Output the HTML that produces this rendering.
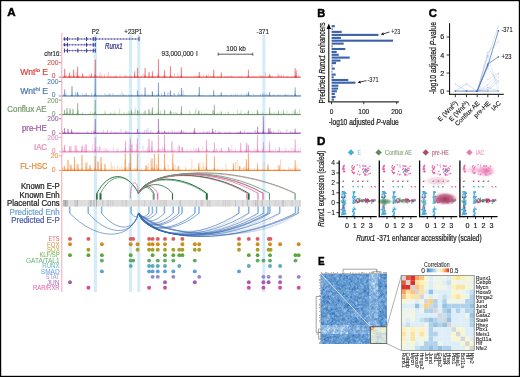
<!DOCTYPE html>
<html><head><meta charset="utf-8"><style>
html,body{margin:0;padding:0;background:#fff;}
svg{display:block;font-family:"Liberation Sans", sans-serif;will-change:transform;}
</style></head><body>
<svg width="520" height="377" viewBox="0 0 520 377">
<defs>
<radialGradient id="gG"><stop offset="0" stop-color="#4a8650" stop-opacity="1"/><stop offset="0.6" stop-color="#6a9c6c" stop-opacity="0.7"/><stop offset="1" stop-color="#8ab08a" stop-opacity="0"/></radialGradient>
<radialGradient id="gG2"><stop offset="0" stop-color="#7aa878" stop-opacity="0.6"/><stop offset="1" stop-color="#9ac09a" stop-opacity="0"/></radialGradient>
<radialGradient id="gGr"><stop offset="0" stop-color="#c8c8c8" stop-opacity="0.35"/><stop offset="1" stop-color="#dddddd" stop-opacity="0"/></radialGradient>
<radialGradient id="gP1"><stop offset="0" stop-color="#d890ac" stop-opacity="0.6"/><stop offset="1" stop-color="#f0c8d8" stop-opacity="0"/></radialGradient>
<radialGradient id="gP2"><stop offset="0" stop-color="#a8345c" stop-opacity="1"/><stop offset="0.6" stop-color="#bc5a80" stop-opacity="0.85"/><stop offset="1" stop-color="#e0a0b8" stop-opacity="0"/></radialGradient>
<radialGradient id="gI1"><stop offset="0" stop-color="#e870ac" stop-opacity="0.9"/><stop offset="0.6" stop-color="#f0a0ca" stop-opacity="0.65"/><stop offset="1" stop-color="#f4b8d8" stop-opacity="0"/></radialGradient>
<radialGradient id="gI2"><stop offset="0" stop-color="#f0a8d0" stop-opacity="0.85"/><stop offset="1" stop-color="#f6c8e0" stop-opacity="0"/></radialGradient>
<linearGradient id="gCB" x1="0" x2="1"><stop offset="0" stop-color="#3f7fc0"/><stop offset="0.3" stop-color="#9cc8e8"/><stop offset="0.5" stop-color="#f4f8e4"/><stop offset="0.7" stop-color="#fde49a"/><stop offset="0.85" stop-color="#f88a50"/><stop offset="1" stop-color="#d8262a"/></linearGradient>
</defs>
<rect x="0.00" y="0.00" width="520.00" height="377.00" fill="#fff"/>
<text x="7.3" y="16.4" font-size="11.8" fill="#000" stroke="#000" stroke-width="0.45" text-anchor="start" font-weight="bold" font-style="normal" textLength="8.4" lengthAdjust="spacingAndGlyphs">A</text>
<rect x="93.80" y="35.00" width="3.20" height="257.00" fill="#d4ecfa"/>
<rect x="128.90" y="35.00" width="3.20" height="257.00" fill="#d4ecfa"/>
<rect x="137.30" y="35.00" width="3.00" height="257.00" fill="#d4ecfa"/>
<rect x="262.40" y="35.00" width="3.00" height="257.00" fill="#d4ecfa"/>
<rect x="61.00" y="33.00" width="1.40" height="259.00" fill="#f7c0ca"/>
<text x="95.5" y="34.2" font-size="7.2" fill="#222" stroke="#222" stroke-width="0.14" text-anchor="middle" font-weight="normal" font-style="normal" textLength="7.4" lengthAdjust="spacingAndGlyphs">P2</text>
<text x="133.3" y="34.2" font-size="7.2" fill="#222" stroke="#222" stroke-width="0.14" text-anchor="middle" font-weight="normal" font-style="normal" textLength="18" lengthAdjust="spacingAndGlyphs">+23P1</text>
<text x="262.8" y="33.9" font-size="7.2" fill="#222" stroke="#222" stroke-width="0.14" text-anchor="middle" font-weight="normal" font-style="normal" textLength="12.4" lengthAdjust="spacingAndGlyphs">-371</text>
<line x1="64" y1="39.0" x2="139.2" y2="39.0" stroke="#4a4e9c" stroke-width="0.7"/>
<path d="M66.0 38.2 L67.0 39.0 L66.0 39.8" stroke="#4a4e9c" stroke-width="0.55" fill="none"/>
<path d="M69.0 38.2 L70.0 39.0 L69.0 39.8" stroke="#4a4e9c" stroke-width="0.55" fill="none"/>
<path d="M72.0 38.2 L73.0 39.0 L72.0 39.8" stroke="#4a4e9c" stroke-width="0.55" fill="none"/>
<path d="M75.0 38.2 L76.0 39.0 L75.0 39.8" stroke="#4a4e9c" stroke-width="0.55" fill="none"/>
<path d="M78.0 38.2 L79.0 39.0 L78.0 39.8" stroke="#4a4e9c" stroke-width="0.55" fill="none"/>
<path d="M81.0 38.2 L82.0 39.0 L81.0 39.8" stroke="#4a4e9c" stroke-width="0.55" fill="none"/>
<path d="M84.0 38.2 L85.0 39.0 L84.0 39.8" stroke="#4a4e9c" stroke-width="0.55" fill="none"/>
<path d="M87.0 38.2 L88.0 39.0 L87.0 39.8" stroke="#4a4e9c" stroke-width="0.55" fill="none"/>
<path d="M90.0 38.2 L91.0 39.0 L90.0 39.8" stroke="#4a4e9c" stroke-width="0.55" fill="none"/>
<path d="M93.0 38.2 L94.0 39.0 L93.0 39.8" stroke="#4a4e9c" stroke-width="0.55" fill="none"/>
<path d="M96.0 38.2 L97.0 39.0 L96.0 39.8" stroke="#4a4e9c" stroke-width="0.55" fill="none"/>
<path d="M99.0 38.2 L100.0 39.0 L99.0 39.8" stroke="#4a4e9c" stroke-width="0.55" fill="none"/>
<path d="M102.0 38.2 L103.0 39.0 L102.0 39.8" stroke="#4a4e9c" stroke-width="0.55" fill="none"/>
<path d="M105.0 38.2 L106.0 39.0 L105.0 39.8" stroke="#4a4e9c" stroke-width="0.55" fill="none"/>
<path d="M108.0 38.2 L109.0 39.0 L108.0 39.8" stroke="#4a4e9c" stroke-width="0.55" fill="none"/>
<path d="M111.0 38.2 L112.0 39.0 L111.0 39.8" stroke="#4a4e9c" stroke-width="0.55" fill="none"/>
<path d="M114.0 38.2 L115.0 39.0 L114.0 39.8" stroke="#4a4e9c" stroke-width="0.55" fill="none"/>
<path d="M117.0 38.2 L118.0 39.0 L117.0 39.8" stroke="#4a4e9c" stroke-width="0.55" fill="none"/>
<path d="M120.0 38.2 L121.0 39.0 L120.0 39.8" stroke="#4a4e9c" stroke-width="0.55" fill="none"/>
<path d="M123.0 38.2 L124.0 39.0 L123.0 39.8" stroke="#4a4e9c" stroke-width="0.55" fill="none"/>
<path d="M126.0 38.2 L127.0 39.0 L126.0 39.8" stroke="#4a4e9c" stroke-width="0.55" fill="none"/>
<path d="M129.0 38.2 L130.0 39.0 L129.0 39.8" stroke="#4a4e9c" stroke-width="0.55" fill="none"/>
<path d="M132.0 38.2 L133.0 39.0 L132.0 39.8" stroke="#4a4e9c" stroke-width="0.55" fill="none"/>
<path d="M135.0 38.2 L136.0 39.0 L135.0 39.8" stroke="#4a4e9c" stroke-width="0.55" fill="none"/>
<rect x="67.00" y="37.00" width="1.05" height="4.00" fill="#3b3f8e"/>
<rect x="77.30" y="37.00" width="1.05" height="4.00" fill="#3b3f8e"/>
<rect x="86.00" y="37.00" width="1.05" height="4.00" fill="#3b3f8e"/>
<rect x="92.70" y="37.00" width="1.05" height="4.00" fill="#3b3f8e"/>
<rect x="94.80" y="37.00" width="1.05" height="4.00" fill="#3b3f8e"/>
<ellipse cx="64.5" cy="39.0" rx="1.0" ry="1.8" fill="#3b3f8e"/>
<rect x="138.50" y="36.80" width="1.00" height="4.40" fill="#3b3f8e"/>
<line x1="64" y1="44.8" x2="95.8" y2="44.8" stroke="#4a4e9c" stroke-width="0.7"/>
<path d="M66.0 44.0 L67.0 44.8 L66.0 45.599999999999994" stroke="#4a4e9c" stroke-width="0.55" fill="none"/>
<path d="M69.0 44.0 L70.0 44.8 L69.0 45.599999999999994" stroke="#4a4e9c" stroke-width="0.55" fill="none"/>
<path d="M72.0 44.0 L73.0 44.8 L72.0 45.599999999999994" stroke="#4a4e9c" stroke-width="0.55" fill="none"/>
<path d="M75.0 44.0 L76.0 44.8 L75.0 45.599999999999994" stroke="#4a4e9c" stroke-width="0.55" fill="none"/>
<path d="M78.0 44.0 L79.0 44.8 L78.0 45.599999999999994" stroke="#4a4e9c" stroke-width="0.55" fill="none"/>
<path d="M81.0 44.0 L82.0 44.8 L81.0 45.599999999999994" stroke="#4a4e9c" stroke-width="0.55" fill="none"/>
<path d="M84.0 44.0 L85.0 44.8 L84.0 45.599999999999994" stroke="#4a4e9c" stroke-width="0.55" fill="none"/>
<path d="M87.0 44.0 L88.0 44.8 L87.0 45.599999999999994" stroke="#4a4e9c" stroke-width="0.55" fill="none"/>
<path d="M90.0 44.0 L91.0 44.8 L90.0 45.599999999999994" stroke="#4a4e9c" stroke-width="0.55" fill="none"/>
<path d="M93.0 44.0 L94.0 44.8 L93.0 45.599999999999994" stroke="#4a4e9c" stroke-width="0.55" fill="none"/>
<rect x="67.00" y="42.80" width="1.05" height="4.00" fill="#3b3f8e"/>
<rect x="86.00" y="42.80" width="1.05" height="4.00" fill="#3b3f8e"/>
<rect x="92.70" y="42.80" width="1.05" height="4.00" fill="#3b3f8e"/>
<rect x="94.80" y="42.80" width="1.05" height="4.00" fill="#3b3f8e"/>
<ellipse cx="64.5" cy="44.8" rx="1.0" ry="1.8" fill="#3b3f8e"/>
<line x1="64" y1="50.6" x2="95.8" y2="50.6" stroke="#4a4e9c" stroke-width="0.7"/>
<path d="M66.0 49.800000000000004 L67.0 50.6 L66.0 51.4" stroke="#4a4e9c" stroke-width="0.55" fill="none"/>
<path d="M69.0 49.800000000000004 L70.0 50.6 L69.0 51.4" stroke="#4a4e9c" stroke-width="0.55" fill="none"/>
<path d="M72.0 49.800000000000004 L73.0 50.6 L72.0 51.4" stroke="#4a4e9c" stroke-width="0.55" fill="none"/>
<path d="M75.0 49.800000000000004 L76.0 50.6 L75.0 51.4" stroke="#4a4e9c" stroke-width="0.55" fill="none"/>
<path d="M78.0 49.800000000000004 L79.0 50.6 L78.0 51.4" stroke="#4a4e9c" stroke-width="0.55" fill="none"/>
<path d="M81.0 49.800000000000004 L82.0 50.6 L81.0 51.4" stroke="#4a4e9c" stroke-width="0.55" fill="none"/>
<path d="M84.0 49.800000000000004 L85.0 50.6 L84.0 51.4" stroke="#4a4e9c" stroke-width="0.55" fill="none"/>
<path d="M87.0 49.800000000000004 L88.0 50.6 L87.0 51.4" stroke="#4a4e9c" stroke-width="0.55" fill="none"/>
<path d="M90.0 49.800000000000004 L91.0 50.6 L90.0 51.4" stroke="#4a4e9c" stroke-width="0.55" fill="none"/>
<path d="M93.0 49.800000000000004 L94.0 50.6 L93.0 51.4" stroke="#4a4e9c" stroke-width="0.55" fill="none"/>
<rect x="67.00" y="48.60" width="1.05" height="4.00" fill="#3b3f8e"/>
<rect x="77.30" y="48.60" width="1.05" height="4.00" fill="#3b3f8e"/>
<rect x="86.00" y="48.60" width="1.05" height="4.00" fill="#3b3f8e"/>
<rect x="92.70" y="48.60" width="1.05" height="4.00" fill="#3b3f8e"/>
<rect x="94.80" y="48.60" width="1.05" height="4.00" fill="#3b3f8e"/>
<rect x="63.90" y="48.60" width="1.05" height="4.00" fill="#3b3f8e"/>
<text x="113.8" y="49.4" font-size="8.4" fill="#30348a" stroke="#30348a" stroke-width="0.24" text-anchor="middle" font-weight="normal" font-style="italic" textLength="17.5" lengthAdjust="spacingAndGlyphs">Runx1</text>
<text x="61" y="56.3" font-size="7.2" fill="#222" stroke="#222" stroke-width="0.14" text-anchor="end" font-weight="normal" font-style="normal" textLength="16.8" lengthAdjust="spacingAndGlyphs">chr16:</text>
<text x="161.6" y="56.0" font-size="7.2" fill="#222" stroke="#222" stroke-width="0.14" text-anchor="start" font-weight="normal" font-style="normal" textLength="32" lengthAdjust="spacingAndGlyphs">93,000,000</text>
<rect x="196.50" y="50.80" width="0.80" height="5.20" fill="#222"/>
<text x="236" y="51.2" font-size="7.2" fill="#222" stroke="#222" stroke-width="0.14" text-anchor="middle" font-weight="normal" font-style="normal" textLength="19.5" lengthAdjust="spacingAndGlyphs">100 kb</text>
<line x1="218" y1="54.2" x2="253" y2="54.2" stroke="#333" stroke-width="0.8"/>
<line x1="218.2" y1="52.6" x2="218.2" y2="55.8" stroke="#333" stroke-width="0.7"/>
<line x1="252.8" y1="52.6" x2="252.8" y2="55.8" stroke="#333" stroke-width="0.7"/>
<text x="20.2" y="74.89999999999999" font-size="8.6" fill="#d9463f" stroke="#d9463f" stroke-width="0.24">Wnt<tspan font-size="5.8" dy="-3.2">lo</tspan><tspan dy="3.2"> E</tspan></text>
<text x="58.4" y="65.10000000000001" font-size="6.8" fill="#d9463f" stroke="#d9463f" stroke-width="0.06" text-anchor="end" font-weight="normal" font-style="normal" textLength="11.2" lengthAdjust="spacingAndGlyphs">200</text>
<text x="55.6" y="78.4" font-size="6.8" fill="#d9463f" stroke="#d9463f" stroke-width="0.06" text-anchor="end" font-weight="normal" font-style="normal">0</text>
<line x1="58.8" y1="62.7" x2="61.2" y2="62.7" stroke="#d9463f" stroke-width="0.8"/>
<line x1="58.8" y1="77.2" x2="61.2" y2="77.2" stroke="#d9463f" stroke-width="0.8"/>
<path d="M63.1 77.2 V76.2 M63.9 77.2 V76.6 M65.1 77.2 V76.3 M65.7 77.2 V76.9 M66.3 77.2 V74.6 M67.1 77.2 V76.8 M67.7 77.2 V76.8 M68.5 77.2 V75.3 M69.1 77.2 V75.6 M71.3 77.2 V75.2 M72.1 77.2 V75.9 M73.5 77.2 V76.4 M74.5 77.2 V76.2 M75.3 77.2 V76.6 M76.1 77.2 V72.0 M76.7 77.2 V75.9 M77.7 77.2 V76.7 M78.7 77.2 V76.2 M79.7 77.2 V75.9 M82.3 77.2 V76.2 M83.3 77.2 V75.5 M84.3 77.2 V76.4 M85.3 77.2 V76.2 M86.7 77.2 V75.8 M88.3 77.2 V76.8 M89.3 77.2 V74.0 M90.9 77.2 V75.9 M91.5 77.2 V72.9 M94.1 77.2 V74.9 M95.1 77.2 V76.8 M96.1 77.2 V76.7 M97.1 77.2 V75.6 M97.7 77.2 V75.8 M99.5 77.2 V75.7 M100.1 77.2 V72.2 M101.5 77.2 V75.0 M104.5 77.2 V74.4 M105.5 77.2 V76.9 M107.7 77.2 V75.7 M108.3 77.2 V72.1 M109.3 77.2 V76.9 M110.1 77.2 V76.8 M110.7 77.2 V75.3 M111.7 77.2 V76.6 M112.7 77.2 V76.7 M113.5 77.2 V76.5 M114.1 77.2 V76.4 M114.7 77.2 V76.5 M115.5 77.2 V75.9 M116.3 77.2 V75.6 M116.9 77.2 V75.3 M119.5 77.2 V76.5 M120.1 77.2 V74.5 M121.7 77.2 V76.5 M124.3 77.2 V75.2 M125.3 77.2 V76.0 M125.9 77.2 V74.4 M127.5 77.2 V76.1 M129.3 77.2 V75.7 M129.9 77.2 V76.5 M130.5 77.2 V76.3 M131.5 77.2 V76.2 M134.9 77.2 V75.0 M136.5 77.2 V76.4 M137.5 77.2 V76.8 M140.9 77.2 V76.1 M141.5 77.2 V75.8 M143.1 77.2 V73.6 M144.5 77.2 V74.8 M146.7 77.2 V76.3 M148.3 77.2 V76.8 M150.1 77.2 V75.7 M150.9 77.2 V76.5 M151.5 77.2 V76.8 M152.3 77.2 V76.0 M153.3 77.2 V76.2 M154.1 77.2 V76.8 M154.7 77.2 V76.1 M155.5 77.2 V76.4 M156.3 77.2 V76.1 M157.9 77.2 V75.9 M159.5 77.2 V76.8 M160.3 77.2 V76.7 M161.3 77.2 V76.2 M162.3 77.2 V76.1 M162.9 77.2 V76.8 M163.7 77.2 V74.9 M164.7 77.2 V75.5 M165.5 77.2 V76.4 M166.3 77.2 V76.6 M167.3 77.2 V76.6 M167.9 77.2 V76.7 M169.5 77.2 V76.4 M170.1 77.2 V76.6 M171.7 77.2 V76.8 M172.3 77.2 V75.9 M172.9 77.2 V75.9 M174.5 77.2 V73.4 M176.3 77.2 V76.7 M176.9 77.2 V76.7 M177.9 77.2 V73.0 M178.5 77.2 V76.0 M179.5 77.2 V76.5 M180.1 77.2 V75.8 M181.7 77.2 V76.8 M182.7 77.2 V76.7 M183.9 77.2 V76.6 M185.5 77.2 V76.8 M187.5 77.2 V76.1 M188.3 77.2 V76.9 M190.7 77.2 V76.8 M191.7 77.2 V76.3 M193.5 77.2 V76.1 M194.9 77.2 V75.5 M196.7 77.2 V75.9 M197.5 77.2 V75.9 M198.3 77.2 V76.5 M198.9 77.2 V75.9 M200.9 77.2 V75.1 M201.9 77.2 V76.9 M203.3 77.2 V74.1 M204.7 77.2 V76.7 M206.7 77.2 V75.5 M208.3 77.2 V73.8 M209.1 77.2 V76.5 M209.9 77.2 V76.4 M210.7 77.2 V75.7 M211.7 77.2 V76.1 M212.5 77.2 V76.2 M213.3 77.2 V76.5 M214.1 77.2 V76.8 M216.9 77.2 V76.2 M217.7 77.2 V76.2 M218.3 77.2 V76.8 M219.3 77.2 V76.7 M220.1 77.2 V76.6 M220.7 77.2 V76.5 M224.3 77.2 V76.1 M225.7 77.2 V76.2 M227.3 77.2 V76.1 M227.9 77.2 V76.2 M228.9 77.2 V76.4 M229.9 77.2 V76.4 M230.7 77.2 V76.1 M231.3 77.2 V75.4 M232.1 77.2 V76.7 M232.9 77.2 V76.2 M233.9 77.2 V76.8 M236.1 77.2 V76.5 M237.7 77.2 V76.9 M238.7 77.2 V76.2 M239.7 77.2 V76.4 M241.1 77.2 V76.5 M241.7 77.2 V75.3 M242.7 77.2 V76.6 M243.7 77.2 V76.9 M245.7 77.2 V76.4 M247.5 77.2 V76.2 M248.3 77.2 V76.5 M249.3 77.2 V76.6 M250.9 77.2 V76.3 M251.5 77.2 V76.8 M252.3 77.2 V76.6 M253.3 77.2 V75.7 M254.3 77.2 V75.7 M255.5 77.2 V76.7 M256.3 77.2 V76.7 M257.1 77.2 V76.5 M258.1 77.2 V76.7 M259.9 77.2 V74.8 M260.5 77.2 V76.3 M261.3 77.2 V75.7 M262.1 77.2 V75.4 M263.1 77.2 V75.8 M263.9 77.2 V76.5 M265.3 77.2 V72.6 M265.9 77.2 V76.3 M266.9 77.2 V76.8 M267.9 77.2 V75.3 M268.5 77.2 V76.5 M269.5 77.2 V76.2 M270.5 77.2 V75.2 M271.1 77.2 V76.5 M272.1 77.2 V75.4 M276.7 77.2 V76.5 M277.5 77.2 V76.4 M278.1 77.2 V73.2 M278.9 77.2 V75.0 M279.9 77.2 V75.0 M281.1 77.2 V75.6 M281.7 77.2 V75.2 M282.7 77.2 V76.8 M283.7 77.2 V74.7 M284.7 77.2 V76.6 M285.5 77.2 V76.6 M286.7 77.2 V76.8 M287.3 77.2 V76.1 M287.9 77.2 V75.7 M291.3 77.2 V75.8 M292.1 77.2 V76.7 M294.1 77.2 V76.0 M295.1 77.2 V76.2 M296.1 77.2 V76.6 M297.1 77.2 V76.3 M298.7 77.2 V74.4 M299.7 77.2 V76.7" stroke="#e2343a" stroke-width="0.5" fill="none" opacity="0.6"/>
<path d="M64.0 77.2 L64.5 75.6 L64.6 69.0 L65.0 69.0 L65.1 75.6 L65.6 77.2 Z M69.0 77.2 L69.5 76.3 L69.6 72.7 L70.0 72.7 L70.1 76.3 L70.6 77.2 Z M72.9 77.2 L73.4 75.7 L73.5 69.9 L73.9 69.9 L74.0 75.7 L74.5 77.2 Z M76.9 77.2 L77.4 75.1 L77.5 66.9 L77.9 66.9 L78.0 75.1 L78.5 77.2 Z M81.6 77.2 L82.1 76.5 L82.2 73.5 L82.6 73.5 L82.7 76.5 L83.2 77.2 Z M90.5 77.2 L91.0 76.7 L91.1 74.7 L91.5 74.7 L91.6 76.7 L92.1 77.2 Z M94.4 77.2 L94.9 73.7 L95.0 59.8 L95.4 59.8 L95.5 73.7 L96.0 77.2 Z M133.9 77.2 L134.4 76.0 L134.5 71.4 L134.8 71.4 L135.0 76.0 L135.5 77.2 Z M136.8 77.2 L137.3 75.4 L137.4 68.0 L137.8 68.0 L137.9 75.4 L138.4 77.2 Z M144.3 77.2 L144.8 75.4 L144.9 68.0 L145.2 68.0 L145.4 75.4 L145.9 77.2 Z M148.2 77.2 L148.7 76.2 L148.8 72.3 L149.2 72.3 L149.3 76.2 L149.8 77.2 Z M151.6 77.2 L152.1 76.0 L152.2 71.4 L152.6 71.4 L152.7 76.0 L153.2 77.2 Z M157.6 77.2 L158.1 73.6 L158.2 59.3 L158.6 59.3 L158.7 73.6 L159.2 77.2 Z M163.8 77.2 L164.3 75.8 L164.4 70.2 L164.8 70.2 L164.9 75.8 L165.4 77.2 Z M169.7 77.2 L170.2 75.0 L170.3 66.2 L170.7 66.2 L170.8 75.0 L171.3 77.2 Z M180.6 77.2 L181.1 75.3 L181.2 67.5 L181.6 67.5 L181.7 75.3 L182.2 77.2 Z M198.4 77.2 L198.9 76.2 L199.0 72.0 L199.3 72.0 L199.5 76.2 L200.0 77.2 Z M205.7 77.2 L206.2 76.8 L206.3 75.4 L206.7 75.4 L206.8 76.8 L207.3 77.2 Z M213.0 77.2 L213.5 75.7 L213.7 69.7 L214.0 69.7 L214.1 75.7 L214.6 77.2 Z M220.4 77.2 L220.9 76.3 L221.0 72.6 L221.3 72.6 L221.5 76.3 L222.0 77.2 Z M247.6 77.2 L248.1 75.7 L248.2 69.7 L248.6 69.7 L248.7 75.7 L249.2 77.2 Z M268.9 77.2 L269.4 76.6 L269.6 74.0 L269.8 74.0 L270.0 76.6 L270.5 77.2 Z M294.3 77.2 L294.8 75.4 L295.0 68.0 L295.2 68.0 L295.4 75.4 L295.9 77.2 Z M295.4 77.2 L295.9 75.9 L296.1 70.6 L296.3 70.6 L296.5 75.9 L297.0 77.2 Z" fill="#e2343a" stroke="#e2343a" stroke-width="0.25" opacity="0.9"/>
<line x1="62.2" y1="77.2" x2="300.8" y2="77.2" stroke="#e2343a" stroke-width="1.0"/>
<text x="20.2" y="93.69999999999999" font-size="8.6" fill="#4b78b6" stroke="#4b78b6" stroke-width="0.24">Wnt<tspan font-size="5.8" dy="-3.2">hi</tspan><tspan dy="3.2"> E</tspan></text>
<text x="58.4" y="83.9" font-size="6.8" fill="#4b78b6" stroke="#4b78b6" stroke-width="0.06" text-anchor="end" font-weight="normal" font-style="normal" textLength="11.2" lengthAdjust="spacingAndGlyphs">200</text>
<text x="55.6" y="97.2" font-size="6.8" fill="#4b78b6" stroke="#4b78b6" stroke-width="0.06" text-anchor="end" font-weight="normal" font-style="normal">0</text>
<line x1="58.8" y1="81.5" x2="61.2" y2="81.5" stroke="#4b78b6" stroke-width="0.8"/>
<line x1="58.8" y1="96.0" x2="61.2" y2="96.0" stroke="#4b78b6" stroke-width="0.8"/>
<path d="M62.5 96.0 V95.3 M63.5 96.0 V93.9 M64.5 96.0 V95.4 M65.3 96.0 V95.5 M66.1 96.0 V93.2 M67.7 96.0 V95.6 M71.1 96.0 V95.1 M71.9 96.0 V95.6 M75.3 96.0 V92.1 M75.9 96.0 V92.6 M77.7 96.0 V92.2 M78.7 96.0 V95.3 M80.7 96.0 V95.4 M82.3 96.0 V93.7 M82.9 96.0 V95.1 M83.9 96.0 V94.7 M84.5 96.0 V95.1 M85.1 96.0 V94.9 M85.9 96.0 V93.0 M86.5 96.0 V93.5 M87.3 96.0 V95.6 M88.3 96.0 V95.1 M90.5 96.0 V95.5 M91.5 96.0 V92.8 M93.9 96.0 V95.5 M96.5 96.0 V95.7 M97.3 96.0 V95.7 M98.1 96.0 V95.6 M98.7 96.0 V95.4 M101.1 96.0 V95.1 M101.9 96.0 V95.4 M104.9 96.0 V93.1 M106.5 96.0 V94.3 M107.7 96.0 V94.8 M108.7 96.0 V94.0 M109.5 96.0 V93.9 M110.5 96.0 V93.5 M112.3 96.0 V95.3 M112.9 96.0 V93.0 M113.7 96.0 V95.4 M114.5 96.0 V95.0 M116.3 96.0 V94.7 M116.9 96.0 V94.9 M117.5 96.0 V95.0 M118.5 96.0 V94.9 M120.1 96.0 V93.7 M121.1 96.0 V95.4 M122.1 96.0 V91.6 M123.1 96.0 V94.1 M123.9 96.0 V94.1 M124.5 96.0 V95.5 M125.5 96.0 V95.3 M126.3 96.0 V94.9 M128.5 96.0 V94.6 M130.3 96.0 V94.9 M131.1 96.0 V95.0 M131.9 96.0 V94.2 M132.5 96.0 V95.6 M133.3 96.0 V95.5 M134.1 96.0 V94.9 M134.7 96.0 V95.7 M135.5 96.0 V95.4 M137.3 96.0 V95.0 M138.3 96.0 V95.6 M139.1 96.0 V95.2 M139.7 96.0 V95.5 M140.3 96.0 V95.1 M140.9 96.0 V94.5 M141.7 96.0 V94.1 M142.5 96.0 V94.6 M143.1 96.0 V95.6 M144.1 96.0 V95.0 M146.9 96.0 V95.5 M147.7 96.0 V94.3 M148.3 96.0 V95.4 M148.9 96.0 V94.9 M149.7 96.0 V95.2 M150.3 96.0 V95.6 M150.9 96.0 V94.8 M152.3 96.0 V91.2 M153.3 96.0 V95.5 M154.7 96.0 V94.4 M155.7 96.0 V95.4 M156.5 96.0 V94.9 M161.5 96.0 V92.9 M162.5 96.0 V95.1 M163.1 96.0 V95.3 M163.7 96.0 V95.3 M165.3 96.0 V95.6 M165.9 96.0 V95.6 M167.5 96.0 V92.7 M168.9 96.0 V91.9 M171.3 96.0 V95.7 M172.3 96.0 V95.6 M173.9 96.0 V93.0 M174.5 96.0 V93.2 M175.3 96.0 V94.6 M177.7 96.0 V94.2 M178.5 96.0 V92.4 M179.1 96.0 V95.4 M179.7 96.0 V94.0 M181.7 96.0 V94.4 M183.1 96.0 V90.4 M184.1 96.0 V94.4 M184.9 96.0 V95.0 M186.7 96.0 V95.1 M187.5 96.0 V95.7 M188.3 96.0 V95.6 M189.3 96.0 V95.2 M189.9 96.0 V95.6 M191.3 96.0 V95.6 M192.5 96.0 V95.4 M194.3 96.0 V95.1 M194.9 96.0 V95.2 M197.9 96.0 V94.8 M201.1 96.0 V95.7 M201.7 96.0 V95.0 M202.5 96.0 V95.2 M203.3 96.0 V95.7 M204.1 96.0 V95.6 M205.1 96.0 V95.6 M208.1 96.0 V95.4 M209.1 96.0 V95.3 M209.9 96.0 V94.6 M211.5 96.0 V95.7 M213.1 96.0 V95.2 M215.9 96.0 V95.2 M217.9 96.0 V94.6 M219.5 96.0 V95.0 M220.1 96.0 V95.6 M221.1 96.0 V95.7 M221.7 96.0 V94.8 M223.5 96.0 V95.1 M224.5 96.0 V94.9 M225.5 96.0 V95.5 M226.1 96.0 V95.1 M226.7 96.0 V95.0 M227.7 96.0 V95.2 M229.7 96.0 V95.2 M230.5 96.0 V94.5 M231.5 96.0 V94.5 M232.1 96.0 V95.7 M233.1 96.0 V94.8 M233.9 96.0 V95.3 M235.1 96.0 V93.2 M236.1 96.0 V94.8 M236.9 96.0 V95.2 M237.5 96.0 V94.2 M239.3 96.0 V94.8 M240.1 96.0 V95.7 M240.9 96.0 V94.7 M241.9 96.0 V93.6 M244.5 96.0 V94.6 M246.1 96.0 V94.2 M246.9 96.0 V93.2 M247.7 96.0 V95.6 M248.3 96.0 V95.3 M248.9 96.0 V93.6 M250.5 96.0 V95.1 M253.5 96.0 V93.9 M255.1 96.0 V95.5 M255.7 96.0 V95.1 M256.7 96.0 V95.1 M258.5 96.0 V95.0 M260.1 96.0 V93.6 M260.9 96.0 V94.8 M262.5 96.0 V93.9 M263.1 96.0 V93.5 M264.1 96.0 V92.7 M265.1 96.0 V94.3 M265.9 96.0 V95.1 M266.7 96.0 V93.4 M267.3 96.0 V94.3 M268.1 96.0 V95.4 M269.5 96.0 V93.7 M270.5 96.0 V95.3 M272.3 96.0 V94.8 M273.3 96.0 V94.7 M274.3 96.0 V94.4 M275.1 96.0 V94.9 M276.5 96.0 V95.4 M277.1 96.0 V95.6 M277.7 96.0 V94.9 M278.5 96.0 V94.2 M279.3 96.0 V95.6 M280.1 96.0 V94.6 M281.1 96.0 V95.3 M281.7 96.0 V95.6 M282.7 96.0 V95.4 M283.5 96.0 V95.5 M284.5 96.0 V95.0 M285.1 96.0 V93.9 M285.7 96.0 V94.1 M286.3 96.0 V95.7 M286.9 96.0 V94.9 M287.5 96.0 V95.2 M288.3 96.0 V94.3 M289.7 96.0 V95.3 M291.1 96.0 V94.5 M292.1 96.0 V94.9 M295.1 96.0 V93.1 M295.7 96.0 V94.5 M296.5 96.0 V95.2 M298.3 96.0 V95.2 M299.1 96.0 V95.7 M300.1 96.0 V94.5" stroke="#3d6aa6" stroke-width="0.5" fill="none" opacity="0.6"/>
<path d="M64.0 96.0 L64.5 94.7 L64.6 89.6 L65.0 89.6 L65.1 94.7 L65.6 96.0 Z M71.2 96.0 L71.7 94.1 L71.8 86.6 L72.2 86.6 L72.3 94.1 L72.8 96.0 Z M76.9 96.0 L77.4 95.2 L77.5 92.2 L77.9 92.2 L78.0 95.2 L78.5 96.0 Z M94.4 96.0 L94.9 92.5 L95.0 78.3 L95.4 78.3 L95.5 92.5 L96.0 96.0 Z M136.8 96.0 L137.3 94.9 L137.4 90.5 L137.8 90.5 L137.9 94.9 L138.4 96.0 Z M144.3 96.0 L144.8 94.3 L144.9 87.5 L145.2 87.5 L145.4 94.3 L145.9 96.0 Z M151.6 96.0 L152.1 95.1 L152.2 91.7 L152.6 91.7 L152.7 95.1 L153.2 96.0 Z M157.6 96.0 L158.1 93.3 L158.2 82.7 L158.6 82.7 L158.7 93.3 L159.2 96.0 Z M163.8 96.0 L164.3 95.1 L164.4 91.7 L164.8 91.7 L164.9 95.1 L165.4 96.0 Z M169.7 96.0 L170.2 94.9 L170.3 90.5 L170.7 90.5 L170.8 94.9 L171.3 96.0 Z M180.6 96.0 L181.1 94.4 L181.2 87.9 L181.6 87.9 L181.7 94.4 L182.2 96.0 Z M198.4 96.0 L198.9 94.2 L199.0 87.0 L199.3 87.0 L199.5 94.2 L200.0 96.0 Z M213.0 96.0 L213.5 94.9 L213.7 90.5 L214.0 90.5 L214.1 94.9 L214.6 96.0 Z M220.4 96.0 L220.9 95.2 L221.0 92.2 L221.3 92.2 L221.5 95.2 L222.0 96.0 Z M247.6 96.0 L248.1 95.1 L248.2 91.7 L248.6 91.7 L248.7 95.1 L249.2 96.0 Z M268.9 96.0 L269.4 95.2 L269.6 92.0 L269.8 92.0 L270.0 95.2 L270.5 96.0 Z M294.3 96.0 L294.8 94.3 L295.0 87.5 L295.2 87.5 L295.4 94.3 L295.9 96.0 Z" fill="#3d6aa6" stroke="#3d6aa6" stroke-width="0.25" opacity="0.9"/>
<line x1="62.2" y1="96.0" x2="300.8" y2="96.0" stroke="#3d6aa6" stroke-width="1.0"/>
<text x="7.2" y="112.39999999999999" font-size="8.6" fill="#799b6c" stroke="#799b6c" stroke-width="0.24" text-anchor="start" font-weight="normal" font-style="normal" textLength="39.5" lengthAdjust="spacingAndGlyphs">Conflux AE</text>
<text x="58.4" y="102.5" font-size="6.8" fill="#799b6c" stroke="#799b6c" stroke-width="0.06" text-anchor="end" font-weight="normal" font-style="normal" textLength="11.2" lengthAdjust="spacingAndGlyphs">200</text>
<text x="55.6" y="115.8" font-size="6.8" fill="#799b6c" stroke="#799b6c" stroke-width="0.06" text-anchor="end" font-weight="normal" font-style="normal">0</text>
<line x1="58.8" y1="100.1" x2="61.2" y2="100.1" stroke="#799b6c" stroke-width="0.8"/>
<line x1="58.8" y1="114.6" x2="61.2" y2="114.6" stroke="#799b6c" stroke-width="0.8"/>
<path d="M63.1 114.6 V113.8 M63.7 114.6 V114.1 M64.7 114.6 V113.7 M65.7 114.6 V113.6 M66.3 114.6 V113.3 M66.9 114.6 V112.2 M67.5 114.6 V113.7 M68.5 114.6 V112.8 M70.5 114.6 V110.3 M71.3 114.6 V114.1 M72.1 114.6 V113.2 M74.7 114.6 V114.3 M75.7 114.6 V114.0 M76.5 114.6 V112.9 M77.3 114.6 V113.6 M78.3 114.6 V110.0 M78.9 114.6 V114.1 M79.9 114.6 V113.7 M80.5 114.6 V113.8 M82.3 114.6 V111.7 M82.9 114.6 V113.1 M83.7 114.6 V113.3 M88.7 114.6 V113.3 M89.3 114.6 V114.0 M90.3 114.6 V111.3 M91.1 114.6 V113.8 M92.7 114.6 V112.4 M93.7 114.6 V112.8 M94.7 114.6 V111.5 M95.9 114.6 V113.4 M97.5 114.6 V114.3 M100.9 114.6 V113.9 M101.7 114.6 V113.8 M102.5 114.6 V113.5 M104.3 114.6 V112.3 M105.1 114.6 V110.3 M105.7 114.6 V113.2 M107.5 114.6 V113.7 M108.3 114.6 V114.3 M109.9 114.6 V113.0 M110.5 114.6 V113.2 M111.1 114.6 V112.1 M112.7 114.6 V113.6 M113.5 114.6 V113.2 M114.3 114.6 V111.3 M115.1 114.6 V113.5 M115.7 114.6 V113.4 M116.5 114.6 V113.8 M118.7 114.6 V112.8 M119.7 114.6 V108.6 M120.7 114.6 V114.1 M121.5 114.6 V113.3 M123.3 114.6 V113.2 M124.3 114.6 V112.1 M124.9 114.6 V113.6 M126.3 114.6 V114.3 M126.9 114.6 V112.3 M128.3 114.6 V112.9 M128.9 114.6 V111.0 M129.7 114.6 V113.3 M130.7 114.6 V113.4 M131.5 114.6 V109.5 M132.3 114.6 V112.3 M134.1 114.6 V112.1 M134.9 114.6 V109.9 M135.7 114.6 V107.6 M136.3 114.6 V114.3 M137.1 114.6 V113.9 M138.7 114.6 V111.5 M139.3 114.6 V110.5 M140.3 114.6 V113.4 M141.1 114.6 V114.1 M141.7 114.6 V112.7 M142.7 114.6 V114.0 M143.7 114.6 V112.0 M144.7 114.6 V113.6 M145.3 114.6 V114.3 M146.9 114.6 V113.6 M147.5 114.6 V114.1 M148.1 114.6 V114.3 M148.9 114.6 V114.0 M149.9 114.6 V112.8 M150.9 114.6 V112.2 M151.9 114.6 V110.2 M152.5 114.6 V113.0 M153.1 114.6 V114.1 M153.7 114.6 V113.9 M154.7 114.6 V113.8 M155.5 114.6 V113.1 M156.5 114.6 V113.2 M160.1 114.6 V113.2 M160.7 114.6 V110.3 M162.5 114.6 V113.5 M164.3 114.6 V113.7 M165.3 114.6 V114.2 M165.9 114.6 V114.0 M167.1 114.6 V114.1 M168.1 114.6 V113.6 M169.1 114.6 V114.3 M169.9 114.6 V112.0 M170.9 114.6 V109.8 M171.5 114.6 V112.0 M172.3 114.6 V113.9 M173.5 114.6 V111.8 M174.3 114.6 V113.7 M174.9 114.6 V114.1 M175.7 114.6 V111.8 M176.5 114.6 V113.0 M177.1 114.6 V112.7 M178.5 114.6 V114.0 M179.3 114.6 V113.9 M180.7 114.6 V112.2 M181.7 114.6 V112.7 M182.3 114.6 V114.2 M182.9 114.6 V113.4 M184.3 114.6 V114.3 M185.7 114.6 V113.0 M187.7 114.6 V114.2 M188.5 114.6 V113.7 M189.5 114.6 V110.4 M190.3 114.6 V112.7 M193.5 114.6 V113.5 M194.3 114.6 V113.5 M195.3 114.6 V110.6 M195.9 114.6 V108.4 M196.9 114.6 V114.2 M197.5 114.6 V114.1 M198.1 114.6 V112.9 M199.1 114.6 V111.2 M199.7 114.6 V113.6 M200.5 114.6 V114.2 M201.5 114.6 V111.4 M202.3 114.6 V114.1 M202.9 114.6 V114.2 M203.9 114.6 V113.3 M204.9 114.6 V113.4 M205.5 114.6 V113.9 M206.3 114.6 V112.7 M207.7 114.6 V113.3 M209.5 114.6 V113.2 M211.7 114.6 V114.2 M212.5 114.6 V110.7 M213.1 114.6 V109.6 M213.7 114.6 V111.0 M214.5 114.6 V114.3 M215.5 114.6 V114.2 M216.3 114.6 V113.8 M217.1 114.6 V112.7 M218.1 114.6 V114.0 M219.1 114.6 V112.2 M220.7 114.6 V114.1 M221.5 114.6 V114.1 M222.1 114.6 V114.2 M225.5 114.6 V112.7 M226.1 114.6 V114.1 M226.9 114.6 V114.2 M227.9 114.6 V112.0 M228.7 114.6 V111.6 M229.7 114.6 V113.6 M233.5 114.6 V113.3 M234.5 114.6 V114.3 M236.7 114.6 V114.0 M237.3 114.6 V109.5 M238.1 114.6 V113.2 M239.7 114.6 V113.2 M240.3 114.6 V112.6 M241.1 114.6 V110.1 M241.7 114.6 V113.7 M242.7 114.6 V114.0 M243.7 114.6 V113.8 M244.5 114.6 V113.2 M245.1 114.6 V112.9 M245.9 114.6 V114.2 M246.9 114.6 V113.6 M247.9 114.6 V111.9 M249.1 114.6 V114.1 M250.7 114.6 V113.8 M251.5 114.6 V114.0 M252.5 114.6 V112.5 M254.3 114.6 V113.7 M256.1 114.6 V114.2 M257.1 114.6 V109.5 M258.1 114.6 V112.1 M258.9 114.6 V114.0 M260.5 114.6 V113.5 M262.1 114.6 V111.9 M262.9 114.6 V113.0 M263.7 114.6 V113.6 M264.7 114.6 V114.3 M265.5 114.6 V114.0 M266.1 114.6 V112.4 M269.9 114.6 V111.7 M270.9 114.6 V113.1 M271.9 114.6 V112.9 M273.3 114.6 V112.5 M274.1 114.6 V114.3 M274.7 114.6 V111.8 M276.3 114.6 V112.8 M277.9 114.6 V112.8 M278.7 114.6 V113.8 M279.3 114.6 V114.2 M280.1 114.6 V114.2 M281.1 114.6 V111.8 M281.9 114.6 V113.8 M283.7 114.6 V113.9 M284.3 114.6 V113.9 M285.1 114.6 V113.4 M286.9 114.6 V110.5 M288.7 114.6 V113.2 M289.7 114.6 V113.8 M290.5 114.6 V114.3 M291.3 114.6 V113.2 M292.9 114.6 V110.9 M294.5 114.6 V111.2 M296.1 114.6 V113.1 M296.7 114.6 V113.9 M297.3 114.6 V112.4 M299.3 114.6 V109.3 M300.1 114.6 V113.7" stroke="#5f8c5c" stroke-width="0.5" fill="none" opacity="0.6"/>
<path d="M63.7 114.6 L64.2 113.7 L64.3 110.0 L64.7 110.0 L64.8 113.7 L65.3 114.6 Z M66.2 114.6 L66.7 113.3 L66.8 108.0 L67.2 108.0 L67.3 113.3 L67.8 114.6 Z M69.2 114.6 L69.7 113.4 L69.8 108.5 L70.2 108.5 L70.3 113.4 L70.8 114.6 Z M72.2 114.6 L72.7 113.5 L72.8 109.0 L73.2 109.0 L73.3 113.5 L73.8 114.6 Z M76.9 114.6 L77.4 112.3 L77.5 103.2 L77.9 103.2 L78.0 112.3 L78.5 114.6 Z M94.4 114.6 L94.9 111.7 L95.0 100.0 L95.4 100.0 L95.5 111.7 L96.0 114.6 Z M130.4 114.6 L130.9 113.8 L131.0 110.5 L131.3 110.5 L131.5 113.8 L132.0 114.6 Z M136.8 114.6 L137.3 113.8 L137.4 110.5 L137.8 110.5 L137.9 113.8 L138.4 114.6 Z M144.3 114.6 L144.8 113.8 L144.9 110.5 L145.2 110.5 L145.4 113.8 L145.9 114.6 Z M148.2 114.6 L148.7 113.5 L148.8 109.2 L149.2 109.2 L149.3 113.5 L149.8 114.6 Z M151.6 114.6 L152.1 113.2 L152.2 107.5 L152.6 107.5 L152.7 113.2 L153.2 114.6 Z M157.6 114.6 L158.1 111.3 L158.2 98.0 L158.6 98.0 L158.7 111.3 L159.2 114.6 Z M163.8 114.6 L164.3 113.6 L164.4 109.8 L164.8 109.8 L164.9 113.6 L165.4 114.6 Z M169.7 114.6 L170.2 113.9 L170.3 111.0 L170.7 111.0 L170.8 113.9 L171.3 114.6 Z M180.6 114.6 L181.1 112.9 L181.2 106.3 L181.6 106.3 L181.7 112.9 L182.2 114.6 Z M197.9 114.6 L198.4 113.8 L198.5 110.5 L198.8 110.5 L199.0 113.8 L199.5 114.6 Z M213.5 114.6 L214.0 112.7 L214.2 104.9 L214.5 104.9 L214.6 112.7 L215.1 114.6 Z M220.4 114.6 L220.9 114.0 L221.0 111.5 L221.3 111.5 L221.5 114.0 L222.0 114.6 Z M247.6 114.6 L248.1 113.8 L248.2 110.5 L248.6 110.5 L248.7 113.8 L249.2 114.6 Z M256.8 114.6 L257.3 113.8 L257.5 110.5 L257.8 110.5 L257.9 113.8 L258.4 114.6 Z M268.9 114.6 L269.4 113.2 L269.6 107.5 L269.8 107.5 L270.0 113.2 L270.5 114.6 Z M277.7 114.6 L278.2 113.8 L278.4 110.5 L278.6 110.5 L278.8 113.8 L279.3 114.6 Z M282.7 114.6 L283.2 113.8 L283.4 110.5 L283.6 110.5 L283.8 113.8 L284.3 114.6 Z M294.3 114.6 L294.8 113.5 L295.0 109.2 L295.2 109.2 L295.4 113.5 L295.9 114.6 Z" fill="#5f8c5c" stroke="#5f8c5c" stroke-width="0.25" opacity="0.9"/>
<line x1="62.2" y1="114.6" x2="300.8" y2="114.6" stroke="#5f8c5c" stroke-width="1.0"/>
<text x="22.0" y="131.4" font-size="8.6" fill="#9a5aa8" stroke="#9a5aa8" stroke-width="0.24" text-anchor="start" font-weight="normal" font-style="normal" textLength="24.7" lengthAdjust="spacingAndGlyphs">pre-HE</text>
<text x="58.4" y="121.20000000000002" font-size="6.8" fill="#9a5aa8" stroke="#9a5aa8" stroke-width="0.06" text-anchor="end" font-weight="normal" font-style="normal" textLength="11.2" lengthAdjust="spacingAndGlyphs">200</text>
<text x="55.6" y="134.5" font-size="6.8" fill="#9a5aa8" stroke="#9a5aa8" stroke-width="0.06" text-anchor="end" font-weight="normal" font-style="normal">0</text>
<line x1="58.8" y1="118.80000000000001" x2="61.2" y2="118.80000000000001" stroke="#9a5aa8" stroke-width="0.8"/>
<line x1="58.8" y1="133.3" x2="61.2" y2="133.3" stroke="#9a5aa8" stroke-width="0.8"/>
<path d="M62.5 133.3 V130.2 M63.5 133.3 V132.3 M65.1 133.3 V132.5 M65.9 133.3 V131.7 M68.7 133.3 V132.2 M69.7 133.3 V132.3 M70.7 133.3 V132.6 M71.9 133.3 V131.0 M72.7 133.3 V131.9 M73.3 133.3 V132.2 M74.1 133.3 V132.7 M75.5 133.3 V132.9 M76.1 133.3 V132.8 M77.1 133.3 V132.3 M77.9 133.3 V132.4 M78.9 133.3 V132.1 M80.7 133.3 V132.5 M81.7 133.3 V132.8 M83.1 133.3 V132.5 M86.3 133.3 V132.8 M87.3 133.3 V131.3 M88.3 133.3 V131.8 M91.7 133.3 V131.0 M93.5 133.3 V130.4 M94.5 133.3 V132.2 M95.3 133.3 V132.1 M96.3 133.3 V132.3 M97.1 133.3 V132.9 M97.7 133.3 V132.9 M98.5 133.3 V132.0 M100.1 133.3 V132.6 M101.7 133.3 V131.9 M102.7 133.3 V132.8 M103.3 133.3 V130.1 M104.3 133.3 V132.7 M105.7 133.3 V131.7 M107.5 133.3 V129.8 M108.3 133.3 V132.2 M110.1 133.3 V132.6 M111.1 133.3 V130.2 M111.7 133.3 V132.9 M112.7 133.3 V132.7 M113.5 133.3 V132.8 M114.1 133.3 V132.4 M114.7 133.3 V132.0 M115.3 133.3 V132.6 M116.1 133.3 V132.4 M117.5 133.3 V132.1 M119.1 133.3 V132.3 M120.1 133.3 V132.9 M121.1 133.3 V129.2 M122.1 133.3 V132.8 M123.1 133.3 V133.0 M124.1 133.3 V132.5 M124.7 133.3 V132.8 M125.3 133.3 V130.3 M126.3 133.3 V131.3 M127.1 133.3 V131.1 M127.9 133.3 V133.0 M128.9 133.3 V131.5 M129.5 133.3 V132.4 M133.1 133.3 V132.4 M133.9 133.3 V132.9 M135.9 133.3 V132.2 M136.7 133.3 V133.0 M139.3 133.3 V131.6 M140.1 133.3 V132.2 M143.1 133.3 V132.1 M144.1 133.3 V132.7 M144.7 133.3 V130.0 M146.3 133.3 V129.8 M147.3 133.3 V132.8 M147.9 133.3 V127.8 M149.3 133.3 V132.3 M150.3 133.3 V132.8 M150.9 133.3 V129.7 M151.9 133.3 V132.6 M152.7 133.3 V132.5 M153.5 133.3 V132.9 M157.1 133.3 V132.6 M158.1 133.3 V132.6 M159.1 133.3 V130.1 M160.1 133.3 V132.9 M161.9 133.3 V131.0 M162.7 133.3 V132.3 M163.7 133.3 V132.7 M164.3 133.3 V132.2 M165.5 133.3 V132.8 M166.3 133.3 V131.7 M167.3 133.3 V132.4 M168.3 133.3 V131.1 M169.3 133.3 V132.1 M170.3 133.3 V131.9 M171.9 133.3 V130.0 M172.7 133.3 V131.5 M174.5 133.3 V131.3 M175.1 133.3 V132.3 M176.1 133.3 V132.4 M176.7 133.3 V131.6 M177.7 133.3 V132.5 M178.7 133.3 V131.3 M179.7 133.3 V132.7 M180.3 133.3 V131.0 M181.9 133.3 V131.8 M183.5 133.3 V130.4 M184.7 133.3 V132.9 M185.3 133.3 V131.8 M185.9 133.3 V132.1 M186.9 133.3 V133.0 M187.9 133.3 V132.7 M189.3 133.3 V132.8 M190.3 133.3 V132.3 M191.3 133.3 V132.7 M192.9 133.3 V132.3 M193.7 133.3 V130.6 M194.5 133.3 V132.1 M196.3 133.3 V132.7 M198.1 133.3 V132.8 M198.9 133.3 V132.9 M200.3 133.3 V132.5 M200.9 133.3 V132.7 M201.7 133.3 V132.9 M202.3 133.3 V132.7 M203.1 133.3 V132.8 M203.7 133.3 V130.7 M204.7 133.3 V132.9 M205.7 133.3 V132.9 M206.7 133.3 V131.4 M207.5 133.3 V131.5 M208.5 133.3 V132.7 M209.1 133.3 V130.3 M212.1 133.3 V132.0 M213.1 133.3 V131.8 M213.7 133.3 V131.6 M215.5 133.3 V130.1 M216.7 133.3 V132.9 M218.7 133.3 V130.5 M219.5 133.3 V131.8 M220.5 133.3 V132.1 M221.1 133.3 V132.9 M224.3 133.3 V132.7 M225.1 133.3 V131.7 M226.1 133.3 V132.7 M226.9 133.3 V132.5 M228.3 133.3 V132.6 M229.3 133.3 V131.9 M230.3 133.3 V131.6 M231.3 133.3 V132.8 M232.1 133.3 V132.9 M233.9 133.3 V132.9 M234.5 133.3 V132.8 M235.3 133.3 V132.4 M237.3 133.3 V131.6 M237.9 133.3 V132.4 M238.9 133.3 V131.7 M239.9 133.3 V132.4 M241.1 133.3 V132.3 M242.7 133.3 V131.9 M244.7 133.3 V129.7 M246.7 133.3 V132.6 M247.5 133.3 V132.3 M248.3 133.3 V132.3 M249.3 133.3 V132.0 M251.7 133.3 V131.7 M252.3 133.3 V132.8 M254.7 133.3 V131.3 M255.3 133.3 V130.1 M257.3 133.3 V132.3 M258.3 133.3 V132.9 M258.9 133.3 V131.9 M259.9 133.3 V132.5 M260.9 133.3 V132.3 M262.7 133.3 V132.9 M263.5 133.3 V132.0 M264.3 133.3 V132.4 M265.1 133.3 V131.6 M265.9 133.3 V132.9 M269.3 133.3 V132.7 M269.9 133.3 V130.9 M270.9 133.3 V131.9 M271.5 133.3 V131.3 M272.9 133.3 V132.0 M273.9 133.3 V130.6 M274.5 133.3 V132.9 M275.7 133.3 V132.4 M277.1 133.3 V132.3 M278.7 133.3 V129.3 M280.7 133.3 V130.8 M281.3 133.3 V132.3 M283.1 133.3 V132.5 M284.7 133.3 V133.0 M285.7 133.3 V133.0 M286.3 133.3 V133.0 M286.9 133.3 V129.2 M288.7 133.3 V132.9 M289.5 133.3 V132.9 M290.3 133.3 V131.1 M291.1 133.3 V131.1 M292.5 133.3 V132.4 M293.3 133.3 V132.5 M294.1 133.3 V132.6 M294.7 133.3 V132.4 M296.7 133.3 V132.4 M297.3 133.3 V131.9 M299.1 133.3 V132.7 M299.9 133.3 V132.1" stroke="#8d42a0" stroke-width="0.5" fill="none" opacity="0.6"/>
<path d="M63.7 133.3 L64.2 132.2 L64.3 128.0 L64.7 128.0 L64.8 132.2 L65.3 133.3 Z M67.2 133.3 L67.7 132.4 L67.8 129.0 L68.2 129.0 L68.3 132.4 L68.8 133.3 Z M70.7 133.3 L71.2 132.5 L71.3 129.5 L71.7 129.5 L71.8 132.5 L72.3 133.3 Z M94.4 133.3 L94.9 130.4 L95.0 119.0 L95.4 119.0 L95.5 130.4 L96.0 133.3 Z M136.8 133.3 L137.3 132.5 L137.4 129.1 L137.8 129.1 L137.9 132.5 L138.4 133.3 Z M157.6 133.3 L158.1 130.4 L158.2 118.8 L158.6 118.8 L158.7 130.4 L159.2 133.3 Z M163.8 133.3 L164.3 132.8 L164.4 130.9 L164.8 130.9 L164.9 132.8 L165.4 133.3 Z M180.6 133.3 L181.1 132.6 L181.2 130.0 L181.6 130.0 L181.7 132.6 L182.2 133.3 Z M193.9 133.3 L194.4 132.3 L194.5 128.3 L194.8 128.3 L195.0 132.3 L195.5 133.3 Z M211.8 133.3 L212.3 132.4 L212.4 128.8 L212.8 128.8 L212.9 132.4 L213.4 133.3 Z M239.5 133.3 L240.0 132.8 L240.2 130.9 L240.5 130.9 L240.6 132.8 L241.1 133.3 Z M256.8 133.3 L257.3 132.0 L257.5 127.0 L257.8 127.0 L257.9 132.0 L258.4 133.3 Z M262.5 133.3 L263.0 129.9 L263.2 116.2 L263.4 116.2 L263.6 129.9 L264.1 133.3 Z M267.7 133.3 L268.2 132.3 L268.4 128.3 L268.6 128.3 L268.8 132.3 L269.3 133.3 Z M269.2 133.3 L269.7 132.3 L269.9 128.3 L270.1 128.3 L270.3 132.3 L270.8 133.3 Z M294.3 133.3 L294.8 132.4 L295.0 128.8 L295.2 128.8 L295.4 132.4 L295.9 133.3 Z" fill="#8d42a0" stroke="#8d42a0" stroke-width="0.25" opacity="0.9"/>
<line x1="62.2" y1="133.3" x2="300.8" y2="133.3" stroke="#8d42a0" stroke-width="1.0"/>
<text x="34.0" y="149.9" font-size="8.6" fill="#e58abb" stroke="#e58abb" stroke-width="0.24" text-anchor="start" font-weight="normal" font-style="normal" textLength="13.0" lengthAdjust="spacingAndGlyphs">IAC</text>
<text x="58.4" y="139.8" font-size="6.8" fill="#e58abb" stroke="#e58abb" stroke-width="0.06" text-anchor="end" font-weight="normal" font-style="normal" textLength="11.2" lengthAdjust="spacingAndGlyphs">200</text>
<text x="55.6" y="153.1" font-size="6.8" fill="#e58abb" stroke="#e58abb" stroke-width="0.06" text-anchor="end" font-weight="normal" font-style="normal">0</text>
<line x1="58.8" y1="137.4" x2="61.2" y2="137.4" stroke="#e58abb" stroke-width="0.8"/>
<line x1="58.8" y1="151.9" x2="61.2" y2="151.9" stroke="#e58abb" stroke-width="0.8"/>
<path d="M62.5 151.9 V148.4 M63.5 151.9 V150.3 M64.1 151.9 V150.5 M64.7 151.9 V146.9 M65.3 151.9 V150.7 M67.1 151.9 V151.4 M68.7 151.9 V151.2 M69.5 151.9 V148.3 M70.7 151.9 V150.0 M71.5 151.9 V146.5 M73.1 151.9 V150.5 M74.1 151.9 V151.2 M74.7 151.9 V145.7 M77.3 151.9 V149.4 M77.9 151.9 V150.1 M78.5 151.9 V151.2 M79.3 151.9 V150.8 M80.9 151.9 V149.9 M81.9 151.9 V149.9 M82.9 151.9 V144.7 M83.7 151.9 V149.2 M84.5 151.9 V147.0 M85.1 151.9 V150.9 M86.1 151.9 V144.8 M86.7 151.9 V150.8 M87.3 151.9 V151.3 M87.9 151.9 V151.4 M89.1 151.9 V149.7 M90.7 151.9 V151.4 M91.7 151.9 V151.1 M92.3 151.9 V144.3 M93.1 151.9 V151.0 M94.1 151.9 V150.0 M94.7 151.9 V149.0 M95.7 151.9 V146.9 M96.7 151.9 V151.4 M97.3 151.9 V146.6 M98.1 151.9 V149.5 M99.1 151.9 V147.1 M99.7 151.9 V145.7 M100.3 151.9 V146.8 M100.9 151.9 V151.6 M101.5 151.9 V151.4 M102.1 151.9 V151.5 M102.9 151.9 V151.2 M103.9 151.9 V148.0 M104.5 151.9 V150.8 M105.5 151.9 V148.1 M106.5 151.9 V149.0 M107.1 151.9 V150.1 M107.7 151.9 V150.0 M108.7 151.9 V150.0 M111.1 151.9 V150.7 M113.3 151.9 V146.9 M114.9 151.9 V151.6 M115.9 151.9 V151.6 M116.5 151.9 V151.1 M117.1 151.9 V148.0 M117.9 151.9 V149.0 M118.7 151.9 V150.6 M120.5 151.9 V150.8 M121.1 151.9 V151.3 M122.1 151.9 V150.1 M123.7 151.9 V150.0 M124.7 151.9 V150.5 M125.5 151.9 V147.6 M126.3 151.9 V151.0 M126.9 151.9 V151.5 M127.5 151.9 V151.5 M128.3 151.9 V150.9 M129.1 151.9 V145.1 M130.5 151.9 V149.0 M131.3 151.9 V151.1 M131.9 151.9 V151.5 M133.7 151.9 V150.6 M134.3 151.9 V149.9 M134.9 151.9 V151.3 M135.7 151.9 V150.5 M136.7 151.9 V143.8 M139.9 151.9 V151.6 M141.5 151.9 V150.4 M142.1 151.9 V151.0 M143.1 151.9 V145.4 M144.5 151.9 V151.0 M145.1 151.9 V150.5 M146.1 151.9 V151.1 M146.7 151.9 V150.7 M147.3 151.9 V148.4 M147.9 151.9 V146.5 M148.5 151.9 V151.5 M149.1 151.9 V150.0 M149.9 151.9 V150.5 M151.1 151.9 V146.3 M151.9 151.9 V148.7 M152.7 151.9 V151.0 M153.7 151.9 V151.3 M154.7 151.9 V150.2 M155.5 151.9 V151.5 M156.9 151.9 V151.1 M157.9 151.9 V150.9 M158.7 151.9 V151.4 M159.3 151.9 V148.9 M160.3 151.9 V148.9 M161.3 151.9 V148.9 M162.3 151.9 V146.7 M163.1 151.9 V147.5 M163.7 151.9 V151.6 M164.7 151.9 V146.3 M165.5 151.9 V151.0 M166.5 151.9 V151.1 M167.5 151.9 V149.5 M168.5 151.9 V150.6 M169.3 151.9 V150.4 M170.9 151.9 V150.9 M171.7 151.9 V151.6 M172.3 151.9 V151.0 M172.9 151.9 V149.8 M173.7 151.9 V151.6 M174.5 151.9 V149.5 M175.1 151.9 V151.4 M176.9 151.9 V151.4 M177.9 151.9 V146.6 M179.1 151.9 V150.6 M179.7 151.9 V151.0 M180.7 151.9 V151.4 M181.5 151.9 V147.6 M182.9 151.9 V148.1 M183.5 151.9 V151.4 M184.1 151.9 V151.2 M184.9 151.9 V150.7 M185.9 151.9 V151.0 M186.9 151.9 V148.3 M187.7 151.9 V151.0 M188.7 151.9 V150.5 M190.7 151.9 V148.7 M191.3 151.9 V151.2 M192.3 151.9 V151.5 M193.9 151.9 V147.5 M194.9 151.9 V150.9 M195.5 151.9 V148.6 M196.5 151.9 V149.4 M197.1 151.9 V148.4 M198.1 151.9 V150.5 M199.1 151.9 V151.1 M200.1 151.9 V150.2 M201.5 151.9 V151.0 M202.3 151.9 V151.5 M202.9 151.9 V145.7 M203.5 151.9 V151.2 M204.5 151.9 V151.5 M205.3 151.9 V151.6 M206.1 151.9 V150.4 M206.7 151.9 V149.0 M207.3 151.9 V149.9 M208.1 151.9 V150.8 M208.7 151.9 V151.5 M209.5 151.9 V150.7 M211.5 151.9 V151.6 M212.5 151.9 V151.4 M213.3 151.9 V149.9 M213.9 151.9 V150.9 M214.7 151.9 V151.5 M215.5 151.9 V151.3 M216.3 151.9 V148.2 M216.9 151.9 V149.1 M217.5 151.9 V150.3 M218.3 151.9 V151.4 M219.3 151.9 V151.4 M219.9 151.9 V150.8 M220.9 151.9 V151.1 M222.5 151.9 V150.3 M223.1 151.9 V151.5 M225.5 151.9 V150.9 M227.1 151.9 V150.7 M228.1 151.9 V151.5 M229.1 151.9 V151.4 M229.7 151.9 V148.4 M230.7 151.9 V149.3 M231.3 151.9 V151.1 M231.9 151.9 V144.7 M232.7 151.9 V151.6 M233.5 151.9 V150.5 M234.9 151.9 V150.0 M235.5 151.9 V148.5 M236.5 151.9 V151.1 M237.1 151.9 V151.2 M238.1 151.9 V151.0 M238.9 151.9 V150.6 M239.9 151.9 V150.9 M240.5 151.9 V150.8 M241.3 151.9 V151.2 M244.1 151.9 V151.5 M244.7 151.9 V150.0 M245.3 151.9 V150.5 M246.3 151.9 V148.9 M247.3 151.9 V143.7 M248.1 151.9 V150.6 M248.9 151.9 V150.3 M249.7 151.9 V151.5 M250.5 151.9 V150.2 M251.5 151.9 V151.4 M252.3 151.9 V150.5 M253.3 151.9 V150.7 M254.3 151.9 V148.2 M255.3 151.9 V149.8 M256.3 151.9 V149.9 M257.3 151.9 V151.5 M258.1 151.9 V151.3 M258.9 151.9 V150.5 M259.7 151.9 V151.5 M260.3 151.9 V151.1 M262.3 151.9 V148.1 M262.9 151.9 V150.6 M263.9 151.9 V146.5 M264.7 151.9 V151.4 M266.5 151.9 V150.3 M267.5 151.9 V151.0 M268.1 151.9 V151.4 M268.9 151.9 V151.0 M270.1 151.9 V151.3 M271.1 151.9 V151.2 M271.7 151.9 V151.0 M272.3 151.9 V150.2 M273.1 151.9 V149.3 M274.1 151.9 V151.2 M274.7 151.9 V151.4 M275.7 151.9 V147.7 M276.7 151.9 V151.1 M277.3 151.9 V150.2 M278.9 151.9 V150.4 M279.7 151.9 V151.0 M280.7 151.9 V151.1 M282.1 151.9 V149.7 M283.9 151.9 V151.1 M284.5 151.9 V150.9 M285.3 151.9 V147.7 M286.1 151.9 V151.4 M286.7 151.9 V149.7 M287.9 151.9 V151.4 M288.7 151.9 V149.4 M289.3 151.9 V150.9 M290.3 151.9 V151.6 M291.3 151.9 V147.5 M293.1 151.9 V147.9 M294.1 151.9 V150.9 M295.5 151.9 V151.5 M296.3 151.9 V151.6 M297.3 151.9 V151.4 M298.1 151.9 V148.9 M298.9 151.9 V151.3 M299.5 151.9 V151.5 M300.1 151.9 V147.6" stroke="#e56eae" stroke-width="0.5" fill="none" opacity="0.6"/>
<path d="M63.7 151.9 L64.2 150.5 L64.3 145.0 L64.7 145.0 L64.8 150.5 L65.3 151.9 Z M69.2 151.9 L69.7 150.7 L69.8 146.0 L70.2 146.0 L70.3 150.7 L70.8 151.9 Z M75.2 151.9 L75.7 150.6 L75.8 145.5 L76.2 145.5 L76.3 150.6 L76.8 151.9 Z M81.2 151.9 L81.7 150.7 L81.8 146.0 L82.2 146.0 L82.3 150.7 L82.8 151.9 Z M85.2 151.9 L85.7 150.4 L85.8 144.5 L86.2 144.5 L86.3 150.4 L86.8 151.9 Z M94.4 151.9 L94.9 149.0 L95.0 137.5 L95.4 137.5 L95.5 149.0 L96.0 151.9 Z M124.7 151.9 L125.2 149.7 L125.3 141.0 L125.7 141.0 L125.8 149.7 L126.3 151.9 Z M129.6 151.9 L130.1 149.2 L130.2 138.5 L130.6 138.5 L130.7 149.2 L131.2 151.9 Z M131.2 151.9 L131.7 150.4 L131.8 144.5 L132.2 144.5 L132.3 150.4 L132.8 151.9 Z M136.5 151.9 L137.0 149.2 L137.2 138.5 L137.5 138.5 L137.6 149.2 L138.1 151.9 Z M148.2 151.9 L148.7 149.4 L148.8 139.3 L149.2 139.3 L149.3 149.4 L149.8 151.9 Z M151.2 151.9 L151.7 149.7 L151.8 141.0 L152.2 141.0 L152.3 149.7 L152.8 151.9 Z M157.6 151.9 L158.1 148.5 L158.2 135.0 L158.6 135.0 L158.7 148.5 L159.2 151.9 Z M163.8 151.9 L164.3 148.5 L164.4 135.0 L164.8 135.0 L164.9 148.5 L165.4 151.9 Z M171.1 151.9 L171.6 149.7 L171.8 141.0 L172.1 141.0 L172.2 149.7 L172.7 151.9 Z M178.4 151.9 L178.9 150.6 L179.0 145.4 L179.3 145.4 L179.5 150.6 L180.0 151.9 Z M181.5 151.9 L182.0 150.9 L182.2 147.0 L182.5 147.0 L182.6 150.9 L183.1 151.9 Z M197.9 151.9 L198.4 151.0 L198.5 147.5 L198.8 147.5 L199.0 151.0 L199.5 151.9 Z M205.7 151.9 L206.2 149.6 L206.3 140.2 L206.7 140.2 L206.8 149.6 L207.3 151.9 Z M213.5 151.9 L214.0 150.1 L214.2 142.8 L214.5 142.8 L214.6 150.1 L215.1 151.9 Z M220.4 151.9 L220.9 151.1 L221.0 148.0 L221.3 148.0 L221.5 151.1 L222.0 151.9 Z M227.9 151.9 L228.4 150.9 L228.5 147.1 L228.8 147.1 L229.0 150.9 L229.5 151.9 Z M240.0 151.9 L240.5 150.1 L240.7 142.8 L241.0 142.8 L241.1 150.1 L241.6 151.9 Z M245.5 151.9 L246.0 150.1 L246.2 142.8 L246.5 142.8 L246.6 150.1 L247.1 151.9 Z M247.6 151.9 L248.1 150.5 L248.2 145.0 L248.6 145.0 L248.7 150.5 L249.2 151.9 Z M256.8 151.9 L257.3 148.5 L257.5 135.0 L257.8 135.0 L257.9 148.5 L258.4 151.9 Z M262.5 151.9 L263.0 149.9 L263.2 141.9 L263.4 141.9 L263.6 149.9 L264.1 151.9 Z M268.9 151.9 L269.4 149.8 L269.6 141.6 L269.8 141.6 L270.0 149.8 L270.5 151.9 Z M278.4 151.9 L278.9 150.9 L279.1 147.1 L279.3 147.1 L279.5 150.9 L280.0 151.9 Z M294.3 151.9 L294.8 149.4 L295.0 139.3 L295.2 139.3 L295.4 149.4 L295.9 151.9 Z" fill="#e56eae" stroke="#e56eae" stroke-width="0.25" opacity="0.9"/>
<line x1="62.2" y1="151.9" x2="300.8" y2="151.9" stroke="#e56eae" stroke-width="1.0"/>
<text x="20.2" y="168.7" font-size="8.6" fill="#e8893c" stroke="#e8893c" stroke-width="0.24" text-anchor="start" font-weight="normal" font-style="normal" textLength="27.2" lengthAdjust="spacingAndGlyphs">FL-HSC</text>
<text x="58.4" y="158.3" font-size="6.8" fill="#e8893c" stroke="#e8893c" stroke-width="0.06" text-anchor="end" font-weight="normal" font-style="normal" textLength="7.6" lengthAdjust="spacingAndGlyphs">20</text>
<text x="55.6" y="171.6" font-size="6.8" fill="#e8893c" stroke="#e8893c" stroke-width="0.06" text-anchor="end" font-weight="normal" font-style="normal">0</text>
<line x1="58.8" y1="155.9" x2="61.2" y2="155.9" stroke="#e8893c" stroke-width="0.8"/>
<line x1="58.8" y1="170.4" x2="61.2" y2="170.4" stroke="#e8893c" stroke-width="0.8"/>
<path d="M62.5 170.4 V168.1 M63.1 170.4 V167.1 M64.1 170.4 V170.0 M65.5 170.4 V169.2 M66.1 170.4 V168.3 M66.9 170.4 V169.6 M68.9 170.4 V170.0 M69.9 170.4 V163.7 M70.9 170.4 V167.3 M71.9 170.4 V168.8 M72.9 170.4 V167.4 M73.9 170.4 V169.5 M74.7 170.4 V168.5 M75.7 170.4 V170.0 M76.7 170.4 V164.4 M77.5 170.4 V169.1 M78.1 170.4 V169.5 M78.9 170.4 V168.2 M79.9 170.4 V168.8 M81.3 170.4 V168.8 M82.3 170.4 V169.6 M83.7 170.4 V169.5 M84.7 170.4 V170.1 M85.5 170.4 V170.0 M86.1 170.4 V167.6 M86.7 170.4 V169.8 M87.3 170.4 V162.0 M87.9 170.4 V168.9 M88.5 170.4 V169.1 M89.1 170.4 V167.5 M89.9 170.4 V168.2 M90.9 170.4 V167.3 M91.7 170.4 V168.8 M94.5 170.4 V168.9 M95.3 170.4 V166.0 M96.1 170.4 V169.9 M96.7 170.4 V170.1 M98.1 170.4 V161.0 M99.7 170.4 V169.1 M100.7 170.4 V169.8 M101.5 170.4 V164.0 M102.1 170.4 V170.0 M104.7 170.4 V169.1 M105.3 170.4 V169.5 M106.3 170.4 V168.4 M108.1 170.4 V169.4 M109.1 170.4 V169.0 M110.1 170.4 V169.5 M111.1 170.4 V161.6 M112.1 170.4 V166.2 M114.1 170.4 V165.7 M114.9 170.4 V170.0 M115.5 170.4 V169.2 M116.5 170.4 V170.1 M117.3 170.4 V166.0 M118.1 170.4 V170.1 M118.9 170.4 V169.7 M119.7 170.4 V168.1 M121.7 170.4 V165.9 M122.5 170.4 V168.6 M123.5 170.4 V169.9 M124.3 170.4 V168.1 M124.9 170.4 V160.4 M125.7 170.4 V169.7 M126.5 170.4 V167.5 M127.9 170.4 V166.7 M128.9 170.4 V163.6 M129.9 170.4 V162.0 M130.5 170.4 V168.0 M132.9 170.4 V169.7 M133.5 170.4 V169.3 M134.5 170.4 V168.3 M135.5 170.4 V168.0 M136.3 170.4 V169.8 M137.1 170.4 V169.4 M137.9 170.4 V170.0 M138.7 170.4 V169.9 M141.1 170.4 V168.2 M141.7 170.4 V169.5 M144.1 170.4 V170.0 M144.7 170.4 V168.9 M145.3 170.4 V169.2 M146.9 170.4 V166.3 M147.5 170.4 V166.9 M148.3 170.4 V162.8 M149.3 170.4 V169.9 M150.7 170.4 V160.4 M151.9 170.4 V167.2 M152.7 170.4 V167.6 M154.3 170.4 V169.8 M155.9 170.4 V169.1 M156.5 170.4 V164.2 M157.1 170.4 V165.1 M157.9 170.4 V168.0 M158.9 170.4 V170.0 M159.9 170.4 V169.7 M160.5 170.4 V170.0 M161.1 170.4 V168.9 M161.7 170.4 V169.2 M162.3 170.4 V169.9 M164.1 170.4 V168.3 M165.5 170.4 V166.8 M166.3 170.4 V169.2 M167.3 170.4 V169.3 M168.1 170.4 V164.4 M169.1 170.4 V168.6 M170.7 170.4 V169.5 M172.7 170.4 V169.1 M173.5 170.4 V163.7 M174.1 170.4 V168.8 M175.1 170.4 V164.8 M176.1 170.4 V169.6 M177.1 170.4 V168.5 M177.7 170.4 V166.6 M179.1 170.4 V170.0 M179.9 170.4 V169.4 M180.5 170.4 V169.5 M181.3 170.4 V170.0 M182.1 170.4 V169.5 M182.7 170.4 V169.7 M184.1 170.4 V170.0 M185.5 170.4 V166.7 M186.3 170.4 V168.2 M188.7 170.4 V169.7 M189.3 170.4 V169.8 M190.1 170.4 V168.0 M191.9 170.4 V158.6 M192.9 170.4 V170.0 M193.7 170.4 V170.0 M194.5 170.4 V168.9 M195.5 170.4 V168.2 M197.7 170.4 V170.0 M198.3 170.4 V166.1 M199.1 170.4 V167.2 M199.9 170.4 V162.2 M201.5 170.4 V167.9 M203.1 170.4 V162.1 M203.9 170.4 V166.7 M204.9 170.4 V169.7 M205.5 170.4 V167.1 M207.5 170.4 V169.2 M209.1 170.4 V169.4 M211.1 170.4 V169.5 M213.1 170.4 V169.5 M215.1 170.4 V168.3 M215.9 170.4 V169.9 M216.5 170.4 V169.8 M217.7 170.4 V167.5 M218.7 170.4 V169.1 M219.3 170.4 V169.9 M219.9 170.4 V169.9 M220.7 170.4 V170.0 M221.5 170.4 V169.3 M222.3 170.4 V167.4 M223.9 170.4 V169.8 M224.7 170.4 V170.0 M225.3 170.4 V169.7 M225.9 170.4 V163.2 M227.1 170.4 V168.4 M228.9 170.4 V170.0 M229.5 170.4 V170.1 M231.1 170.4 V170.1 M232.1 170.4 V169.7 M232.9 170.4 V168.5 M233.9 170.4 V169.8 M234.5 170.4 V169.9 M235.3 170.4 V162.0 M236.1 170.4 V168.8 M237.1 170.4 V160.1 M238.1 170.4 V170.1 M238.9 170.4 V169.7 M239.7 170.4 V166.3 M240.3 170.4 V166.5 M241.3 170.4 V169.8 M242.1 170.4 V167.8 M243.3 170.4 V167.5 M244.1 170.4 V167.4 M244.9 170.4 V166.4 M246.3 170.4 V169.9 M247.3 170.4 V169.6 M247.9 170.4 V169.8 M248.7 170.4 V168.6 M250.5 170.4 V168.9 M251.3 170.4 V170.0 M252.9 170.4 V169.7 M253.9 170.4 V169.0 M254.5 170.4 V168.2 M257.1 170.4 V169.2 M257.7 170.4 V169.9 M258.3 170.4 V169.8 M259.3 170.4 V170.1 M259.9 170.4 V169.9 M260.9 170.4 V169.1 M261.7 170.4 V169.4 M262.5 170.4 V169.5 M263.3 170.4 V168.8 M264.1 170.4 V162.3 M264.9 170.4 V168.9 M267.7 170.4 V166.0 M269.5 170.4 V170.0 M270.1 170.4 V169.3 M270.7 170.4 V169.8 M271.7 170.4 V170.1 M272.3 170.4 V169.9 M273.9 170.4 V169.5 M274.5 170.4 V169.0 M275.5 170.4 V169.6 M277.1 170.4 V169.3 M277.9 170.4 V165.5 M278.5 170.4 V169.1 M280.5 170.4 V159.4 M281.3 170.4 V170.0 M282.7 170.4 V169.3 M283.9 170.4 V169.0 M284.5 170.4 V169.6 M285.5 170.4 V169.6 M286.9 170.4 V170.0 M288.5 170.4 V166.9 M289.9 170.4 V167.8 M290.7 170.4 V169.4 M291.3 170.4 V169.9 M291.9 170.4 V170.0 M292.5 170.4 V168.4 M294.1 170.4 V170.1 M294.7 170.4 V170.0 M295.7 170.4 V169.0 M296.3 170.4 V165.1 M297.3 170.4 V168.0 M299.1 170.4 V167.8 M299.7 170.4 V169.5" stroke="#f07a22" stroke-width="0.5" fill="none" opacity="0.6"/>
<path d="M63.7 170.4 L64.2 169.5 L64.3 166.0 L64.7 166.0 L64.8 169.5 L65.3 170.4 Z M67.2 170.4 L67.7 168.3 L67.8 160.0 L68.2 160.0 L68.3 168.3 L68.8 170.4 Z M70.2 170.4 L70.7 169.3 L70.8 165.0 L71.2 165.0 L71.3 169.3 L71.8 170.4 Z M73.7 170.4 L74.2 167.7 L74.3 157.0 L74.7 157.0 L74.8 167.7 L75.3 170.4 Z M77.2 170.4 L77.7 169.1 L77.8 164.0 L78.2 164.0 L78.3 169.1 L78.8 170.4 Z M81.2 170.4 L81.7 167.3 L81.8 155.0 L82.2 155.0 L82.3 167.3 L82.8 170.4 Z M85.2 170.4 L85.7 168.9 L85.8 163.0 L86.2 163.0 L86.3 168.9 L86.8 170.4 Z M89.2 170.4 L89.7 169.3 L89.8 165.0 L90.2 165.0 L90.3 169.3 L90.8 170.4 Z M94.4 170.4 L94.9 167.5 L95.0 156.0 L95.4 156.0 L95.5 167.5 L96.0 170.4 Z M97.2 170.4 L97.7 168.7 L97.8 162.0 L98.2 162.0 L98.3 168.7 L98.8 170.4 Z M100.2 170.4 L100.7 167.7 L100.8 157.0 L101.2 157.0 L101.3 167.7 L101.8 170.4 Z M104.2 170.4 L104.7 169.1 L104.8 164.0 L105.2 164.0 L105.3 169.1 L105.8 170.4 Z M124.4 170.4 L124.9 167.0 L125.0 153.2 L125.4 153.2 L125.5 167.0 L126.0 170.4 Z M129.6 170.4 L130.1 167.0 L130.2 153.2 L130.6 153.2 L130.7 167.0 L131.2 170.4 Z M136.5 170.4 L137.0 167.0 L137.2 153.2 L137.5 153.2 L137.6 167.0 L138.1 170.4 Z M145.2 170.4 L145.7 169.4 L145.8 165.3 L146.2 165.3 L146.3 169.4 L146.8 170.4 Z M151.2 170.4 L151.7 168.0 L151.8 158.4 L152.2 158.4 L152.3 168.0 L152.8 170.4 Z M153.5 170.4 L154.0 167.1 L154.2 154.0 L154.5 154.0 L154.6 167.1 L155.1 170.4 Z M157.6 170.4 L158.1 167.1 L158.2 153.7 L158.6 153.7 L158.7 167.1 L159.2 170.4 Z M163.8 170.4 L164.3 167.1 L164.4 153.7 L164.8 153.7 L164.9 167.1 L165.4 170.4 Z M172.0 170.4 L172.5 167.0 L172.7 153.2 L173.0 153.2 L173.1 167.0 L173.6 170.4 Z M178.0 170.4 L178.5 169.5 L178.7 166.0 L179.0 166.0 L179.1 169.5 L179.6 170.4 Z M197.9 170.4 L198.4 169.0 L198.5 163.5 L198.8 163.5 L199.0 169.0 L199.5 170.4 Z M205.7 170.4 L206.2 167.0 L206.3 153.2 L206.7 153.2 L206.8 167.0 L207.3 170.4 Z M213.5 170.4 L214.0 167.6 L214.2 156.6 L214.5 156.6 L214.6 167.6 L215.1 170.4 Z M232.6 170.4 L233.1 169.0 L233.2 163.5 L233.6 163.5 L233.7 169.0 L234.2 170.4 Z M238.6 170.4 L239.1 169.5 L239.2 166.1 L239.6 166.1 L239.7 169.5 L240.2 170.4 Z M245.5 170.4 L246.0 168.2 L246.2 159.2 L246.5 159.2 L246.6 168.2 L247.1 170.4 Z M247.6 170.4 L248.1 167.0 L248.2 153.2 L248.6 153.2 L248.7 167.0 L249.2 170.4 Z M256.8 170.4 L257.3 169.0 L257.5 163.5 L257.8 163.5 L257.9 169.0 L258.4 170.4 Z M267.2 170.4 L267.7 169.1 L267.9 164.1 L268.1 164.1 L268.3 169.1 L268.8 170.4 Z M278.4 170.4 L278.9 169.4 L279.1 165.3 L279.3 165.3 L279.5 169.4 L280.0 170.4 Z M294.3 170.4 L294.8 168.3 L295.0 160.1 L295.2 160.1 L295.4 168.3 L295.9 170.4 Z" fill="#f07a22" stroke="#f07a22" stroke-width="0.25" opacity="0.9"/>
<line x1="62.2" y1="170.4" x2="300.8" y2="170.4" stroke="#f07a22" stroke-width="1.0"/>
<text x="59.7" y="189.2" font-size="8.6" fill="#1e1e1e" stroke="#1e1e1e" stroke-width="0.24" text-anchor="end" font-weight="normal" font-style="normal" textLength="38.8" lengthAdjust="spacingAndGlyphs">Known E-P</text>
<text x="59.7" y="198.2" font-size="8.6" fill="#1e1e1e" stroke="#1e1e1e" stroke-width="0.24" text-anchor="end" font-weight="normal" font-style="normal" textLength="40.1" lengthAdjust="spacingAndGlyphs">Known Enh</text>
<text x="59.7" y="206.3" font-size="8.6" fill="#1e1e1e" stroke="#1e1e1e" stroke-width="0.24" text-anchor="end" font-weight="normal" font-style="normal" textLength="52.7" lengthAdjust="spacingAndGlyphs">Placental Cons</text>
<text x="59.7" y="214.6" font-size="8.6" fill="#6d9fd6" stroke="#6d9fd6" stroke-width="0.24" text-anchor="end" font-weight="normal" font-style="normal" textLength="50.1" lengthAdjust="spacingAndGlyphs">Predicted Enh</text>
<text x="59.7" y="223.4" font-size="8.6" fill="#4a5aaa" stroke="#4a5aaa" stroke-width="0.24" text-anchor="end" font-weight="normal" font-style="normal" textLength="48.4" lengthAdjust="spacingAndGlyphs">Predicted E-P</text>
<rect x="62.50" y="200.00" width="238.50" height="6.50" fill="#dedede"/>
<rect x="66.30" y="200.00" width="1.30" height="6.50" fill="rgb(204,204,204)"/>
<rect x="74.23" y="200.00" width="1.30" height="6.50" fill="rgb(199,199,199)"/>
<rect x="75.38" y="200.00" width="1.00" height="6.50" fill="rgb(198,198,198)"/>
<rect x="76.78" y="200.00" width="1.30" height="6.50" fill="rgb(185,185,185)"/>
<rect x="80.57" y="200.00" width="0.80" height="6.50" fill="rgb(220,220,220)"/>
<rect x="88.54" y="200.00" width="1.00" height="6.50" fill="rgb(201,201,201)"/>
<rect x="89.88" y="200.00" width="1.30" height="6.50" fill="rgb(202,202,202)"/>
<rect x="93.77" y="200.00" width="1.00" height="6.50" fill="rgb(220,220,220)"/>
<rect x="94.97" y="200.00" width="0.80" height="6.50" fill="rgb(220,220,220)"/>
<rect x="102.49" y="200.00" width="0.80" height="6.50" fill="rgb(187,187,187)"/>
<rect x="106.67" y="200.00" width="1.30" height="6.50" fill="rgb(210,210,210)"/>
<rect x="107.85" y="200.00" width="0.80" height="6.50" fill="rgb(200,200,200)"/>
<rect x="109.88" y="200.00" width="1.30" height="6.50" fill="rgb(207,207,207)"/>
<rect x="112.57" y="200.00" width="0.80" height="6.50" fill="rgb(201,201,201)"/>
<rect x="117.25" y="200.00" width="0.80" height="6.50" fill="rgb(217,217,217)"/>
<rect x="121.08" y="200.00" width="1.30" height="6.50" fill="rgb(212,212,212)"/>
<rect x="122.38" y="200.00" width="1.30" height="6.50" fill="rgb(212,212,212)"/>
<rect x="124.96" y="200.00" width="0.80" height="6.50" fill="rgb(205,205,205)"/>
<rect x="126.55" y="200.00" width="0.50" height="6.50" fill="rgb(186,186,186)"/>
<rect x="133.19" y="200.00" width="0.80" height="6.50" fill="rgb(220,220,220)"/>
<rect x="135.28" y="200.00" width="0.50" height="6.50" fill="rgb(217,217,217)"/>
<rect x="138.43" y="200.00" width="0.80" height="6.50" fill="rgb(199,199,199)"/>
<rect x="144.54" y="200.00" width="0.50" height="6.50" fill="rgb(189,189,189)"/>
<rect x="150.32" y="200.00" width="0.80" height="6.50" fill="rgb(204,204,204)"/>
<rect x="154.76" y="200.00" width="0.50" height="6.50" fill="rgb(213,213,213)"/>
<rect x="157.34" y="200.00" width="0.80" height="6.50" fill="rgb(209,209,209)"/>
<rect x="159.59" y="200.00" width="1.30" height="6.50" fill="rgb(210,210,210)"/>
<rect x="161.73" y="200.00" width="0.50" height="6.50" fill="rgb(189,189,189)"/>
<rect x="163.38" y="200.00" width="1.30" height="6.50" fill="rgb(203,203,203)"/>
<rect x="165.49" y="200.00" width="1.00" height="6.50" fill="rgb(196,196,196)"/>
<rect x="178.97" y="200.00" width="0.50" height="6.50" fill="rgb(199,199,199)"/>
<rect x="180.02" y="200.00" width="0.80" height="6.50" fill="rgb(185,185,185)"/>
<rect x="189.48" y="200.00" width="0.80" height="6.50" fill="rgb(215,215,215)"/>
<rect x="190.72" y="200.00" width="1.30" height="6.50" fill="rgb(220,220,220)"/>
<rect x="192.50" y="200.00" width="0.50" height="6.50" fill="rgb(217,217,217)"/>
<rect x="195.81" y="200.00" width="1.00" height="6.50" fill="rgb(200,200,200)"/>
<rect x="200.75" y="200.00" width="1.00" height="6.50" fill="rgb(194,194,194)"/>
<rect x="202.08" y="200.00" width="0.50" height="6.50" fill="rgb(194,194,194)"/>
<rect x="203.05" y="200.00" width="1.00" height="6.50" fill="rgb(218,218,218)"/>
<rect x="206.94" y="200.00" width="1.30" height="6.50" fill="rgb(199,199,199)"/>
<rect x="208.69" y="200.00" width="1.30" height="6.50" fill="rgb(201,201,201)"/>
<rect x="209.56" y="200.00" width="1.00" height="6.50" fill="rgb(210,210,210)"/>
<rect x="217.78" y="200.00" width="0.50" height="6.50" fill="rgb(204,204,204)"/>
<rect x="222.61" y="200.00" width="1.30" height="6.50" fill="rgb(211,211,211)"/>
<rect x="224.90" y="200.00" width="1.30" height="6.50" fill="rgb(202,202,202)"/>
<rect x="227.14" y="200.00" width="1.30" height="6.50" fill="rgb(214,214,214)"/>
<rect x="228.66" y="200.00" width="1.00" height="6.50" fill="rgb(203,203,203)"/>
<rect x="229.60" y="200.00" width="1.30" height="6.50" fill="rgb(218,218,218)"/>
<rect x="235.06" y="200.00" width="0.80" height="6.50" fill="rgb(189,189,189)"/>
<rect x="242.39" y="200.00" width="0.80" height="6.50" fill="rgb(191,191,191)"/>
<rect x="246.86" y="200.00" width="1.30" height="6.50" fill="rgb(195,195,195)"/>
<rect x="252.90" y="200.00" width="0.80" height="6.50" fill="rgb(210,210,210)"/>
<rect x="254.95" y="200.00" width="1.00" height="6.50" fill="rgb(191,191,191)"/>
<rect x="256.63" y="200.00" width="1.30" height="6.50" fill="rgb(187,187,187)"/>
<rect x="258.41" y="200.00" width="1.30" height="6.50" fill="rgb(219,219,219)"/>
<rect x="260.92" y="200.00" width="0.50" height="6.50" fill="rgb(193,193,193)"/>
<rect x="262.03" y="200.00" width="1.00" height="6.50" fill="rgb(198,198,198)"/>
<rect x="269.23" y="200.00" width="0.80" height="6.50" fill="rgb(187,187,187)"/>
<rect x="273.94" y="200.00" width="0.50" height="6.50" fill="rgb(213,213,213)"/>
<rect x="275.63" y="200.00" width="0.50" height="6.50" fill="rgb(195,195,195)"/>
<rect x="277.85" y="200.00" width="0.50" height="6.50" fill="rgb(195,195,195)"/>
<rect x="281.74" y="200.00" width="1.00" height="6.50" fill="rgb(197,197,197)"/>
<rect x="282.70" y="200.00" width="1.30" height="6.50" fill="rgb(196,196,196)"/>
<rect x="285.48" y="200.00" width="0.80" height="6.50" fill="rgb(212,212,212)"/>
<rect x="291.36" y="200.00" width="1.30" height="6.50" fill="rgb(203,203,203)"/>
<rect x="295.21" y="200.00" width="0.50" height="6.50" fill="rgb(209,209,209)"/>
<rect x="296.16" y="200.00" width="1.30" height="6.50" fill="rgb(216,216,216)"/>
<rect x="298.95" y="200.00" width="1.30" height="6.50" fill="rgb(212,212,212)"/>
<rect x="63.50" y="200.00" width="1.00" height="6.50" fill="rgb(150,150,150)"/>
<rect x="65.00" y="200.00" width="1.00" height="6.50" fill="rgb(160,160,160)"/>
<rect x="66.50" y="200.00" width="1.00" height="6.50" fill="rgb(170,170,170)"/>
<rect x="90.50" y="200.00" width="1.00" height="6.50" fill="rgb(175,175,175)"/>
<rect x="93.50" y="200.00" width="1.00" height="6.50" fill="rgb(165,165,165)"/>
<rect x="96.00" y="200.00" width="1.00" height="6.50" fill="rgb(170,170,170)"/>
<path d="M96.9 193.3 C108.5 171.0 126.9 171.0 138.5 193.3" stroke="#1f6b3c" stroke-width="0.9" fill="none" opacity="1.0"/>
<path d="M100.5 193.3 C111.1 172.4 127.9 172.4 138.5 193.3" stroke="#4f9a68" stroke-width="0.9" fill="none" opacity="1.0"/>
<path d="M130.4 198.3 C130.4 178.5 137.8 178.5 138.5 193.3" stroke="#e0709c" stroke-width="0.8" fill="none"/>
<path d="M138.5 193.3 C142.8 184.2 149.5 184.2 153.8 193.3" stroke="#1f6b3c" stroke-width="0.8" fill="none" opacity="1.0"/>
<path d="M138.5 193.3 C142.5 185.6 148.8 185.6 152.8 193.3" stroke="#4f9a68" stroke-width="0.7" fill="none" opacity="1.0"/>
<path d="M138.5 193.3 C143.9 183.6 152.3 183.6 157.7 193.3" stroke="#e0709c" stroke-width="0.8" fill="none" opacity="1.0"/>
<path d="M138.5 193.3 C148.0 181.7 163.0 181.7 172.5 193.3" stroke="#1f6b3c" stroke-width="0.8" fill="none" opacity="1.0"/>
<path d="M138.5 193.3 C146.7 174.5 182.2 174.5 206.8 193.3" stroke="#1f6b3c" stroke-width="1.0" fill="none" opacity="1.0"/>
<path d="M138.5 193.3 C146.5 175.6 181.4 175.6 205.5 193.3" stroke="#4f9a68" stroke-width="0.7" fill="none" opacity="1.0"/>
<path d="M138.5 193.3 C151.5 169.7 207.9 169.7 246.9 193.3" stroke="#e0709c" stroke-width="0.8" fill="none" opacity="1.0"/>
<path d="M138.5 193.3 C151.7 169.2 209.0 169.2 248.7 193.3" stroke="#1f6b3c" stroke-width="0.9" fill="none" opacity="1.0"/>
<path d="M138.5 193.3 C152.8 168.4 215.0 168.4 258.0 193.3" stroke="#e0709c" stroke-width="0.8" fill="none" opacity="1.0"/>
<path d="M138.5 193.3 C153.4 167.8 218.2 167.8 263.0 193.3" stroke="#e0709c" stroke-width="0.8" fill="none" opacity="1.0"/>
<path d="M138.5 193.3 C153.5 167.3 218.5 167.3 263.5 193.3" stroke="#a04070" stroke-width="0.5" fill="none" opacity="1.0"/>
<path d="M138.5 193.3 C154.2 166.9 222.3 166.9 269.5 193.3" stroke="#4f9a68" stroke-width="0.8" fill="none" opacity="1.0"/>
<path d="M138.5 193.3 C157.3 166.0 238.7 166.0 295.1 193.3" stroke="#4f9a68" stroke-width="0.8" fill="none" opacity="1.0"/>
<path d="M138.5 193.3 C157.2 166.8 238.3 166.8 294.5 193.3" stroke="#e0709c" stroke-width="0.5" fill="none" opacity="1.0"/>
<rect x="96.10" y="193.30" width="1.60" height="6.40" fill="#1f6b3c"/>
<rect x="99.50" y="193.30" width="2.00" height="6.40" fill="#1f6b3c"/>
<rect x="152.70" y="193.30" width="1.20" height="6.40" fill="#4f9a68"/>
<rect x="154.20" y="193.30" width="0.80" height="6.40" fill="#e0709c"/>
<rect x="157.05" y="193.30" width="1.30" height="6.40" fill="#e0709c"/>
<rect x="171.95" y="193.30" width="1.10" height="6.40" fill="#1f6b3c"/>
<rect x="205.80" y="193.30" width="2.00" height="6.40" fill="#1f6b3c"/>
<rect x="246.35" y="193.30" width="1.10" height="6.40" fill="#e0709c"/>
<rect x="247.80" y="193.30" width="1.80" height="6.40" fill="#1f6b3c"/>
<rect x="257.45" y="193.30" width="1.10" height="6.40" fill="#e0709c"/>
<rect x="262.35" y="193.30" width="1.30" height="6.40" fill="#e0709c"/>
<rect x="269.00" y="193.30" width="1.00" height="6.40" fill="#4f9a68"/>
<rect x="294.55" y="193.30" width="1.10" height="6.40" fill="#4f9a68"/>
<rect x="68.95" y="206.50" width="1.50" height="6.80" fill="#82b2e2"/>
<rect x="87.45" y="206.50" width="1.50" height="6.80" fill="#82b2e2"/>
<rect x="100.85" y="206.50" width="1.50" height="6.80" fill="#82b2e2"/>
<rect x="130.35" y="206.50" width="1.50" height="6.80" fill="#82b2e2"/>
<rect x="148.15" y="206.50" width="1.50" height="6.80" fill="#82b2e2"/>
<rect x="151.65" y="206.50" width="1.50" height="6.80" fill="#82b2e2"/>
<rect x="155.75" y="206.50" width="1.50" height="6.80" fill="#82b2e2"/>
<rect x="163.65" y="206.50" width="1.50" height="6.80" fill="#82b2e2"/>
<rect x="172.45" y="206.50" width="1.50" height="6.80" fill="#82b2e2"/>
<rect x="178.05" y="206.50" width="1.50" height="6.80" fill="#82b2e2"/>
<rect x="181.35" y="206.50" width="1.50" height="6.80" fill="#82b2e2"/>
<rect x="194.25" y="206.50" width="1.50" height="6.80" fill="#82b2e2"/>
<rect x="198.25" y="206.50" width="1.50" height="6.80" fill="#82b2e2"/>
<rect x="238.15" y="206.50" width="1.50" height="6.80" fill="#82b2e2"/>
<rect x="247.95" y="206.50" width="1.50" height="6.80" fill="#82b2e2"/>
<rect x="257.25" y="206.50" width="1.50" height="6.80" fill="#82b2e2"/>
<rect x="262.85" y="206.50" width="1.50" height="6.80" fill="#82b2e2"/>
<rect x="267.25" y="206.50" width="1.50" height="6.80" fill="#82b2e2"/>
<rect x="269.15" y="206.50" width="1.50" height="6.80" fill="#82b2e2"/>
<rect x="278.95" y="206.50" width="1.50" height="6.80" fill="#82b2e2"/>
<rect x="294.75" y="206.50" width="1.50" height="6.80" fill="#82b2e2"/>
<rect x="297.55" y="206.50" width="1.50" height="6.80" fill="#82b2e2"/>
<path d="M138.5 213.2 C130.2 241.2 97.2 241.2 69.7 213.2" stroke="#3568b2" stroke-width="0.6" fill="none"/>
<path d="M138.5 213.2 C132.5 236.3 108.3 236.3 88.2 213.2" stroke="#3568b2" stroke-width="0.6" fill="none"/>
<path d="M138.5 213.2 C134.1 231.7 116.4 231.7 101.6 213.2" stroke="#3568b2" stroke-width="0.6" fill="none"/>
<path d="M138.5 213.2 C137.6 217.7 134.1 217.7 131.1 213.2" stroke="#3568b2" stroke-width="0.6" fill="none"/>
<path d="M138.5 213.2 C139.7 218.0 144.7 218.0 148.9 213.2" stroke="#3568b2" stroke-width="0.6" fill="none"/>
<path d="M138.5 213.2 C140.2 219.4 146.8 219.4 152.4 213.2" stroke="#3568b2" stroke-width="0.6" fill="none"/>
<path d="M138.5 213.2 C140.7 221.1 149.3 221.1 156.5 213.2" stroke="#3568b2" stroke-width="0.6" fill="none"/>
<path d="M138.5 213.2 C141.6 223.9 154.0 223.9 164.4 213.2" stroke="#3568b2" stroke-width="0.6" fill="none"/>
<path d="M138.5 213.2 C142.7 226.7 159.3 226.7 173.2 213.2" stroke="#3568b2" stroke-width="0.6" fill="none"/>
<path d="M138.5 213.2 C143.3 228.4 162.7 228.4 178.8 213.2" stroke="#3568b2" stroke-width="0.6" fill="none"/>
<path d="M138.5 213.2 C143.7 229.3 164.7 229.3 182.1 213.2" stroke="#3568b2" stroke-width="0.6" fill="none"/>
<path d="M138.5 213.2 C145.3 232.4 172.4 232.4 195 213.2" stroke="#3568b2" stroke-width="0.6" fill="none"/>
<path d="M138.5 213.2 C145.8 233.3 174.8 233.3 199 213.2" stroke="#3568b2" stroke-width="0.6" fill="none"/>
<path d="M138.5 213.2 C150.5 239.6 198.7 239.6 238.9 213.2" stroke="#3568b2" stroke-width="0.6" fill="none"/>
<path d="M138.5 213.2 C160.6 237.1 216.8 237.1 238.9 213.2" stroke="#3568b2" stroke-width="0.4" fill="none" opacity="0.5"/>
<path d="M138.5 213.2 C151.7 240.7 204.6 240.7 248.7 213.2" stroke="#3568b2" stroke-width="0.6" fill="none"/>
<path d="M138.5 213.2 C162.7 238.2 224.5 238.2 248.7 213.2" stroke="#3568b2" stroke-width="0.4" fill="none" opacity="0.5"/>
<path d="M138.5 213.2 C152.8 241.6 210.2 241.6 258 213.2" stroke="#3568b2" stroke-width="0.6" fill="none"/>
<path d="M138.5 213.2 C164.8 239.1 231.7 239.1 258 213.2" stroke="#3568b2" stroke-width="0.4" fill="none" opacity="0.5"/>
<path d="M138.5 213.2 C153.5 242.1 213.6 242.1 263.6 213.2" stroke="#3568b2" stroke-width="0.6" fill="none"/>
<path d="M138.5 213.2 C166.0 239.6 236.1 239.6 263.6 213.2" stroke="#3568b2" stroke-width="0.4" fill="none" opacity="0.5"/>
<path d="M138.5 213.2 C154.0 242.4 216.2 242.4 268 213.2" stroke="#3568b2" stroke-width="0.6" fill="none"/>
<path d="M138.5 213.2 C167.0 239.9 239.5 239.9 268 213.2" stroke="#3568b2" stroke-width="0.4" fill="none" opacity="0.5"/>
<path d="M138.5 213.2 C154.3 242.6 217.3 242.6 269.9 213.2" stroke="#3568b2" stroke-width="0.6" fill="none"/>
<path d="M138.5 213.2 C167.4 240.1 241.0 240.1 269.9 213.2" stroke="#3568b2" stroke-width="0.4" fill="none" opacity="0.5"/>
<path d="M138.5 213.2 C155.4 243.3 223.2 243.3 279.7 213.2" stroke="#3568b2" stroke-width="0.6" fill="none"/>
<path d="M138.5 213.2 C169.6 240.8 248.6 240.8 279.7 213.2" stroke="#3568b2" stroke-width="0.4" fill="none" opacity="0.5"/>
<path d="M138.5 213.2 C157.3 244.2 232.7 244.2 295.5 213.2" stroke="#3568b2" stroke-width="0.6" fill="none"/>
<path d="M138.5 213.2 C173.0 241.7 261.0 241.7 295.5 213.2" stroke="#3568b2" stroke-width="0.4" fill="none" opacity="0.5"/>
<path d="M138.5 213.2 C157.7 244.3 234.4 244.3 298.3 213.2" stroke="#3568b2" stroke-width="0.6" fill="none"/>
<path d="M138.5 213.2 C173.7 241.8 263.1 241.8 298.3 213.2" stroke="#3568b2" stroke-width="0.4" fill="none" opacity="0.5"/>
<text x="59.6" y="241.20000000000002" font-size="6.7" fill="#e47a78" stroke="#e47a78" stroke-width="0.06" text-anchor="end" font-weight="normal" font-style="normal" textLength="11.1" lengthAdjust="spacingAndGlyphs" stroke-width="0">ETS</text>
<circle cx="70.00" cy="238.90" r="1.95" fill="#db5e5e"/>
<circle cx="88.40" cy="238.90" r="1.95" fill="#db5e5e"/>
<circle cx="130.60" cy="238.90" r="1.95" fill="#db5e5e"/>
<circle cx="133.20" cy="238.90" r="1.95" fill="#db5e5e"/>
<circle cx="149.10" cy="238.90" r="1.95" fill="#db5e5e"/>
<circle cx="152.60" cy="238.90" r="1.95" fill="#db5e5e"/>
<circle cx="157.80" cy="238.90" r="1.95" fill="#db5e5e"/>
<circle cx="165.00" cy="238.90" r="1.95" fill="#db5e5e"/>
<circle cx="173.30" cy="238.90" r="1.95" fill="#db5e5e"/>
<circle cx="182.40" cy="238.90" r="1.95" fill="#db5e5e"/>
<circle cx="239.00" cy="238.90" r="1.95" fill="#db5e5e"/>
<circle cx="248.80" cy="238.90" r="1.95" fill="#db5e5e"/>
<circle cx="257.60" cy="238.90" r="1.95" fill="#db5e5e"/>
<circle cx="268.80" cy="238.90" r="1.95" fill="#db5e5e"/>
<circle cx="270.40" cy="238.90" r="1.95" fill="#db5e5e"/>
<text x="59.6" y="246.62" font-size="6.7" fill="#d6a04a" stroke="#d6a04a" stroke-width="0.06" text-anchor="end" font-weight="normal" font-style="normal" textLength="12.5" lengthAdjust="spacingAndGlyphs" stroke-width="0">FOX</text>
<circle cx="70.00" cy="244.32" r="1.95" fill="#d08c1e"/>
<circle cx="101.90" cy="244.32" r="1.95" fill="#d08c1e"/>
<circle cx="130.70" cy="244.32" r="1.95" fill="#d08c1e"/>
<circle cx="137.60" cy="244.32" r="1.95" fill="#d08c1e"/>
<circle cx="149.10" cy="244.32" r="1.95" fill="#d08c1e"/>
<circle cx="152.60" cy="244.32" r="1.95" fill="#d08c1e"/>
<circle cx="157.80" cy="244.32" r="1.95" fill="#d08c1e"/>
<circle cx="165.00" cy="244.32" r="1.95" fill="#d08c1e"/>
<circle cx="182.40" cy="244.32" r="1.95" fill="#d08c1e"/>
<circle cx="194.80" cy="244.32" r="1.95" fill="#d08c1e"/>
<circle cx="199.20" cy="244.32" r="1.95" fill="#d08c1e"/>
<circle cx="239.00" cy="244.32" r="1.95" fill="#d08c1e"/>
<circle cx="257.60" cy="244.32" r="1.95" fill="#d08c1e"/>
<circle cx="270.00" cy="244.32" r="1.95" fill="#d08c1e"/>
<circle cx="280.10" cy="244.32" r="1.95" fill="#d08c1e"/>
<circle cx="298.70" cy="244.32" r="1.95" fill="#d08c1e"/>
<text x="59.6" y="252.04000000000002" font-size="6.7" fill="#b4ac4c" stroke="#b4ac4c" stroke-width="0.06" text-anchor="end" font-weight="normal" font-style="normal" textLength="12.5" lengthAdjust="spacingAndGlyphs" stroke-width="0">SOX</text>
<circle cx="88.40" cy="249.74" r="1.95" fill="#a8a02a"/>
<circle cx="137.60" cy="249.74" r="1.95" fill="#a8a02a"/>
<circle cx="149.10" cy="249.74" r="1.95" fill="#a8a02a"/>
<circle cx="152.60" cy="249.74" r="1.95" fill="#a8a02a"/>
<circle cx="157.80" cy="249.74" r="1.95" fill="#a8a02a"/>
<circle cx="165.00" cy="249.74" r="1.95" fill="#a8a02a"/>
<circle cx="173.30" cy="249.74" r="1.95" fill="#a8a02a"/>
<circle cx="179.30" cy="249.74" r="1.95" fill="#a8a02a"/>
<circle cx="182.40" cy="249.74" r="1.95" fill="#a8a02a"/>
<circle cx="194.80" cy="249.74" r="1.95" fill="#a8a02a"/>
<circle cx="199.20" cy="249.74" r="1.95" fill="#a8a02a"/>
<circle cx="239.00" cy="249.74" r="1.95" fill="#a8a02a"/>
<circle cx="257.60" cy="249.74" r="1.95" fill="#a8a02a"/>
<circle cx="268.60" cy="249.74" r="1.95" fill="#a8a02a"/>
<circle cx="270.60" cy="249.74" r="1.95" fill="#a8a02a"/>
<text x="59.6" y="257.46" font-size="6.7" fill="#78b45a" stroke="#78b45a" stroke-width="0.06" text-anchor="end" font-weight="normal" font-style="normal" textLength="20.2" lengthAdjust="spacingAndGlyphs" stroke-width="0">KLF/SP</text>
<circle cx="70.00" cy="255.16" r="1.95" fill="#5aa83a"/>
<circle cx="88.40" cy="255.16" r="1.95" fill="#5aa83a"/>
<circle cx="101.90" cy="255.16" r="1.95" fill="#5aa83a"/>
<circle cx="130.70" cy="255.16" r="1.95" fill="#5aa83a"/>
<circle cx="152.60" cy="255.16" r="1.95" fill="#5aa83a"/>
<circle cx="165.00" cy="255.16" r="1.95" fill="#5aa83a"/>
<circle cx="173.30" cy="255.16" r="1.95" fill="#5aa83a"/>
<circle cx="179.30" cy="255.16" r="1.95" fill="#5aa83a"/>
<circle cx="182.40" cy="255.16" r="1.95" fill="#5aa83a"/>
<circle cx="248.80" cy="255.16" r="1.95" fill="#5aa83a"/>
<circle cx="257.60" cy="255.16" r="1.95" fill="#5aa83a"/>
<circle cx="270.00" cy="255.16" r="1.95" fill="#5aa83a"/>
<circle cx="295.50" cy="255.16" r="1.95" fill="#5aa83a"/>
<circle cx="298.70" cy="255.16" r="1.95" fill="#5aa83a"/>
<text x="59.6" y="262.88" font-size="6.7" fill="#74b478" stroke="#74b478" stroke-width="0.06" text-anchor="end" font-weight="normal" font-style="normal" textLength="33.6" lengthAdjust="spacingAndGlyphs" stroke-width="0">GATA/TAL1</text>
<circle cx="101.90" cy="260.58" r="1.95" fill="#5eab66"/>
<circle cx="130.60" cy="260.58" r="1.95" fill="#5eab66"/>
<circle cx="133.20" cy="260.58" r="1.95" fill="#5eab66"/>
<circle cx="149.10" cy="260.58" r="1.95" fill="#5eab66"/>
<circle cx="157.80" cy="260.58" r="1.95" fill="#5eab66"/>
<circle cx="165.00" cy="260.58" r="1.95" fill="#5eab66"/>
<circle cx="173.30" cy="260.58" r="1.95" fill="#5eab66"/>
<circle cx="194.80" cy="260.58" r="1.95" fill="#5eab66"/>
<circle cx="257.60" cy="260.58" r="1.95" fill="#5eab66"/>
<circle cx="263.40" cy="260.58" r="1.95" fill="#5eab66"/>
<circle cx="270.00" cy="260.58" r="1.95" fill="#5eab66"/>
<circle cx="295.50" cy="260.58" r="1.95" fill="#5eab66"/>
<text x="59.6" y="268.3" font-size="6.7" fill="#6cbcc4" stroke="#6cbcc4" stroke-width="0.06" text-anchor="end" font-weight="normal" font-style="normal" textLength="17.3" lengthAdjust="spacingAndGlyphs" stroke-width="0">RUNX</text>
<circle cx="130.70" cy="266.00" r="1.95" fill="#57adb8"/>
<circle cx="149.10" cy="266.00" r="1.95" fill="#57adb8"/>
<circle cx="152.60" cy="266.00" r="1.95" fill="#57adb8"/>
<circle cx="157.80" cy="266.00" r="1.95" fill="#57adb8"/>
<circle cx="165.00" cy="266.00" r="1.95" fill="#57adb8"/>
<circle cx="179.30" cy="266.00" r="1.95" fill="#57adb8"/>
<circle cx="248.80" cy="266.00" r="1.95" fill="#57adb8"/>
<circle cx="270.00" cy="266.00" r="1.95" fill="#57adb8"/>
<circle cx="280.10" cy="266.00" r="1.95" fill="#57adb8"/>
<text x="59.6" y="273.72" font-size="6.7" fill="#6aa8e4" stroke="#6aa8e4" stroke-width="0.06" text-anchor="end" font-weight="normal" font-style="normal" textLength="18.8" lengthAdjust="spacingAndGlyphs" stroke-width="0">SMAD</text>
<circle cx="101.90" cy="271.42" r="1.95" fill="#5a9ee0"/>
<circle cx="149.10" cy="271.42" r="1.95" fill="#5a9ee0"/>
<circle cx="152.60" cy="271.42" r="1.95" fill="#5a9ee0"/>
<circle cx="157.80" cy="271.42" r="1.95" fill="#5a9ee0"/>
<circle cx="165.00" cy="271.42" r="1.95" fill="#5a9ee0"/>
<circle cx="173.30" cy="271.42" r="1.95" fill="#5a9ee0"/>
<circle cx="194.80" cy="271.42" r="1.95" fill="#5a9ee0"/>
<circle cx="239.00" cy="271.42" r="1.95" fill="#5a9ee0"/>
<text x="59.6" y="279.14000000000004" font-size="6.7" fill="#a89ad4" stroke="#a89ad4" stroke-width="0.06" text-anchor="end" font-weight="normal" font-style="normal" textLength="13.8" lengthAdjust="spacingAndGlyphs" stroke-width="0">STAT</text>
<circle cx="152.60" cy="276.84" r="1.95" fill="#9487c9"/>
<circle cx="157.80" cy="276.84" r="1.95" fill="#9487c9"/>
<circle cx="173.30" cy="276.84" r="1.95" fill="#9487c9"/>
<circle cx="199.20" cy="276.84" r="1.95" fill="#9487c9"/>
<circle cx="263.40" cy="276.84" r="1.95" fill="#9487c9"/>
<circle cx="268.60" cy="276.84" r="1.95" fill="#9487c9"/>
<circle cx="280.10" cy="276.84" r="1.95" fill="#9487c9"/>
<circle cx="298.70" cy="276.84" r="1.95" fill="#9487c9"/>
<text x="59.6" y="284.56" font-size="6.7" fill="#b47cc4" stroke="#b47cc4" stroke-width="0.06" text-anchor="end" font-weight="normal" font-style="normal" textLength="12.9" lengthAdjust="spacingAndGlyphs" stroke-width="0">JUN</text>
<circle cx="70.00" cy="282.26" r="1.95" fill="#a45cb0"/>
<circle cx="165.00" cy="282.26" r="1.95" fill="#a45cb0"/>
<circle cx="194.80" cy="282.26" r="1.95" fill="#a45cb0"/>
<circle cx="248.80" cy="282.26" r="1.95" fill="#a45cb0"/>
<circle cx="263.40" cy="282.26" r="1.95" fill="#a45cb0"/>
<circle cx="268.60" cy="282.26" r="1.95" fill="#a45cb0"/>
<circle cx="280.10" cy="282.26" r="1.95" fill="#a45cb0"/>
<text x="59.6" y="289.98" font-size="6.7" fill="#e06aac" stroke="#e06aac" stroke-width="0.06" text-anchor="end" font-weight="normal" font-style="normal" textLength="26.6" lengthAdjust="spacingAndGlyphs" stroke-width="0">RAR/RXR</text>
<circle cx="88.40" cy="287.68" r="1.95" fill="#d44d9e"/>
<circle cx="149.10" cy="287.68" r="1.95" fill="#d44d9e"/>
<circle cx="165.00" cy="287.68" r="1.95" fill="#d44d9e"/>
<circle cx="248.80" cy="287.68" r="1.95" fill="#d44d9e"/>
<circle cx="263.40" cy="287.68" r="1.95" fill="#d44d9e"/>
<circle cx="280.10" cy="287.68" r="1.95" fill="#d44d9e"/>
<circle cx="298.70" cy="287.68" r="1.95" fill="#d44d9e"/>
<text x="317.2" y="16.6" font-size="11.5" fill="#000" stroke="#000" stroke-width="0.45" text-anchor="start" font-weight="bold" font-style="normal" textLength="8.0" lengthAdjust="spacingAndGlyphs">B</text>
<rect x="331.60" y="25.15" width="3.20" height="2.10" fill="#3c62a8"/>
<rect x="331.60" y="27.95" width="1.00" height="2.10" fill="#3c62a8"/>
<rect x="331.60" y="30.85" width="10.10" height="2.10" fill="#3c62a8"/>
<rect x="331.60" y="33.85" width="46.80" height="2.10" fill="#3c62a8"/>
<rect x="331.60" y="36.85" width="9.30" height="2.10" fill="#3c62a8"/>
<rect x="331.60" y="39.65" width="61.40" height="2.10" fill="#3c62a8"/>
<rect x="331.60" y="42.55" width="12.10" height="2.10" fill="#3c62a8"/>
<rect x="331.60" y="45.25" width="1.00" height="2.10" fill="#3c62a8"/>
<rect x="331.60" y="47.95" width="13.70" height="2.10" fill="#3c62a8"/>
<rect x="331.60" y="50.95" width="5.10" height="2.10" fill="#3c62a8"/>
<rect x="331.60" y="53.75" width="7.10" height="2.10" fill="#3c62a8"/>
<rect x="331.60" y="56.55" width="18.10" height="2.10" fill="#3c62a8"/>
<rect x="331.60" y="59.55" width="8.90" height="2.10" fill="#3c62a8"/>
<rect x="331.60" y="62.05" width="4.40" height="2.10" fill="#3c62a8"/>
<rect x="331.60" y="64.65" width="0.80" height="2.10" fill="#3c62a8"/>
<rect x="331.60" y="67.55" width="3.20" height="2.10" fill="#3c62a8"/>
<rect x="331.60" y="70.65" width="0.80" height="2.10" fill="#3c62a8"/>
<rect x="331.60" y="73.55" width="4.10" height="2.10" fill="#3c62a8"/>
<rect x="331.60" y="76.25" width="2.00" height="2.10" fill="#3c62a8"/>
<rect x="331.60" y="78.95" width="16.70" height="2.10" fill="#3c62a8"/>
<rect x="331.60" y="81.65" width="23.80" height="2.10" fill="#3c62a8"/>
<rect x="331.60" y="84.65" width="6.80" height="2.10" fill="#3c62a8"/>
<rect x="331.60" y="87.55" width="6.50" height="2.10" fill="#3c62a8"/>
<rect x="331.60" y="90.25" width="5.30" height="2.10" fill="#3c62a8"/>
<rect x="331.60" y="92.95" width="3.20" height="2.10" fill="#3c62a8"/>
<rect x="331.60" y="95.95" width="3.90" height="2.10" fill="#3c62a8"/>
<rect x="331.60" y="98.55" width="2.40" height="2.10" fill="#3c62a8"/>
<line x1="328.8" y1="102.0" x2="328.8" y2="27" stroke="#000" stroke-width="1.0"/>
<path d="M328.8 23.5 L326.6 29 L331.0 29 Z" fill="#000"/>
<line x1="328.3" y1="101.9" x2="399.0" y2="101.9" stroke="#000" stroke-width="1.0"/>
<line x1="331.5" y1="101.9" x2="331.5" y2="104.2" stroke="#000" stroke-width="0.8"/>
<text x="331.5" y="113.9" font-size="7.4" fill="#111" stroke="#111" stroke-width="0.14" text-anchor="middle" font-weight="normal" font-style="normal" textLength="3.6" lengthAdjust="spacingAndGlyphs">0</text>
<line x1="363.8" y1="101.9" x2="363.8" y2="104.2" stroke="#000" stroke-width="0.8"/>
<text x="363.8" y="113.9" font-size="7.4" fill="#111" stroke="#111" stroke-width="0.14" text-anchor="middle" font-weight="normal" font-style="normal" textLength="11.0" lengthAdjust="spacingAndGlyphs">100</text>
<line x1="396.7" y1="101.9" x2="396.7" y2="104.2" stroke="#000" stroke-width="0.8"/>
<text x="396.7" y="113.9" font-size="7.4" fill="#111" stroke="#111" stroke-width="0.14" text-anchor="middle" font-weight="normal" font-style="normal" textLength="11.0" lengthAdjust="spacingAndGlyphs">200</text>
<text x="328.8" y="125.4" font-size="8.4" fill="#222" stroke="#222" stroke-width="0.24" textLength="70" lengthAdjust="spacingAndGlyphs">-log10 adjusted <tspan font-style="italic">P</tspan>-value</text>
<text x="0" y="0" font-size="8.4" fill="#222" stroke="#222" stroke-width="0.24" transform="translate(325.2 103.4) rotate(-90)" textLength="81" lengthAdjust="spacingAndGlyphs">Predicted <tspan font-style="italic">Runx1</tspan> enhancers</text>
<line x1="389.5" y1="32.0" x2="383.67438658523145" y2="33.740987917057275" stroke="#111" stroke-width="0.8"/>
<path d="M380.8 34.6 L383.2 32.3 L384.1 35.2 Z" fill="#111"/>
<text x="391.2" y="34.2" font-size="6.4" fill="#222" stroke="#222" stroke-width="0.06" text-anchor="start" font-weight="normal" font-style="normal" textLength="9.0" lengthAdjust="spacingAndGlyphs">+23</text>
<line x1="366.5" y1="80.6" x2="360.52700524296506" y2="81.94224601281684" stroke="#111" stroke-width="0.8"/>
<path d="M357.6 82.6 L360.2 80.5 L360.9 83.4 Z" fill="#111"/>
<text x="367.4" y="82.0" font-size="6.4" fill="#222" stroke="#222" stroke-width="0.06" text-anchor="start" font-weight="normal" font-style="normal" textLength="11.3" lengthAdjust="spacingAndGlyphs">-371</text>
<text x="428.8" y="16.8" font-size="11.5" fill="#000" stroke="#000" stroke-width="0.45" text-anchor="start" font-weight="bold" font-style="normal" textLength="8.2" lengthAdjust="spacingAndGlyphs">C</text>
<line x1="449.6" y1="23.2" x2="449.6" y2="94.6" stroke="#000" stroke-width="1.0"/>
<line x1="449.1" y1="94.3" x2="503.8" y2="94.3" stroke="#000" stroke-width="1.0"/>
<line x1="446.6" y1="91.1" x2="449.6" y2="91.1" stroke="#000" stroke-width="0.8"/>
<text x="442.3" y="93.6" font-size="7.2" fill="#111" stroke="#111" stroke-width="0.14" text-anchor="middle" font-weight="normal" font-style="normal">0</text>
<line x1="446.6" y1="73.06" x2="449.6" y2="73.06" stroke="#000" stroke-width="0.8"/>
<text x="442.3" y="75.56" font-size="7.2" fill="#111" stroke="#111" stroke-width="0.14" text-anchor="middle" font-weight="normal" font-style="normal">2</text>
<line x1="446.6" y1="55.019999999999996" x2="449.6" y2="55.019999999999996" stroke="#000" stroke-width="0.8"/>
<text x="442.3" y="57.519999999999996" font-size="7.2" fill="#111" stroke="#111" stroke-width="0.14" text-anchor="middle" font-weight="normal" font-style="normal">4</text>
<line x1="446.6" y1="36.98" x2="449.6" y2="36.98" stroke="#000" stroke-width="0.8"/>
<text x="442.3" y="39.48" font-size="7.2" fill="#111" stroke="#111" stroke-width="0.14" text-anchor="middle" font-weight="normal" font-style="normal">6</text>
<line x1="455.3" y1="94.3" x2="455.3" y2="97.2" stroke="#000" stroke-width="0.8"/>
<line x1="466.5" y1="94.3" x2="466.5" y2="97.2" stroke="#000" stroke-width="0.8"/>
<line x1="477.2" y1="94.3" x2="477.2" y2="97.2" stroke="#000" stroke-width="0.8"/>
<line x1="487.8" y1="94.3" x2="487.8" y2="97.2" stroke="#000" stroke-width="0.8"/>
<line x1="498.4" y1="94.3" x2="498.4" y2="97.2" stroke="#000" stroke-width="0.8"/>
<text x="0" y="0" font-size="8.6" fill="#222" stroke="#222" stroke-width="0.24" transform="translate(435.6 94) rotate(-90)" textLength="72" lengthAdjust="spacingAndGlyphs">-log10 adjusted <tspan font-style="italic">P</tspan>-value</text>
<text x="0" y="0" font-size="6.5" fill="#111" stroke="#111" stroke-width="0.1" text-anchor="end" transform="translate(458.3 103.6) rotate(-45)">E (Wnt<tspan font-size="4.6" dy="-2.3">lo</tspan><tspan dy="2.3">)</tspan></text>
<text x="0" y="0" font-size="6.5" fill="#111" stroke="#111" stroke-width="0.1" text-anchor="end" transform="translate(469.5 103.6) rotate(-45)">E (Wnt<tspan font-size="4.6" dy="-2.3">hi</tspan><tspan dy="2.3">)</tspan></text>
<text x="0" y="0" font-size="6.5" fill="#111" stroke="#111" stroke-width="0.1" text-anchor="end" transform="translate(480.2 103.6) rotate(-45)">Conflux AE</text>
<text x="0" y="0" font-size="6.5" fill="#111" stroke="#111" stroke-width="0.1" text-anchor="end" transform="translate(490.8 103.6) rotate(-45)">pre-HE</text>
<text x="0" y="0" font-size="6.5" fill="#111" stroke="#111" stroke-width="0.1" text-anchor="end" transform="translate(501.4 103.6) rotate(-45)">IAC</text>
<path d="M455.3 91.1 L466.5 91.1 L477.2 91.1 L487.8 65.8 L498.4 30.7" stroke="#4a72bb" stroke-width="0.8" fill="none" opacity="0.95"/>
<circle cx="455.30" cy="91.10" r="0.85" fill="#4a72bb" opacity="0.95"/>
<circle cx="466.50" cy="91.10" r="0.85" fill="#4a72bb" opacity="0.95"/>
<circle cx="477.20" cy="91.10" r="0.85" fill="#4a72bb" opacity="0.95"/>
<circle cx="487.80" cy="65.84" r="0.85" fill="#4a72bb" opacity="0.95"/>
<circle cx="498.40" cy="30.67" r="0.85" fill="#4a72bb" opacity="0.95"/>
<path d="M477.2 91.1 L487.8 64.0 L498.4 56.8" stroke="#4a72bb" stroke-width="0.8" fill="none" opacity="0.9"/>
<circle cx="477.20" cy="91.10" r="0.85" fill="#4a72bb" opacity="0.9"/>
<circle cx="487.80" cy="64.04" r="0.85" fill="#4a72bb" opacity="0.9"/>
<circle cx="498.40" cy="56.82" r="0.85" fill="#4a72bb" opacity="0.9"/>
<path d="M455.3 83.9 L466.5 91.1 L477.2 91.1 L487.8 91.1 L498.4 91.1" stroke="#4a72bb" stroke-width="0.5" fill="none" opacity="0.5"/>
<circle cx="455.30" cy="83.88" r="0.5" fill="#4a72bb" opacity="0.5"/>
<circle cx="466.50" cy="91.10" r="0.5" fill="#4a72bb" opacity="0.5"/>
<circle cx="477.20" cy="91.10" r="0.5" fill="#4a72bb" opacity="0.5"/>
<circle cx="487.80" cy="91.10" r="0.5" fill="#4a72bb" opacity="0.5"/>
<circle cx="498.40" cy="91.10" r="0.5" fill="#4a72bb" opacity="0.5"/>
<path d="M455.3 91.1 L466.5 83.9 L477.2 91.1 L487.8 91.1 L498.4 91.1" stroke="#4a72bb" stroke-width="0.5" fill="none" opacity="0.5"/>
<circle cx="455.30" cy="91.10" r="0.5" fill="#4a72bb" opacity="0.5"/>
<circle cx="466.50" cy="83.88" r="0.5" fill="#4a72bb" opacity="0.5"/>
<circle cx="477.20" cy="91.10" r="0.5" fill="#4a72bb" opacity="0.5"/>
<circle cx="487.80" cy="91.10" r="0.5" fill="#4a72bb" opacity="0.5"/>
<circle cx="498.40" cy="91.10" r="0.5" fill="#4a72bb" opacity="0.5"/>
<path d="M477.2 91.1 L487.8 52.3 L498.4 41.5" stroke="#4a72bb" stroke-width="0.5" fill="none" opacity="0.4"/>
<circle cx="477.20" cy="91.10" r="0.5" fill="#4a72bb" opacity="0.4"/>
<circle cx="487.80" cy="52.31" r="0.5" fill="#4a72bb" opacity="0.4"/>
<circle cx="498.40" cy="41.49" r="0.5" fill="#4a72bb" opacity="0.4"/>
<path d="M477.2 91.1 L487.8 56.8 L498.4 26.2" stroke="#4a72bb" stroke-width="0.5" fill="none" opacity="0.35"/>
<circle cx="477.20" cy="91.10" r="0.5" fill="#4a72bb" opacity="0.35"/>
<circle cx="487.80" cy="56.82" r="0.5" fill="#4a72bb" opacity="0.35"/>
<circle cx="498.40" cy="26.16" r="0.5" fill="#4a72bb" opacity="0.35"/>
<path d="M477.2 91.1 L487.8 67.6 L498.4 83.0" stroke="#4a72bb" stroke-width="0.5" fill="none" opacity="0.4"/>
<circle cx="477.20" cy="91.10" r="0.5" fill="#4a72bb" opacity="0.4"/>
<circle cx="487.80" cy="67.65" r="0.5" fill="#4a72bb" opacity="0.4"/>
<circle cx="498.40" cy="82.98" r="0.5" fill="#4a72bb" opacity="0.4"/>
<path d="M477.2 91.1 L487.8 84.8 L498.4 74.0" stroke="#4a72bb" stroke-width="0.5" fill="none" opacity="0.4"/>
<circle cx="477.20" cy="91.10" r="0.5" fill="#4a72bb" opacity="0.4"/>
<circle cx="487.80" cy="84.79" r="0.5" fill="#4a72bb" opacity="0.4"/>
<circle cx="498.40" cy="73.96" r="0.5" fill="#4a72bb" opacity="0.4"/>
<path d="M477.2 91.1 L487.8 89.3 L498.4 76.7" stroke="#4a72bb" stroke-width="0.5" fill="none" opacity="0.4"/>
<circle cx="477.20" cy="91.10" r="0.5" fill="#4a72bb" opacity="0.4"/>
<circle cx="487.80" cy="89.30" r="0.5" fill="#4a72bb" opacity="0.4"/>
<circle cx="498.40" cy="76.67" r="0.5" fill="#4a72bb" opacity="0.4"/>
<path d="M477.2 91.1 L487.8 91.1 L498.4 80.3" stroke="#4a72bb" stroke-width="0.5" fill="none" opacity="0.4"/>
<circle cx="477.20" cy="91.10" r="0.5" fill="#4a72bb" opacity="0.4"/>
<circle cx="487.80" cy="91.10" r="0.5" fill="#4a72bb" opacity="0.4"/>
<circle cx="498.40" cy="80.28" r="0.5" fill="#4a72bb" opacity="0.4"/>
<path d="M477.2 91.1 L487.8 87.5 L498.4 91.1" stroke="#4a72bb" stroke-width="0.5" fill="none" opacity="0.4"/>
<circle cx="477.20" cy="91.10" r="0.5" fill="#4a72bb" opacity="0.4"/>
<circle cx="487.80" cy="87.49" r="0.5" fill="#4a72bb" opacity="0.4"/>
<circle cx="498.40" cy="91.10" r="0.5" fill="#4a72bb" opacity="0.4"/>
<path d="M477.2 91.1 L487.8 55.0 L498.4 91.1" stroke="#4a72bb" stroke-width="0.45" fill="none" opacity="0.35"/>
<circle cx="477.20" cy="91.10" r="0.5" fill="#4a72bb" opacity="0.35"/>
<circle cx="487.80" cy="55.02" r="0.5" fill="#4a72bb" opacity="0.35"/>
<circle cx="498.40" cy="91.10" r="0.5" fill="#4a72bb" opacity="0.35"/>
<path d="M477.2 91.1 L487.8 79.4 L498.4 73.1" stroke="#4a72bb" stroke-width="0.45" fill="none" opacity="0.35"/>
<circle cx="477.20" cy="91.10" r="0.5" fill="#4a72bb" opacity="0.35"/>
<circle cx="487.80" cy="79.37" r="0.5" fill="#4a72bb" opacity="0.35"/>
<circle cx="498.40" cy="73.06" r="0.5" fill="#4a72bb" opacity="0.35"/>
<text x="501.4" y="31.8" font-size="7.0" fill="#222" stroke="#222" stroke-width="0.14" text-anchor="start" font-weight="normal" font-style="normal" textLength="11.2" lengthAdjust="spacingAndGlyphs">-371</text>
<text x="501.6" y="58.6" font-size="7.0" fill="#222" stroke="#222" stroke-width="0.14" text-anchor="start" font-weight="normal" font-style="normal" textLength="9.8" lengthAdjust="spacingAndGlyphs">+23</text>
<text x="316.9" y="144.8" font-size="11.5" fill="#000" stroke="#000" stroke-width="0.45" text-anchor="start" font-weight="bold" font-style="normal" textLength="8.4" lengthAdjust="spacingAndGlyphs">D</text>
<text x="0" y="0" font-size="8.6" fill="#222" stroke="#222" stroke-width="0.24" transform="translate(324.2 226.7) rotate(-90)" textLength="76" lengthAdjust="spacingAndGlyphs"><tspan font-style="italic">Runx1</tspan> expression (scaled)</text>
<text x="356.2" y="240.9" font-size="8.6" fill="#222" stroke="#222" stroke-width="0.24" textLength="125.5" lengthAdjust="spacingAndGlyphs"><tspan font-style="italic">Runx1</tspan> -371 enhancer accessibility (scaled)</text>
<line x1="336.4" y1="163.1" x2="339.2" y2="163.1" stroke="#000" stroke-width="0.8"/>
<text x="335.0" y="165.4" font-size="6.8" fill="#111" stroke="#111" stroke-width="0.06" text-anchor="end" font-weight="normal" font-style="normal">4</text>
<line x1="336.4" y1="173.0" x2="339.2" y2="173.0" stroke="#000" stroke-width="0.8"/>
<text x="335.0" y="175.3" font-size="6.8" fill="#111" stroke="#111" stroke-width="0.06" text-anchor="end" font-weight="normal" font-style="normal">3</text>
<line x1="336.4" y1="182.89999999999998" x2="339.2" y2="182.89999999999998" stroke="#000" stroke-width="0.8"/>
<text x="335.0" y="185.2" font-size="6.8" fill="#111" stroke="#111" stroke-width="0.06" text-anchor="end" font-weight="normal" font-style="normal">2</text>
<line x1="336.4" y1="192.79999999999998" x2="339.2" y2="192.79999999999998" stroke="#000" stroke-width="0.8"/>
<text x="335.0" y="195.1" font-size="6.8" fill="#111" stroke="#111" stroke-width="0.06" text-anchor="end" font-weight="normal" font-style="normal">1</text>
<line x1="336.4" y1="202.7" x2="339.2" y2="202.7" stroke="#000" stroke-width="0.8"/>
<text x="335.0" y="205.0" font-size="6.8" fill="#111" stroke="#111" stroke-width="0.06" text-anchor="end" font-weight="normal" font-style="normal">0</text>
<line x1="336.4" y1="212.6" x2="339.2" y2="212.6" stroke="#000" stroke-width="0.8"/>
<text x="335.0" y="214.9" font-size="6.8" fill="#111" stroke="#111" stroke-width="0.06" text-anchor="end" font-weight="normal" font-style="normal">−1</text>
<ellipse cx="342.8" cy="203" rx="3.6" ry="12" fill="none" stroke="#d0dde4" stroke-width="0.6"/>
<path d="M342.1 216.0h1.2v1.2h-1.2zM342.4 207.3h1.2v1.2h-1.2zM343.4 201.4h1.2v1.2h-1.2zM342.0 212.0h1.2v1.2h-1.2zM342.0 212.6h1.2v1.2h-1.2zM343.4 209.8h1.2v1.2h-1.2zM344.7 203.4h1.2v1.2h-1.2zM344.1 203.1h1.2v1.2h-1.2zM343.1 208.6h1.2v1.2h-1.2zM341.4 193.7h1.2v1.2h-1.2zM340.5 209.1h1.2v1.2h-1.2zM342.0 207.2h1.2v1.2h-1.2zM344.6 200.3h1.2v1.2h-1.2zM343.7 195.6h1.2v1.2h-1.2zM341.3 197.1h1.2v1.2h-1.2zM344.6 195.5h1.2v1.2h-1.2zM344.8 192.0h1.2v1.2h-1.2zM343.3 197.6h1.2v1.2h-1.2zM341.6 209.2h1.2v1.2h-1.2zM343.4 211.1h1.2v1.2h-1.2zM344.1 194.0h1.2v1.2h-1.2zM342.0 210.1h1.2v1.2h-1.2zM341.3 212.5h1.2v1.2h-1.2zM344.0 202.9h1.2v1.2h-1.2zM342.2 197.1h1.2v1.2h-1.2zM343.1 199.4h1.2v1.2h-1.2zM341.5 191.4h1.2v1.2h-1.2zM343.9 213.8h1.2v1.2h-1.2zM343.7 205.2h1.2v1.2h-1.2zM342.9 210.8h1.2v1.2h-1.2zM344.2 213.1h1.2v1.2h-1.2zM343.4 201.0h1.2v1.2h-1.2zM344.7 211.6h1.2v1.2h-1.2zM342.2 211.2h1.2v1.2h-1.2zM343.7 191.0h1.2v1.2h-1.2zM342.0 206.9h1.2v1.2h-1.2zM342.0 213.8h1.2v1.2h-1.2zM342.4 203.6h1.2v1.2h-1.2zM341.9 191.0h1.2v1.2h-1.2zM342.8 198.2h1.2v1.2h-1.2zM343.0 213.8h1.2v1.2h-1.2zM343.0 212.2h1.2v1.2h-1.2zM343.2 196.4h1.2v1.2h-1.2zM343.2 208.3h1.2v1.2h-1.2zM342.3 204.8h1.2v1.2h-1.2zM343.7 207.4h1.2v1.2h-1.2zM341.6 208.7h1.2v1.2h-1.2zM342.8 203.3h1.2v1.2h-1.2zM343.3 207.8h1.2v1.2h-1.2zM343.5 207.5h1.2v1.2h-1.2zM342.5 198.6h1.2v1.2h-1.2zM344.1 201.4h1.2v1.2h-1.2zM343.0 211.3h1.2v1.2h-1.2zM343.0 211.5h1.2v1.2h-1.2zM343.5 211.3h1.2v1.2h-1.2zM341.1 195.8h1.2v1.2h-1.2zM343.9 201.8h1.2v1.2h-1.2zM341.8 207.6h1.2v1.2h-1.2zM342.3 207.2h1.2v1.2h-1.2zM342.4 199.0h1.2v1.2h-1.2zM342.9 208.0h1.2v1.2h-1.2zM345.3 213.3h1.2v1.2h-1.2zM342.3 205.5h1.2v1.2h-1.2zM342.4 202.1h1.2v1.2h-1.2zM343.1 199.1h1.2v1.2h-1.2zM343.6 192.9h1.2v1.2h-1.2zM343.3 213.0h1.2v1.2h-1.2zM343.2 213.5h1.2v1.2h-1.2zM344.3 203.2h1.2v1.2h-1.2zM343.4 209.1h1.2v1.2h-1.2zM342.2 207.6h1.2v1.2h-1.2zM343.7 197.1h1.2v1.2h-1.2zM343.7 204.4h1.2v1.2h-1.2zM343.5 213.2h1.2v1.2h-1.2zM342.3 198.5h1.2v1.2h-1.2zM343.2 213.6h1.2v1.2h-1.2zM343.1 214.1h1.2v1.2h-1.2zM343.5 201.3h1.2v1.2h-1.2zM343.4 203.6h1.2v1.2h-1.2zM344.8 215.7h1.2v1.2h-1.2zM341.5 196.1h1.2v1.2h-1.2zM345.3 192.9h1.2v1.2h-1.2zM343.2 212.8h1.2v1.2h-1.2zM343.3 198.4h1.2v1.2h-1.2zM343.3 213.9h1.2v1.2h-1.2zM342.6 203.3h1.2v1.2h-1.2zM342.7 205.5h1.2v1.2h-1.2zM343.9 191.7h1.2v1.2h-1.2zM343.0 211.1h1.2v1.2h-1.2zM344.6 202.2h1.2v1.2h-1.2zM342.6 192.2h1.2v1.2h-1.2zM343.0 199.0h1.2v1.2h-1.2zM340.7 200.2h1.2v1.2h-1.2zM341.8 213.8h1.2v1.2h-1.2zM342.5 191.1h1.2v1.2h-1.2zM343.5 192.8h1.2v1.2h-1.2zM342.5 203.6h1.2v1.2h-1.2zM341.0 214.2h1.2v1.2h-1.2zM344.8 192.9h1.2v1.2h-1.2zM342.7 196.9h1.2v1.2h-1.2zM341.8 213.3h1.2v1.2h-1.2zM343.8 192.1h1.2v1.2h-1.2zM343.3 200.9h1.2v1.2h-1.2zM342.3 210.2h1.2v1.2h-1.2zM341.7 208.4h1.2v1.2h-1.2zM343.8 204.2h1.2v1.2h-1.2zM344.9 196.4h1.2v1.2h-1.2zM342.0 194.4h1.2v1.2h-1.2zM342.8 200.7h1.2v1.2h-1.2zM344.3 192.2h1.2v1.2h-1.2zM344.6 199.7h1.2v1.2h-1.2zM343.3 202.5h1.2v1.2h-1.2zM341.6 196.1h1.2v1.2h-1.2zM343.2 205.1h1.2v1.2h-1.2zM342.6 193.0h1.2v1.2h-1.2zM342.1 200.6h1.2v1.2h-1.2zM343.6 193.7h1.2v1.2h-1.2zM342.3 204.3h1.2v1.2h-1.2zM344.7 213.1h1.2v1.2h-1.2zM342.5 204.1h1.2v1.2h-1.2zM355.0 208.5h1.2v1.2h-1.2zM353.8 212.2h1.2v1.2h-1.2zM353.0 193.7h1.2v1.2h-1.2zM352.5 208.5h1.2v1.2h-1.2zM352.8 194.9h1.2v1.2h-1.2zM353.3 216.1h1.2v1.2h-1.2zM353.6 200.2h1.2v1.2h-1.2zM353.9 196.2h1.2v1.2h-1.2zM353.1 195.9h1.2v1.2h-1.2zM354.4 202.3h1.2v1.2h-1.2zM353.3 192.3h1.2v1.2h-1.2zM352.5 214.2h1.2v1.2h-1.2zM354.0 197.0h1.2v1.2h-1.2zM353.3 200.8h1.2v1.2h-1.2zM352.8 192.3h1.2v1.2h-1.2zM351.9 202.4h1.2v1.2h-1.2zM354.2 191.7h1.2v1.2h-1.2zM353.2 211.0h1.2v1.2h-1.2zM353.8 213.0h1.2v1.2h-1.2zM353.8 191.5h1.2v1.2h-1.2zM353.1 213.1h1.2v1.2h-1.2zM354.0 198.8h1.2v1.2h-1.2zM352.5 200.5h1.2v1.2h-1.2zM353.8 208.1h1.2v1.2h-1.2zM353.2 213.0h1.2v1.2h-1.2zM352.9 202.7h1.2v1.2h-1.2zM352.7 197.9h1.2v1.2h-1.2zM352.9 202.1h1.2v1.2h-1.2zM352.1 196.9h1.2v1.2h-1.2zM353.2 209.4h1.2v1.2h-1.2zM353.8 208.5h1.2v1.2h-1.2zM352.9 197.7h1.2v1.2h-1.2zM355.1 196.0h1.2v1.2h-1.2zM353.2 200.0h1.2v1.2h-1.2zM352.0 211.3h1.2v1.2h-1.2zM352.7 211.2h1.2v1.2h-1.2zM353.2 215.2h1.2v1.2h-1.2zM353.2 201.9h1.2v1.2h-1.2zM354.0 190.9h1.2v1.2h-1.2zM354.1 197.1h1.2v1.2h-1.2zM354.0 215.7h1.2v1.2h-1.2zM352.8 210.0h1.2v1.2h-1.2zM353.4 191.3h1.2v1.2h-1.2zM352.5 196.2h1.2v1.2h-1.2zM352.6 200.2h1.2v1.2h-1.2zM353.4 206.6h1.2v1.2h-1.2zM353.2 193.4h1.2v1.2h-1.2zM352.4 200.4h1.2v1.2h-1.2zM352.5 191.3h1.2v1.2h-1.2zM352.3 209.2h1.2v1.2h-1.2zM353.4 214.7h1.2v1.2h-1.2zM352.3 196.0h1.2v1.2h-1.2zM352.9 198.1h1.2v1.2h-1.2zM352.8 193.5h1.2v1.2h-1.2zM352.5 210.4h1.2v1.2h-1.2zM354.1 201.2h1.2v1.2h-1.2zM353.2 210.4h1.2v1.2h-1.2zM353.2 214.6h1.2v1.2h-1.2zM353.2 191.5h1.2v1.2h-1.2zM351.9 215.6h1.2v1.2h-1.2zM353.0 197.9h1.2v1.2h-1.2zM354.2 195.8h1.2v1.2h-1.2zM352.5 198.5h1.2v1.2h-1.2zM366.7 170.4h1.2v1.2h-1.2zM365.2 169.7h1.2v1.2h-1.2zM364.6 170.2h1.2v1.2h-1.2zM366.6 171.1h1.2v1.2h-1.2zM364.7 170.9h1.2v1.2h-1.2zM363.2 170.8h1.2v1.2h-1.2zM362.7 171.9h1.2v1.2h-1.2zM364.7 168.1h1.2v1.2h-1.2zM352.5 185.9h1.2v1.2h-1.2zM352.9 186.4h1.2v1.2h-1.2zM357.2 185.9h1.2v1.2h-1.2zM357.6 186.4h1.2v1.2h-1.2zM363.5 200.3h1.2v1.2h-1.2zM373.8 199.4h1.2v1.2h-1.2zM368.3 201.1h1.2v1.2h-1.2zM357.3 198.2h1.2v1.2h-1.2zM372.3 201.4h1.2v1.2h-1.2zM372.0 200.4h1.2v1.2h-1.2zM359.2 197.4h1.2v1.2h-1.2zM363.8 199.8h1.2v1.2h-1.2zM371.6 200.8h1.2v1.2h-1.2zM358.5 201.6h1.2v1.2h-1.2zM366.1 200.7h1.2v1.2h-1.2z" fill="#3aa6d4" opacity="0.92"/>
<path d="M342.5 166.6h1.2v1.2h-1.2zM342.8 170.6h1.2v1.2h-1.2zM343.5 170.2h1.2v1.2h-1.2zM344.2 171.1h1.2v1.2h-1.2zM343.2 165.9h1.2v1.2h-1.2zM342.0 168.2h1.2v1.2h-1.2zM342.9 165.6h1.2v1.2h-1.2zM343.7 168.6h1.2v1.2h-1.2zM343.1 167.3h1.2v1.2h-1.2zM342.5 168.3h1.2v1.2h-1.2zM343.7 165.0h1.2v1.2h-1.2zM343.0 170.9h1.2v1.2h-1.2zM342.4 166.3h1.2v1.2h-1.2zM342.8 170.4h1.2v1.2h-1.2zM343.5 164.7h1.2v1.2h-1.2zM343.3 171.4h1.2v1.2h-1.2zM342.5 168.7h1.2v1.2h-1.2zM343.6 164.7h1.2v1.2h-1.2zM351.2 170.0h1.2v1.2h-1.2zM353.2 172.5h1.2v1.2h-1.2zM351.8 172.0h1.2v1.2h-1.2zM353.2 166.9h1.2v1.2h-1.2zM353.0 173.1h1.2v1.2h-1.2zM351.2 166.2h1.2v1.2h-1.2zM352.0 168.2h1.2v1.2h-1.2zM351.9 168.2h1.2v1.2h-1.2zM353.8 166.0h1.2v1.2h-1.2zM351.8 168.4h1.2v1.2h-1.2zM352.9 167.8h1.2v1.2h-1.2zM353.6 171.7h1.2v1.2h-1.2zM353.7 172.5h1.2v1.2h-1.2zM351.8 171.8h1.2v1.2h-1.2zM352.6 168.8h1.2v1.2h-1.2zM353.2 168.4h1.2v1.2h-1.2zM352.3 171.9h1.2v1.2h-1.2zM351.8 171.2h1.2v1.2h-1.2zM351.4 166.6h1.2v1.2h-1.2zM351.8 164.9h1.2v1.2h-1.2zM368.4 168.2h1.2v1.2h-1.2zM363.7 173.2h1.2v1.2h-1.2zM364.6 174.7h1.2v1.2h-1.2zM369.3 165.8h1.2v1.2h-1.2zM366.4 174.4h1.2v1.2h-1.2zM364.9 168.9h1.2v1.2h-1.2zM359.4 173.8h1.2v1.2h-1.2zM356.9 173.4h1.2v1.2h-1.2zM364.2 173.3h1.2v1.2h-1.2zM359.4 166.4h1.2v1.2h-1.2zM365.2 168.9h1.2v1.2h-1.2zM362.0 169.1h1.2v1.2h-1.2zM364.7 165.9h1.2v1.2h-1.2zM365.0 173.8h1.2v1.2h-1.2zM365.5 171.6h1.2v1.2h-1.2zM362.3 165.2h1.2v1.2h-1.2zM365.2 165.2h1.2v1.2h-1.2zM366.5 168.6h1.2v1.2h-1.2zM359.2 164.4h1.2v1.2h-1.2zM364.3 169.8h1.2v1.2h-1.2zM367.4 167.3h1.2v1.2h-1.2zM364.3 169.3h1.2v1.2h-1.2zM362.6 168.0h1.2v1.2h-1.2zM369.7 172.8h1.2v1.2h-1.2zM368.0 169.9h1.2v1.2h-1.2zM362.3 165.5h1.2v1.2h-1.2zM357.9 170.7h1.2v1.2h-1.2zM363.4 165.2h1.2v1.2h-1.2zM366.0 169.2h1.2v1.2h-1.2zM358.7 174.4h1.2v1.2h-1.2zM364.4 173.5h1.2v1.2h-1.2zM368.2 173.2h1.2v1.2h-1.2zM367.0 170.2h1.2v1.2h-1.2zM356.6 164.3h1.2v1.2h-1.2zM370.8 185.9h1.2v1.2h-1.2zM371.1 186.4h1.2v1.2h-1.2zM374.3 185.9h1.2v1.2h-1.2zM374.7 186.4h1.2v1.2h-1.2zM364.7 200.2h1.2v1.2h-1.2zM365.1 201.8h1.2v1.2h-1.2zM371.0 199.0h1.2v1.2h-1.2zM359.3 200.7h1.2v1.2h-1.2zM355.0 199.9h1.2v1.2h-1.2zM356.4 200.8h1.2v1.2h-1.2zM374.4 198.7h1.2v1.2h-1.2zM366.9 202.2h1.2v1.2h-1.2zM358.4 200.1h1.2v1.2h-1.2zM360.7 200.6h1.2v1.2h-1.2zM358.3 201.8h1.2v1.2h-1.2zM366.2 198.6h1.2v1.2h-1.2zM365.3 199.6h1.2v1.2h-1.2zM364.0 199.0h1.2v1.2h-1.2zM368.2 200.2h1.2v1.2h-1.2zM367.3 200.5h1.2v1.2h-1.2zM367.1 198.5h1.2v1.2h-1.2zM367.0 198.2h1.2v1.2h-1.2zM366.7 200.2h1.2v1.2h-1.2zM356.9 201.7h1.2v1.2h-1.2zM366.7 199.1h1.2v1.2h-1.2zM355.7 198.6h1.2v1.2h-1.2zM356.5 202.3h1.2v1.2h-1.2zM361.8 200.9h1.2v1.2h-1.2zM355.5 199.8h1.2v1.2h-1.2zM373.3 200.5h1.2v1.2h-1.2zM357.4 201.2h1.2v1.2h-1.2zM367.2 199.0h1.2v1.2h-1.2zM370.5 200.2h1.2v1.2h-1.2z" fill="#e4559e" opacity="0.92"/>
<path d="M342.5 180.9h1.2v1.2h-1.2zM342.9 180.4h1.2v1.2h-1.2zM352.1 180.9h1.2v1.2h-1.2zM352.5 180.4h1.2v1.2h-1.2zM357.2 180.9h1.2v1.2h-1.2zM357.6 180.4h1.2v1.2h-1.2zM362.0 180.9h1.2v1.2h-1.2zM362.4 180.4h1.2v1.2h-1.2zM342.1 185.9h1.2v1.2h-1.2zM342.5 186.4h1.2v1.2h-1.2zM368.7 200.9h1.2v1.2h-1.2zM364.4 199.9h1.2v1.2h-1.2zM362.6 199.6h1.2v1.2h-1.2zM366.5 200.0h1.2v1.2h-1.2zM372.4 199.3h1.2v1.2h-1.2zM367.1 199.0h1.2v1.2h-1.2zM365.0 198.3h1.2v1.2h-1.2zM372.2 199.2h1.2v1.2h-1.2zM365.7 200.1h1.2v1.2h-1.2zM372.5 199.8h1.2v1.2h-1.2zM367.3 199.2h1.2v1.2h-1.2zM365.8 200.4h1.2v1.2h-1.2zM359.0 200.5h1.2v1.2h-1.2zM361.2 199.2h1.2v1.2h-1.2zM361.3 200.8h1.2v1.2h-1.2zM365.7 199.3h1.2v1.2h-1.2zM366.4 201.4h1.2v1.2h-1.2zM371.6 200.5h1.2v1.2h-1.2zM361.4 199.9h1.2v1.2h-1.2zM367.9 199.1h1.2v1.2h-1.2zM368.7 200.4h1.2v1.2h-1.2zM368.3 200.9h1.2v1.2h-1.2zM365.3 201.2h1.2v1.2h-1.2zM358.8 200.1h1.2v1.2h-1.2zM357.1 201.9h1.2v1.2h-1.2zM355.1 201.2h1.2v1.2h-1.2zM366.1 200.9h1.2v1.2h-1.2zM368.4 199.9h1.2v1.2h-1.2zM372.5 200.0h1.2v1.2h-1.2zM365.5 199.5h1.2v1.2h-1.2zM356.2 200.5h1.2v1.2h-1.2zM355.5 199.9h1.2v1.2h-1.2zM373.0 199.5h1.2v1.2h-1.2zM343.9 195.4h1.2v1.2h-1.2zM341.4 196.8h1.2v1.2h-1.2zM342.5 205.5h1.2v1.2h-1.2zM343.7 196.9h1.2v1.2h-1.2zM343.4 207.2h1.2v1.2h-1.2zM344.3 209.8h1.2v1.2h-1.2zM343.2 206.5h1.2v1.2h-1.2z" fill="#a23864" opacity="0.92"/>
<path d="M366.8 180.9h1.2v1.2h-1.2zM367.2 180.4h1.2v1.2h-1.2zM361.6 185.9h1.2v1.2h-1.2zM362.0 186.4h1.2v1.2h-1.2zM357.3 198.1h1.2v1.2h-1.2zM357.8 201.2h1.2v1.2h-1.2zM374.5 200.0h1.2v1.2h-1.2zM372.9 200.8h1.2v1.2h-1.2zM361.4 200.9h1.2v1.2h-1.2zM361.6 201.3h1.2v1.2h-1.2zM359.7 199.8h1.2v1.2h-1.2zM355.7 199.4h1.2v1.2h-1.2zM364.4 199.7h1.2v1.2h-1.2zM370.0 200.1h1.2v1.2h-1.2zM358.4 198.7h1.2v1.2h-1.2zM370.5 200.4h1.2v1.2h-1.2zM371.1 202.5h1.2v1.2h-1.2zM362.5 199.1h1.2v1.2h-1.2zM360.6 200.2h1.2v1.2h-1.2zM359.1 198.6h1.2v1.2h-1.2zM362.5 201.1h1.2v1.2h-1.2zM342.1 201.8h1.2v1.2h-1.2zM341.2 201.4h1.2v1.2h-1.2zM342.8 200.2h1.2v1.2h-1.2z" fill="#4f8f5c" opacity="0.92"/>
<line x1="339.2" y1="160.5" x2="339.2" y2="217.2" stroke="#000" stroke-width="1.3"/>
<line x1="338.59999999999997" y1="216.7" x2="376.8" y2="216.7" stroke="#000" stroke-width="1.3"/>
<line x1="346.9" y1="216.7" x2="346.9" y2="219.2" stroke="#000" stroke-width="0.8"/>
<text x="346.9" y="228.2" font-size="7.2" fill="#111" stroke="#111" stroke-width="0.14" text-anchor="middle" font-weight="normal" font-style="normal">0</text>
<line x1="354.84999999999997" y1="216.7" x2="354.84999999999997" y2="219.2" stroke="#000" stroke-width="0.8"/>
<text x="354.84999999999997" y="228.2" font-size="7.2" fill="#111" stroke="#111" stroke-width="0.14" text-anchor="middle" font-weight="normal" font-style="normal">1</text>
<line x1="362.79999999999995" y1="216.7" x2="362.79999999999995" y2="219.2" stroke="#000" stroke-width="0.8"/>
<text x="362.79999999999995" y="228.2" font-size="7.2" fill="#111" stroke="#111" stroke-width="0.14" text-anchor="middle" font-weight="normal" font-style="normal">2</text>
<line x1="370.75" y1="216.7" x2="370.75" y2="219.2" stroke="#000" stroke-width="0.8"/>
<text x="370.75" y="228.2" font-size="7.2" fill="#111" stroke="#111" stroke-width="0.14" text-anchor="middle" font-weight="normal" font-style="normal">3</text>
<path d="M351.0 149.20000000000002 L354.2 152.4 L351.0 155.6 L347.8 152.4 Z" fill="#46acd9"/>
<text x="357.4" y="155.0" font-size="7.4" fill="#8cc8e6" stroke="#8cc8e6" stroke-width="0.14" text-anchor="start" font-weight="normal" font-style="normal" textLength="3.5" lengthAdjust="spacingAndGlyphs">E</text>
<path d="M382.2 216.0h1.2v1.2h-1.2zM382.5 207.3h1.2v1.2h-1.2zM383.5 201.4h1.2v1.2h-1.2zM382.1 212.0h1.2v1.2h-1.2zM382.1 212.6h1.2v1.2h-1.2zM383.5 209.8h1.2v1.2h-1.2zM384.8 203.4h1.2v1.2h-1.2zM384.2 203.1h1.2v1.2h-1.2zM383.2 208.6h1.2v1.2h-1.2zM381.5 193.7h1.2v1.2h-1.2zM380.6 209.1h1.2v1.2h-1.2zM382.1 207.2h1.2v1.2h-1.2zM384.7 200.3h1.2v1.2h-1.2zM383.8 195.6h1.2v1.2h-1.2zM381.4 197.1h1.2v1.2h-1.2zM384.7 195.5h1.2v1.2h-1.2zM384.9 192.0h1.2v1.2h-1.2zM383.4 197.6h1.2v1.2h-1.2zM381.7 209.2h1.2v1.2h-1.2zM383.5 211.1h1.2v1.2h-1.2zM384.2 194.0h1.2v1.2h-1.2zM382.1 210.1h1.2v1.2h-1.2zM381.4 212.5h1.2v1.2h-1.2zM384.1 202.9h1.2v1.2h-1.2zM382.3 197.1h1.2v1.2h-1.2zM383.2 199.4h1.2v1.2h-1.2zM381.6 191.4h1.2v1.2h-1.2zM384.0 213.8h1.2v1.2h-1.2zM383.8 205.2h1.2v1.2h-1.2zM383.0 210.8h1.2v1.2h-1.2zM384.3 213.1h1.2v1.2h-1.2zM383.5 201.0h1.2v1.2h-1.2zM384.8 211.6h1.2v1.2h-1.2zM382.3 211.2h1.2v1.2h-1.2zM383.8 191.0h1.2v1.2h-1.2zM382.1 206.9h1.2v1.2h-1.2zM382.1 213.8h1.2v1.2h-1.2zM382.5 203.6h1.2v1.2h-1.2zM382.0 191.0h1.2v1.2h-1.2zM382.9 198.2h1.2v1.2h-1.2zM383.1 213.8h1.2v1.2h-1.2zM383.1 212.2h1.2v1.2h-1.2zM383.3 196.4h1.2v1.2h-1.2zM383.3 208.3h1.2v1.2h-1.2zM382.4 204.8h1.2v1.2h-1.2zM383.8 207.4h1.2v1.2h-1.2zM381.7 208.7h1.2v1.2h-1.2zM382.9 203.3h1.2v1.2h-1.2zM383.4 207.8h1.2v1.2h-1.2zM383.6 207.5h1.2v1.2h-1.2zM382.6 198.6h1.2v1.2h-1.2zM384.2 201.4h1.2v1.2h-1.2zM383.1 211.3h1.2v1.2h-1.2zM383.1 211.5h1.2v1.2h-1.2zM383.6 211.3h1.2v1.2h-1.2zM381.2 195.8h1.2v1.2h-1.2zM384.0 201.8h1.2v1.2h-1.2zM381.9 207.6h1.2v1.2h-1.2zM382.4 207.2h1.2v1.2h-1.2zM382.5 199.0h1.2v1.2h-1.2zM383.0 208.0h1.2v1.2h-1.2zM385.4 213.3h1.2v1.2h-1.2zM382.4 205.5h1.2v1.2h-1.2zM382.5 202.1h1.2v1.2h-1.2zM383.2 199.1h1.2v1.2h-1.2zM383.7 192.9h1.2v1.2h-1.2zM383.4 213.0h1.2v1.2h-1.2zM383.3 213.5h1.2v1.2h-1.2zM384.4 203.2h1.2v1.2h-1.2zM383.5 209.1h1.2v1.2h-1.2zM382.3 207.6h1.2v1.2h-1.2zM383.8 197.1h1.2v1.2h-1.2zM383.8 204.4h1.2v1.2h-1.2zM383.6 213.2h1.2v1.2h-1.2zM382.4 198.5h1.2v1.2h-1.2zM383.3 213.6h1.2v1.2h-1.2zM383.2 214.1h1.2v1.2h-1.2zM383.6 201.3h1.2v1.2h-1.2zM383.5 203.6h1.2v1.2h-1.2zM384.9 215.7h1.2v1.2h-1.2zM381.6 196.1h1.2v1.2h-1.2zM385.4 192.9h1.2v1.2h-1.2zM383.3 212.8h1.2v1.2h-1.2zM383.4 198.4h1.2v1.2h-1.2zM383.4 213.9h1.2v1.2h-1.2zM382.7 203.3h1.2v1.2h-1.2zM382.8 205.5h1.2v1.2h-1.2zM384.0 191.7h1.2v1.2h-1.2zM383.1 211.1h1.2v1.2h-1.2zM384.7 202.2h1.2v1.2h-1.2zM382.7 192.2h1.2v1.2h-1.2zM383.1 199.0h1.2v1.2h-1.2zM380.8 200.2h1.2v1.2h-1.2zM381.9 213.8h1.2v1.2h-1.2zM382.6 191.1h1.2v1.2h-1.2zM383.6 192.8h1.2v1.2h-1.2zM382.6 203.6h1.2v1.2h-1.2zM381.1 214.2h1.2v1.2h-1.2zM384.9 192.9h1.2v1.2h-1.2zM382.8 196.9h1.2v1.2h-1.2zM381.9 213.3h1.2v1.2h-1.2zM383.9 192.1h1.2v1.2h-1.2zM383.4 200.9h1.2v1.2h-1.2zM382.4 210.2h1.2v1.2h-1.2zM381.8 208.4h1.2v1.2h-1.2zM383.9 204.2h1.2v1.2h-1.2zM385.0 196.4h1.2v1.2h-1.2zM382.1 194.4h1.2v1.2h-1.2zM382.9 200.7h1.2v1.2h-1.2zM384.4 192.2h1.2v1.2h-1.2zM384.7 199.7h1.2v1.2h-1.2zM383.4 202.5h1.2v1.2h-1.2zM381.7 196.1h1.2v1.2h-1.2zM383.3 205.1h1.2v1.2h-1.2zM382.7 193.0h1.2v1.2h-1.2zM382.2 200.6h1.2v1.2h-1.2zM383.7 193.7h1.2v1.2h-1.2zM382.4 204.3h1.2v1.2h-1.2zM384.8 213.1h1.2v1.2h-1.2zM382.6 204.1h1.2v1.2h-1.2zM395.1 208.5h1.2v1.2h-1.2zM393.9 212.2h1.2v1.2h-1.2zM393.1 193.7h1.2v1.2h-1.2zM392.6 208.5h1.2v1.2h-1.2zM392.9 194.9h1.2v1.2h-1.2zM393.4 216.1h1.2v1.2h-1.2zM393.7 200.2h1.2v1.2h-1.2zM394.0 196.2h1.2v1.2h-1.2zM393.2 195.9h1.2v1.2h-1.2zM394.5 202.3h1.2v1.2h-1.2zM393.4 192.3h1.2v1.2h-1.2zM392.6 214.2h1.2v1.2h-1.2zM394.1 197.0h1.2v1.2h-1.2zM393.4 200.8h1.2v1.2h-1.2zM392.9 192.3h1.2v1.2h-1.2zM392.0 202.4h1.2v1.2h-1.2zM394.3 191.7h1.2v1.2h-1.2zM393.3 211.0h1.2v1.2h-1.2zM393.9 213.0h1.2v1.2h-1.2zM393.9 191.5h1.2v1.2h-1.2zM393.2 213.1h1.2v1.2h-1.2zM394.1 198.8h1.2v1.2h-1.2zM392.6 200.5h1.2v1.2h-1.2zM393.9 208.1h1.2v1.2h-1.2zM393.3 213.0h1.2v1.2h-1.2zM393.0 202.7h1.2v1.2h-1.2zM392.8 197.9h1.2v1.2h-1.2zM393.0 202.1h1.2v1.2h-1.2zM392.2 196.9h1.2v1.2h-1.2zM393.3 209.4h1.2v1.2h-1.2zM393.9 208.5h1.2v1.2h-1.2zM393.0 197.7h1.2v1.2h-1.2zM395.2 196.0h1.2v1.2h-1.2zM393.3 200.0h1.2v1.2h-1.2zM392.1 211.3h1.2v1.2h-1.2zM392.8 211.2h1.2v1.2h-1.2zM393.3 215.2h1.2v1.2h-1.2zM393.3 201.9h1.2v1.2h-1.2zM394.1 190.9h1.2v1.2h-1.2zM394.2 197.1h1.2v1.2h-1.2zM394.1 215.7h1.2v1.2h-1.2zM392.9 210.0h1.2v1.2h-1.2zM393.5 191.3h1.2v1.2h-1.2zM392.6 196.2h1.2v1.2h-1.2zM392.7 200.2h1.2v1.2h-1.2zM393.5 206.6h1.2v1.2h-1.2zM393.3 193.4h1.2v1.2h-1.2zM392.5 200.4h1.2v1.2h-1.2zM392.6 191.3h1.2v1.2h-1.2zM392.4 209.2h1.2v1.2h-1.2zM393.5 214.7h1.2v1.2h-1.2zM392.4 196.0h1.2v1.2h-1.2zM393.0 198.1h1.2v1.2h-1.2zM392.9 193.5h1.2v1.2h-1.2zM392.6 210.4h1.2v1.2h-1.2zM394.2 201.2h1.2v1.2h-1.2zM393.3 210.4h1.2v1.2h-1.2zM393.3 214.6h1.2v1.2h-1.2zM393.3 191.5h1.2v1.2h-1.2zM392.0 215.6h1.2v1.2h-1.2zM393.1 197.9h1.2v1.2h-1.2zM394.3 195.8h1.2v1.2h-1.2zM392.6 198.5h1.2v1.2h-1.2zM406.8 170.4h1.2v1.2h-1.2zM405.3 169.7h1.2v1.2h-1.2zM404.7 170.2h1.2v1.2h-1.2zM406.7 171.1h1.2v1.2h-1.2zM404.8 170.9h1.2v1.2h-1.2zM403.3 170.8h1.2v1.2h-1.2zM402.8 171.9h1.2v1.2h-1.2zM404.8 168.1h1.2v1.2h-1.2zM392.6 185.9h1.2v1.2h-1.2zM393.0 186.4h1.2v1.2h-1.2zM397.3 185.9h1.2v1.2h-1.2zM397.7 186.4h1.2v1.2h-1.2zM403.6 200.3h1.2v1.2h-1.2zM413.9 199.4h1.2v1.2h-1.2zM408.4 201.1h1.2v1.2h-1.2zM397.4 198.2h1.2v1.2h-1.2zM412.4 201.4h1.2v1.2h-1.2zM412.1 200.4h1.2v1.2h-1.2zM399.3 197.4h1.2v1.2h-1.2zM403.9 199.8h1.2v1.2h-1.2zM411.7 200.8h1.2v1.2h-1.2zM398.6 201.6h1.2v1.2h-1.2zM406.2 200.7h1.2v1.2h-1.2z" fill="#3aa6d4" opacity="0.92"/>
<path d="M382.6 166.6h1.2v1.2h-1.2zM382.9 170.6h1.2v1.2h-1.2zM383.6 170.2h1.2v1.2h-1.2zM384.3 171.1h1.2v1.2h-1.2zM383.3 165.9h1.2v1.2h-1.2zM382.1 168.2h1.2v1.2h-1.2zM383.0 165.6h1.2v1.2h-1.2zM383.8 168.6h1.2v1.2h-1.2zM383.2 167.3h1.2v1.2h-1.2zM382.6 168.3h1.2v1.2h-1.2zM383.8 165.0h1.2v1.2h-1.2zM383.1 170.9h1.2v1.2h-1.2zM382.5 166.3h1.2v1.2h-1.2zM382.9 170.4h1.2v1.2h-1.2zM383.6 164.7h1.2v1.2h-1.2zM383.4 171.4h1.2v1.2h-1.2zM382.6 168.7h1.2v1.2h-1.2zM383.7 164.7h1.2v1.2h-1.2zM391.3 170.0h1.2v1.2h-1.2zM393.3 172.5h1.2v1.2h-1.2zM391.9 172.0h1.2v1.2h-1.2zM393.3 166.9h1.2v1.2h-1.2zM393.1 173.1h1.2v1.2h-1.2zM391.3 166.2h1.2v1.2h-1.2zM392.1 168.2h1.2v1.2h-1.2zM392.0 168.2h1.2v1.2h-1.2zM393.9 166.0h1.2v1.2h-1.2zM391.9 168.4h1.2v1.2h-1.2zM393.0 167.8h1.2v1.2h-1.2zM393.7 171.7h1.2v1.2h-1.2zM393.8 172.5h1.2v1.2h-1.2zM391.9 171.8h1.2v1.2h-1.2zM392.7 168.8h1.2v1.2h-1.2zM393.3 168.4h1.2v1.2h-1.2zM392.4 171.9h1.2v1.2h-1.2zM391.9 171.2h1.2v1.2h-1.2zM391.5 166.6h1.2v1.2h-1.2zM391.9 164.9h1.2v1.2h-1.2zM408.5 168.2h1.2v1.2h-1.2zM403.8 173.2h1.2v1.2h-1.2zM404.7 174.7h1.2v1.2h-1.2zM409.4 165.8h1.2v1.2h-1.2zM406.5 174.4h1.2v1.2h-1.2zM405.0 168.9h1.2v1.2h-1.2zM399.5 173.8h1.2v1.2h-1.2zM397.0 173.4h1.2v1.2h-1.2zM404.3 173.3h1.2v1.2h-1.2zM399.5 166.4h1.2v1.2h-1.2zM405.3 168.9h1.2v1.2h-1.2zM402.1 169.1h1.2v1.2h-1.2zM404.8 165.9h1.2v1.2h-1.2zM405.1 173.8h1.2v1.2h-1.2zM405.6 171.6h1.2v1.2h-1.2zM402.4 165.2h1.2v1.2h-1.2zM405.3 165.2h1.2v1.2h-1.2zM406.6 168.6h1.2v1.2h-1.2zM399.3 164.4h1.2v1.2h-1.2zM404.4 169.8h1.2v1.2h-1.2zM407.5 167.3h1.2v1.2h-1.2zM404.4 169.3h1.2v1.2h-1.2zM402.7 168.0h1.2v1.2h-1.2zM409.8 172.8h1.2v1.2h-1.2zM408.1 169.9h1.2v1.2h-1.2zM402.4 165.5h1.2v1.2h-1.2zM398.0 170.7h1.2v1.2h-1.2zM403.5 165.2h1.2v1.2h-1.2zM406.1 169.2h1.2v1.2h-1.2zM398.8 174.4h1.2v1.2h-1.2zM404.5 173.5h1.2v1.2h-1.2zM408.3 173.2h1.2v1.2h-1.2zM407.1 170.2h1.2v1.2h-1.2zM396.7 164.3h1.2v1.2h-1.2zM410.9 185.9h1.2v1.2h-1.2zM411.2 186.4h1.2v1.2h-1.2zM414.4 185.9h1.2v1.2h-1.2zM414.8 186.4h1.2v1.2h-1.2zM404.8 200.2h1.2v1.2h-1.2zM405.2 201.8h1.2v1.2h-1.2zM411.1 199.0h1.2v1.2h-1.2zM399.4 200.7h1.2v1.2h-1.2zM395.1 199.9h1.2v1.2h-1.2zM396.5 200.8h1.2v1.2h-1.2zM414.5 198.7h1.2v1.2h-1.2zM407.0 202.2h1.2v1.2h-1.2zM398.5 200.1h1.2v1.2h-1.2zM400.8 200.6h1.2v1.2h-1.2zM398.4 201.8h1.2v1.2h-1.2zM406.3 198.6h1.2v1.2h-1.2zM405.4 199.6h1.2v1.2h-1.2zM404.1 199.0h1.2v1.2h-1.2zM408.3 200.2h1.2v1.2h-1.2zM407.4 200.5h1.2v1.2h-1.2zM407.2 198.5h1.2v1.2h-1.2zM407.1 198.2h1.2v1.2h-1.2zM406.8 200.2h1.2v1.2h-1.2zM397.0 201.7h1.2v1.2h-1.2zM406.8 199.1h1.2v1.2h-1.2zM395.8 198.6h1.2v1.2h-1.2zM396.6 202.3h1.2v1.2h-1.2zM401.9 200.9h1.2v1.2h-1.2zM395.6 199.8h1.2v1.2h-1.2zM413.4 200.5h1.2v1.2h-1.2zM397.5 201.2h1.2v1.2h-1.2zM407.3 199.0h1.2v1.2h-1.2zM410.6 200.2h1.2v1.2h-1.2z" fill="#e4559e" opacity="0.92"/>
<path d="M382.6 180.9h1.2v1.2h-1.2zM383.0 180.4h1.2v1.2h-1.2zM392.2 180.9h1.2v1.2h-1.2zM392.6 180.4h1.2v1.2h-1.2zM397.3 180.9h1.2v1.2h-1.2zM397.7 180.4h1.2v1.2h-1.2zM402.1 180.9h1.2v1.2h-1.2zM402.5 180.4h1.2v1.2h-1.2zM382.2 185.9h1.2v1.2h-1.2zM382.6 186.4h1.2v1.2h-1.2zM408.8 200.9h1.2v1.2h-1.2zM404.5 199.9h1.2v1.2h-1.2zM402.7 199.6h1.2v1.2h-1.2zM406.6 200.0h1.2v1.2h-1.2zM412.5 199.3h1.2v1.2h-1.2zM407.2 199.0h1.2v1.2h-1.2zM405.1 198.3h1.2v1.2h-1.2zM412.3 199.2h1.2v1.2h-1.2zM405.8 200.1h1.2v1.2h-1.2zM412.6 199.8h1.2v1.2h-1.2zM407.4 199.2h1.2v1.2h-1.2zM405.9 200.4h1.2v1.2h-1.2zM399.1 200.5h1.2v1.2h-1.2zM401.3 199.2h1.2v1.2h-1.2zM401.4 200.8h1.2v1.2h-1.2zM405.8 199.3h1.2v1.2h-1.2zM406.5 201.4h1.2v1.2h-1.2zM411.7 200.5h1.2v1.2h-1.2zM401.5 199.9h1.2v1.2h-1.2zM408.0 199.1h1.2v1.2h-1.2zM408.8 200.4h1.2v1.2h-1.2zM408.4 200.9h1.2v1.2h-1.2zM405.4 201.2h1.2v1.2h-1.2zM398.9 200.1h1.2v1.2h-1.2zM397.2 201.9h1.2v1.2h-1.2zM395.2 201.2h1.2v1.2h-1.2zM406.2 200.9h1.2v1.2h-1.2zM408.5 199.9h1.2v1.2h-1.2zM412.6 200.0h1.2v1.2h-1.2zM405.6 199.5h1.2v1.2h-1.2zM396.3 200.5h1.2v1.2h-1.2zM395.6 199.9h1.2v1.2h-1.2zM413.1 199.5h1.2v1.2h-1.2zM384.0 195.4h1.2v1.2h-1.2zM381.5 196.8h1.2v1.2h-1.2zM382.6 205.5h1.2v1.2h-1.2zM383.8 196.9h1.2v1.2h-1.2zM383.5 207.2h1.2v1.2h-1.2zM384.4 209.8h1.2v1.2h-1.2zM383.3 206.5h1.2v1.2h-1.2z" fill="#a23864" opacity="0.92"/>
<path d="M406.9 180.9h1.2v1.2h-1.2zM407.3 180.4h1.2v1.2h-1.2zM401.7 185.9h1.2v1.2h-1.2zM402.1 186.4h1.2v1.2h-1.2zM397.4 198.1h1.2v1.2h-1.2zM397.9 201.2h1.2v1.2h-1.2zM414.6 200.0h1.2v1.2h-1.2zM413.0 200.8h1.2v1.2h-1.2zM401.5 200.9h1.2v1.2h-1.2zM401.7 201.3h1.2v1.2h-1.2zM399.8 199.8h1.2v1.2h-1.2zM395.8 199.4h1.2v1.2h-1.2zM404.5 199.7h1.2v1.2h-1.2zM410.1 200.1h1.2v1.2h-1.2zM398.5 198.7h1.2v1.2h-1.2zM410.6 200.4h1.2v1.2h-1.2zM411.2 202.5h1.2v1.2h-1.2zM402.6 199.1h1.2v1.2h-1.2zM400.7 200.2h1.2v1.2h-1.2zM399.2 198.6h1.2v1.2h-1.2zM402.6 201.1h1.2v1.2h-1.2zM382.2 201.8h1.2v1.2h-1.2zM381.3 201.4h1.2v1.2h-1.2zM382.9 200.2h1.2v1.2h-1.2z" fill="#4f8f5c" opacity="0.92"/>
<ellipse cx="382.5" cy="205" rx="5" ry="9" fill="url(#gGr)"/>
<ellipse cx="384.8" cy="201.6" rx="8" ry="3.4" fill="url(#gG)"/>
<ellipse cx="404" cy="201.8" rx="9.5" ry="2.4" fill="url(#gG2)"/>
<line x1="379.3" y1="160.5" x2="379.3" y2="217.2" stroke="#000" stroke-width="1.3"/>
<line x1="378.7" y1="216.7" x2="416.90000000000003" y2="216.7" stroke="#000" stroke-width="1.3"/>
<line x1="387.0" y1="216.7" x2="387.0" y2="219.2" stroke="#000" stroke-width="0.8"/>
<text x="387.0" y="228.2" font-size="7.2" fill="#111" stroke="#111" stroke-width="0.14" text-anchor="middle" font-weight="normal" font-style="normal">0</text>
<line x1="394.95" y1="216.7" x2="394.95" y2="219.2" stroke="#000" stroke-width="0.8"/>
<text x="394.95" y="228.2" font-size="7.2" fill="#111" stroke="#111" stroke-width="0.14" text-anchor="middle" font-weight="normal" font-style="normal">1</text>
<line x1="402.9" y1="216.7" x2="402.9" y2="219.2" stroke="#000" stroke-width="0.8"/>
<text x="402.9" y="228.2" font-size="7.2" fill="#111" stroke="#111" stroke-width="0.14" text-anchor="middle" font-weight="normal" font-style="normal">2</text>
<line x1="410.85" y1="216.7" x2="410.85" y2="219.2" stroke="#000" stroke-width="0.8"/>
<text x="410.85" y="228.2" font-size="7.2" fill="#111" stroke="#111" stroke-width="0.14" text-anchor="middle" font-weight="normal" font-style="normal">3</text>
<path d="M378.6 149.20000000000002 L381.8 152.4 L378.6 155.6 L375.40000000000003 152.4 Z" fill="#5e8a5e"/>
<text x="385.0" y="155.0" font-size="7.4" fill="#8aa87e" stroke="#8aa87e" stroke-width="0.14" text-anchor="start" font-weight="normal" font-style="normal" textLength="27" lengthAdjust="spacingAndGlyphs">Conflux AE</text>
<path d="M422.5 216.0h1.2v1.2h-1.2zM422.8 207.3h1.2v1.2h-1.2zM423.8 201.4h1.2v1.2h-1.2zM422.4 212.0h1.2v1.2h-1.2zM422.4 212.6h1.2v1.2h-1.2zM423.8 209.8h1.2v1.2h-1.2zM425.1 203.4h1.2v1.2h-1.2zM424.5 203.1h1.2v1.2h-1.2zM423.5 208.6h1.2v1.2h-1.2zM421.8 193.7h1.2v1.2h-1.2zM420.9 209.1h1.2v1.2h-1.2zM422.4 207.2h1.2v1.2h-1.2zM425.0 200.3h1.2v1.2h-1.2zM424.1 195.6h1.2v1.2h-1.2zM421.7 197.1h1.2v1.2h-1.2zM425.0 195.5h1.2v1.2h-1.2zM425.2 192.0h1.2v1.2h-1.2zM423.7 197.6h1.2v1.2h-1.2zM422.0 209.2h1.2v1.2h-1.2zM423.8 211.1h1.2v1.2h-1.2zM424.5 194.0h1.2v1.2h-1.2zM422.4 210.1h1.2v1.2h-1.2zM421.7 212.5h1.2v1.2h-1.2zM424.4 202.9h1.2v1.2h-1.2zM422.6 197.1h1.2v1.2h-1.2zM423.5 199.4h1.2v1.2h-1.2zM421.9 191.4h1.2v1.2h-1.2zM424.3 213.8h1.2v1.2h-1.2zM424.1 205.2h1.2v1.2h-1.2zM423.3 210.8h1.2v1.2h-1.2zM424.6 213.1h1.2v1.2h-1.2zM423.8 201.0h1.2v1.2h-1.2zM425.1 211.6h1.2v1.2h-1.2zM422.6 211.2h1.2v1.2h-1.2zM424.1 191.0h1.2v1.2h-1.2zM422.4 206.9h1.2v1.2h-1.2zM422.4 213.8h1.2v1.2h-1.2zM422.8 203.6h1.2v1.2h-1.2zM422.3 191.0h1.2v1.2h-1.2zM423.2 198.2h1.2v1.2h-1.2zM423.4 213.8h1.2v1.2h-1.2zM423.4 212.2h1.2v1.2h-1.2zM423.6 196.4h1.2v1.2h-1.2zM423.6 208.3h1.2v1.2h-1.2zM422.7 204.8h1.2v1.2h-1.2zM424.1 207.4h1.2v1.2h-1.2zM422.0 208.7h1.2v1.2h-1.2zM423.2 203.3h1.2v1.2h-1.2zM423.7 207.8h1.2v1.2h-1.2zM423.9 207.5h1.2v1.2h-1.2zM422.9 198.6h1.2v1.2h-1.2zM424.5 201.4h1.2v1.2h-1.2zM423.4 211.3h1.2v1.2h-1.2zM423.4 211.5h1.2v1.2h-1.2zM423.9 211.3h1.2v1.2h-1.2zM421.5 195.8h1.2v1.2h-1.2zM424.3 201.8h1.2v1.2h-1.2zM422.2 207.6h1.2v1.2h-1.2zM422.7 207.2h1.2v1.2h-1.2zM422.8 199.0h1.2v1.2h-1.2zM423.3 208.0h1.2v1.2h-1.2zM425.7 213.3h1.2v1.2h-1.2zM422.7 205.5h1.2v1.2h-1.2zM422.8 202.1h1.2v1.2h-1.2zM423.5 199.1h1.2v1.2h-1.2zM424.0 192.9h1.2v1.2h-1.2zM423.7 213.0h1.2v1.2h-1.2zM423.6 213.5h1.2v1.2h-1.2zM424.7 203.2h1.2v1.2h-1.2zM423.8 209.1h1.2v1.2h-1.2zM422.6 207.6h1.2v1.2h-1.2zM424.1 197.1h1.2v1.2h-1.2zM424.1 204.4h1.2v1.2h-1.2zM423.9 213.2h1.2v1.2h-1.2zM422.7 198.5h1.2v1.2h-1.2zM423.6 213.6h1.2v1.2h-1.2zM423.5 214.1h1.2v1.2h-1.2zM423.9 201.3h1.2v1.2h-1.2zM423.8 203.6h1.2v1.2h-1.2zM425.2 215.7h1.2v1.2h-1.2zM421.9 196.1h1.2v1.2h-1.2zM425.7 192.9h1.2v1.2h-1.2zM423.6 212.8h1.2v1.2h-1.2zM423.7 198.4h1.2v1.2h-1.2zM423.7 213.9h1.2v1.2h-1.2zM423.0 203.3h1.2v1.2h-1.2zM423.1 205.5h1.2v1.2h-1.2zM424.3 191.7h1.2v1.2h-1.2zM423.4 211.1h1.2v1.2h-1.2zM425.0 202.2h1.2v1.2h-1.2zM423.0 192.2h1.2v1.2h-1.2zM423.4 199.0h1.2v1.2h-1.2zM421.1 200.2h1.2v1.2h-1.2zM422.2 213.8h1.2v1.2h-1.2zM422.9 191.1h1.2v1.2h-1.2zM423.9 192.8h1.2v1.2h-1.2zM422.9 203.6h1.2v1.2h-1.2zM421.4 214.2h1.2v1.2h-1.2zM425.2 192.9h1.2v1.2h-1.2zM423.1 196.9h1.2v1.2h-1.2zM422.2 213.3h1.2v1.2h-1.2zM424.2 192.1h1.2v1.2h-1.2zM423.7 200.9h1.2v1.2h-1.2zM422.7 210.2h1.2v1.2h-1.2zM422.1 208.4h1.2v1.2h-1.2zM424.2 204.2h1.2v1.2h-1.2zM425.3 196.4h1.2v1.2h-1.2zM422.4 194.4h1.2v1.2h-1.2zM423.2 200.7h1.2v1.2h-1.2zM424.7 192.2h1.2v1.2h-1.2zM425.0 199.7h1.2v1.2h-1.2zM423.7 202.5h1.2v1.2h-1.2zM422.0 196.1h1.2v1.2h-1.2zM423.6 205.1h1.2v1.2h-1.2zM423.0 193.0h1.2v1.2h-1.2zM422.5 200.6h1.2v1.2h-1.2zM424.0 193.7h1.2v1.2h-1.2zM422.7 204.3h1.2v1.2h-1.2zM425.1 213.1h1.2v1.2h-1.2zM422.9 204.1h1.2v1.2h-1.2zM435.4 208.5h1.2v1.2h-1.2zM434.2 212.2h1.2v1.2h-1.2zM433.4 193.7h1.2v1.2h-1.2zM432.9 208.5h1.2v1.2h-1.2zM433.2 194.9h1.2v1.2h-1.2zM433.7 216.1h1.2v1.2h-1.2zM434.0 200.2h1.2v1.2h-1.2zM434.3 196.2h1.2v1.2h-1.2zM433.5 195.9h1.2v1.2h-1.2zM434.8 202.3h1.2v1.2h-1.2zM433.7 192.3h1.2v1.2h-1.2zM432.9 214.2h1.2v1.2h-1.2zM434.4 197.0h1.2v1.2h-1.2zM433.7 200.8h1.2v1.2h-1.2zM433.2 192.3h1.2v1.2h-1.2zM432.3 202.4h1.2v1.2h-1.2zM434.6 191.7h1.2v1.2h-1.2zM433.6 211.0h1.2v1.2h-1.2zM434.2 213.0h1.2v1.2h-1.2zM434.2 191.5h1.2v1.2h-1.2zM433.5 213.1h1.2v1.2h-1.2zM434.4 198.8h1.2v1.2h-1.2zM432.9 200.5h1.2v1.2h-1.2zM434.2 208.1h1.2v1.2h-1.2zM433.6 213.0h1.2v1.2h-1.2zM433.3 202.7h1.2v1.2h-1.2zM433.1 197.9h1.2v1.2h-1.2zM433.3 202.1h1.2v1.2h-1.2zM432.5 196.9h1.2v1.2h-1.2zM433.6 209.4h1.2v1.2h-1.2zM434.2 208.5h1.2v1.2h-1.2zM433.3 197.7h1.2v1.2h-1.2zM435.5 196.0h1.2v1.2h-1.2zM433.6 200.0h1.2v1.2h-1.2zM432.4 211.3h1.2v1.2h-1.2zM433.1 211.2h1.2v1.2h-1.2zM433.6 215.2h1.2v1.2h-1.2zM433.6 201.9h1.2v1.2h-1.2zM434.4 190.9h1.2v1.2h-1.2zM434.5 197.1h1.2v1.2h-1.2zM434.4 215.7h1.2v1.2h-1.2zM433.2 210.0h1.2v1.2h-1.2zM433.8 191.3h1.2v1.2h-1.2zM432.9 196.2h1.2v1.2h-1.2zM433.0 200.2h1.2v1.2h-1.2zM433.8 206.6h1.2v1.2h-1.2zM433.6 193.4h1.2v1.2h-1.2zM432.8 200.4h1.2v1.2h-1.2zM432.9 191.3h1.2v1.2h-1.2zM432.7 209.2h1.2v1.2h-1.2zM433.8 214.7h1.2v1.2h-1.2zM432.7 196.0h1.2v1.2h-1.2zM433.3 198.1h1.2v1.2h-1.2zM433.2 193.5h1.2v1.2h-1.2zM432.9 210.4h1.2v1.2h-1.2zM434.5 201.2h1.2v1.2h-1.2zM433.6 210.4h1.2v1.2h-1.2zM433.6 214.6h1.2v1.2h-1.2zM433.6 191.5h1.2v1.2h-1.2zM432.3 215.6h1.2v1.2h-1.2zM433.4 197.9h1.2v1.2h-1.2zM434.6 195.8h1.2v1.2h-1.2zM432.9 198.5h1.2v1.2h-1.2zM447.1 170.4h1.2v1.2h-1.2zM445.6 169.7h1.2v1.2h-1.2zM445.0 170.2h1.2v1.2h-1.2zM447.0 171.1h1.2v1.2h-1.2zM445.1 170.9h1.2v1.2h-1.2zM443.6 170.8h1.2v1.2h-1.2zM443.1 171.9h1.2v1.2h-1.2zM445.1 168.1h1.2v1.2h-1.2zM432.9 185.9h1.2v1.2h-1.2zM433.3 186.4h1.2v1.2h-1.2zM437.6 185.9h1.2v1.2h-1.2zM438.0 186.4h1.2v1.2h-1.2zM443.9 200.3h1.2v1.2h-1.2zM454.2 199.4h1.2v1.2h-1.2zM448.7 201.1h1.2v1.2h-1.2zM437.7 198.2h1.2v1.2h-1.2zM452.7 201.4h1.2v1.2h-1.2zM452.4 200.4h1.2v1.2h-1.2zM439.6 197.4h1.2v1.2h-1.2zM444.2 199.8h1.2v1.2h-1.2zM452.0 200.8h1.2v1.2h-1.2zM438.9 201.6h1.2v1.2h-1.2zM446.5 200.7h1.2v1.2h-1.2z" fill="#3aa6d4" opacity="0.92"/>
<path d="M422.9 166.6h1.2v1.2h-1.2zM423.2 170.6h1.2v1.2h-1.2zM423.9 170.2h1.2v1.2h-1.2zM424.6 171.1h1.2v1.2h-1.2zM423.6 165.9h1.2v1.2h-1.2zM422.4 168.2h1.2v1.2h-1.2zM423.3 165.6h1.2v1.2h-1.2zM424.1 168.6h1.2v1.2h-1.2zM423.5 167.3h1.2v1.2h-1.2zM422.9 168.3h1.2v1.2h-1.2zM424.1 165.0h1.2v1.2h-1.2zM423.4 170.9h1.2v1.2h-1.2zM422.8 166.3h1.2v1.2h-1.2zM423.2 170.4h1.2v1.2h-1.2zM423.9 164.7h1.2v1.2h-1.2zM423.7 171.4h1.2v1.2h-1.2zM422.9 168.7h1.2v1.2h-1.2zM424.0 164.7h1.2v1.2h-1.2zM431.6 170.0h1.2v1.2h-1.2zM433.6 172.5h1.2v1.2h-1.2zM432.2 172.0h1.2v1.2h-1.2zM433.6 166.9h1.2v1.2h-1.2zM433.4 173.1h1.2v1.2h-1.2zM431.6 166.2h1.2v1.2h-1.2zM432.4 168.2h1.2v1.2h-1.2zM432.3 168.2h1.2v1.2h-1.2zM434.2 166.0h1.2v1.2h-1.2zM432.2 168.4h1.2v1.2h-1.2zM433.3 167.8h1.2v1.2h-1.2zM434.0 171.7h1.2v1.2h-1.2zM434.1 172.5h1.2v1.2h-1.2zM432.2 171.8h1.2v1.2h-1.2zM433.0 168.8h1.2v1.2h-1.2zM433.6 168.4h1.2v1.2h-1.2zM432.7 171.9h1.2v1.2h-1.2zM432.2 171.2h1.2v1.2h-1.2zM431.8 166.6h1.2v1.2h-1.2zM432.2 164.9h1.2v1.2h-1.2zM448.8 168.2h1.2v1.2h-1.2zM444.1 173.2h1.2v1.2h-1.2zM445.0 174.7h1.2v1.2h-1.2zM449.7 165.8h1.2v1.2h-1.2zM446.8 174.4h1.2v1.2h-1.2zM445.3 168.9h1.2v1.2h-1.2zM439.8 173.8h1.2v1.2h-1.2zM437.3 173.4h1.2v1.2h-1.2zM444.6 173.3h1.2v1.2h-1.2zM439.8 166.4h1.2v1.2h-1.2zM445.6 168.9h1.2v1.2h-1.2zM442.4 169.1h1.2v1.2h-1.2zM445.1 165.9h1.2v1.2h-1.2zM445.4 173.8h1.2v1.2h-1.2zM445.9 171.6h1.2v1.2h-1.2zM442.7 165.2h1.2v1.2h-1.2zM445.6 165.2h1.2v1.2h-1.2zM446.9 168.6h1.2v1.2h-1.2zM439.6 164.4h1.2v1.2h-1.2zM444.7 169.8h1.2v1.2h-1.2zM447.8 167.3h1.2v1.2h-1.2zM444.7 169.3h1.2v1.2h-1.2zM443.0 168.0h1.2v1.2h-1.2zM450.1 172.8h1.2v1.2h-1.2zM448.4 169.9h1.2v1.2h-1.2zM442.7 165.5h1.2v1.2h-1.2zM438.3 170.7h1.2v1.2h-1.2zM443.8 165.2h1.2v1.2h-1.2zM446.4 169.2h1.2v1.2h-1.2zM439.1 174.4h1.2v1.2h-1.2zM444.8 173.5h1.2v1.2h-1.2zM448.6 173.2h1.2v1.2h-1.2zM447.4 170.2h1.2v1.2h-1.2zM437.0 164.3h1.2v1.2h-1.2zM451.2 185.9h1.2v1.2h-1.2zM451.5 186.4h1.2v1.2h-1.2zM454.7 185.9h1.2v1.2h-1.2zM455.1 186.4h1.2v1.2h-1.2zM445.1 200.2h1.2v1.2h-1.2zM445.5 201.8h1.2v1.2h-1.2zM451.4 199.0h1.2v1.2h-1.2zM439.7 200.7h1.2v1.2h-1.2zM435.4 199.9h1.2v1.2h-1.2zM436.8 200.8h1.2v1.2h-1.2zM454.8 198.7h1.2v1.2h-1.2zM447.3 202.2h1.2v1.2h-1.2zM438.8 200.1h1.2v1.2h-1.2zM441.1 200.6h1.2v1.2h-1.2zM438.7 201.8h1.2v1.2h-1.2zM446.6 198.6h1.2v1.2h-1.2zM445.7 199.6h1.2v1.2h-1.2zM444.4 199.0h1.2v1.2h-1.2zM448.6 200.2h1.2v1.2h-1.2zM447.7 200.5h1.2v1.2h-1.2zM447.5 198.5h1.2v1.2h-1.2zM447.4 198.2h1.2v1.2h-1.2zM447.1 200.2h1.2v1.2h-1.2zM437.3 201.7h1.2v1.2h-1.2zM447.1 199.1h1.2v1.2h-1.2zM436.1 198.6h1.2v1.2h-1.2zM436.9 202.3h1.2v1.2h-1.2zM442.2 200.9h1.2v1.2h-1.2zM435.9 199.8h1.2v1.2h-1.2zM453.7 200.5h1.2v1.2h-1.2zM437.8 201.2h1.2v1.2h-1.2zM447.6 199.0h1.2v1.2h-1.2zM450.9 200.2h1.2v1.2h-1.2z" fill="#e4559e" opacity="0.92"/>
<path d="M422.9 180.9h1.2v1.2h-1.2zM423.3 180.4h1.2v1.2h-1.2zM432.5 180.9h1.2v1.2h-1.2zM432.9 180.4h1.2v1.2h-1.2zM437.6 180.9h1.2v1.2h-1.2zM438.0 180.4h1.2v1.2h-1.2zM442.4 180.9h1.2v1.2h-1.2zM442.8 180.4h1.2v1.2h-1.2zM422.5 185.9h1.2v1.2h-1.2zM422.9 186.4h1.2v1.2h-1.2zM449.1 200.9h1.2v1.2h-1.2zM444.8 199.9h1.2v1.2h-1.2zM443.0 199.6h1.2v1.2h-1.2zM446.9 200.0h1.2v1.2h-1.2zM452.8 199.3h1.2v1.2h-1.2zM447.5 199.0h1.2v1.2h-1.2zM445.4 198.3h1.2v1.2h-1.2zM452.6 199.2h1.2v1.2h-1.2zM446.1 200.1h1.2v1.2h-1.2zM452.9 199.8h1.2v1.2h-1.2zM447.7 199.2h1.2v1.2h-1.2zM446.2 200.4h1.2v1.2h-1.2zM439.4 200.5h1.2v1.2h-1.2zM441.6 199.2h1.2v1.2h-1.2zM441.7 200.8h1.2v1.2h-1.2zM446.1 199.3h1.2v1.2h-1.2zM446.8 201.4h1.2v1.2h-1.2zM452.0 200.5h1.2v1.2h-1.2zM441.8 199.9h1.2v1.2h-1.2zM448.3 199.1h1.2v1.2h-1.2zM449.1 200.4h1.2v1.2h-1.2zM448.7 200.9h1.2v1.2h-1.2zM445.7 201.2h1.2v1.2h-1.2zM439.2 200.1h1.2v1.2h-1.2zM437.5 201.9h1.2v1.2h-1.2zM435.5 201.2h1.2v1.2h-1.2zM446.5 200.9h1.2v1.2h-1.2zM448.8 199.9h1.2v1.2h-1.2zM452.9 200.0h1.2v1.2h-1.2zM445.9 199.5h1.2v1.2h-1.2zM436.6 200.5h1.2v1.2h-1.2zM435.9 199.9h1.2v1.2h-1.2zM453.4 199.5h1.2v1.2h-1.2zM424.3 195.4h1.2v1.2h-1.2zM421.8 196.8h1.2v1.2h-1.2zM422.9 205.5h1.2v1.2h-1.2zM424.1 196.9h1.2v1.2h-1.2zM423.8 207.2h1.2v1.2h-1.2zM424.7 209.8h1.2v1.2h-1.2zM423.6 206.5h1.2v1.2h-1.2z" fill="#a23864" opacity="0.92"/>
<path d="M447.2 180.9h1.2v1.2h-1.2zM447.6 180.4h1.2v1.2h-1.2zM442.0 185.9h1.2v1.2h-1.2zM442.4 186.4h1.2v1.2h-1.2zM437.7 198.1h1.2v1.2h-1.2zM438.2 201.2h1.2v1.2h-1.2zM454.9 200.0h1.2v1.2h-1.2zM453.3 200.8h1.2v1.2h-1.2zM441.8 200.9h1.2v1.2h-1.2zM442.0 201.3h1.2v1.2h-1.2zM440.1 199.8h1.2v1.2h-1.2zM436.1 199.4h1.2v1.2h-1.2zM444.8 199.7h1.2v1.2h-1.2zM450.4 200.1h1.2v1.2h-1.2zM438.8 198.7h1.2v1.2h-1.2zM450.9 200.4h1.2v1.2h-1.2zM451.5 202.5h1.2v1.2h-1.2zM442.9 199.1h1.2v1.2h-1.2zM441.0 200.2h1.2v1.2h-1.2zM439.5 198.6h1.2v1.2h-1.2zM442.9 201.1h1.2v1.2h-1.2zM422.5 201.8h1.2v1.2h-1.2zM421.6 201.4h1.2v1.2h-1.2zM423.2 200.2h1.2v1.2h-1.2z" fill="#4f8f5c" opacity="0.92"/>
<ellipse cx="423.5" cy="202" rx="5" ry="10" fill="url(#gGr)"/>
<ellipse cx="437.7" cy="181" rx="16" ry="5.5" fill="url(#gP1)"/>
<ellipse cx="437.7" cy="181" rx="9" ry="3" fill="none" stroke="#e8b8c8" stroke-width="0.5" opacity="0.8"/>
<ellipse cx="445" cy="198.8" rx="13" ry="6.8" fill="url(#gP2)"/>
<line x1="419.6" y1="160.5" x2="419.6" y2="217.2" stroke="#000" stroke-width="1.3"/>
<line x1="419.0" y1="216.7" x2="457.20000000000005" y2="216.7" stroke="#000" stroke-width="1.3"/>
<line x1="427.3" y1="216.7" x2="427.3" y2="219.2" stroke="#000" stroke-width="0.8"/>
<text x="427.3" y="228.2" font-size="7.2" fill="#111" stroke="#111" stroke-width="0.14" text-anchor="middle" font-weight="normal" font-style="normal">0</text>
<line x1="435.25" y1="216.7" x2="435.25" y2="219.2" stroke="#000" stroke-width="0.8"/>
<text x="435.25" y="228.2" font-size="7.2" fill="#111" stroke="#111" stroke-width="0.14" text-anchor="middle" font-weight="normal" font-style="normal">1</text>
<line x1="443.2" y1="216.7" x2="443.2" y2="219.2" stroke="#000" stroke-width="0.8"/>
<text x="443.2" y="228.2" font-size="7.2" fill="#111" stroke="#111" stroke-width="0.14" text-anchor="middle" font-weight="normal" font-style="normal">2</text>
<line x1="451.15000000000003" y1="216.7" x2="451.15000000000003" y2="219.2" stroke="#000" stroke-width="0.8"/>
<text x="451.15000000000003" y="228.2" font-size="7.2" fill="#111" stroke="#111" stroke-width="0.14" text-anchor="middle" font-weight="normal" font-style="normal">3</text>
<path d="M425.7 149.20000000000002 L428.9 152.4 L425.7 155.6 L422.5 152.4 Z" fill="#a94b6c"/>
<text x="432.09999999999997" y="155.0" font-size="7.4" fill="#b8607e" stroke="#b8607e" stroke-width="0.14" text-anchor="start" font-weight="normal" font-style="normal" textLength="16.7" lengthAdjust="spacingAndGlyphs">pre-HE</text>
<path d="M462.8 216.0h1.2v1.2h-1.2zM463.1 207.3h1.2v1.2h-1.2zM464.1 201.4h1.2v1.2h-1.2zM462.7 212.0h1.2v1.2h-1.2zM462.7 212.6h1.2v1.2h-1.2zM464.1 209.8h1.2v1.2h-1.2zM465.4 203.4h1.2v1.2h-1.2zM464.8 203.1h1.2v1.2h-1.2zM463.8 208.6h1.2v1.2h-1.2zM462.1 193.7h1.2v1.2h-1.2zM461.2 209.1h1.2v1.2h-1.2zM462.7 207.2h1.2v1.2h-1.2zM465.3 200.3h1.2v1.2h-1.2zM464.4 195.6h1.2v1.2h-1.2zM462.0 197.1h1.2v1.2h-1.2zM465.3 195.5h1.2v1.2h-1.2zM465.5 192.0h1.2v1.2h-1.2zM464.0 197.6h1.2v1.2h-1.2zM462.3 209.2h1.2v1.2h-1.2zM464.1 211.1h1.2v1.2h-1.2zM464.8 194.0h1.2v1.2h-1.2zM462.7 210.1h1.2v1.2h-1.2zM462.0 212.5h1.2v1.2h-1.2zM464.7 202.9h1.2v1.2h-1.2zM462.9 197.1h1.2v1.2h-1.2zM463.8 199.4h1.2v1.2h-1.2zM462.2 191.4h1.2v1.2h-1.2zM464.6 213.8h1.2v1.2h-1.2zM464.4 205.2h1.2v1.2h-1.2zM463.6 210.8h1.2v1.2h-1.2zM464.9 213.1h1.2v1.2h-1.2zM464.1 201.0h1.2v1.2h-1.2zM465.4 211.6h1.2v1.2h-1.2zM462.9 211.2h1.2v1.2h-1.2zM464.4 191.0h1.2v1.2h-1.2zM462.7 206.9h1.2v1.2h-1.2zM462.7 213.8h1.2v1.2h-1.2zM463.1 203.6h1.2v1.2h-1.2zM462.6 191.0h1.2v1.2h-1.2zM463.5 198.2h1.2v1.2h-1.2zM463.7 213.8h1.2v1.2h-1.2zM463.7 212.2h1.2v1.2h-1.2zM463.9 196.4h1.2v1.2h-1.2zM463.9 208.3h1.2v1.2h-1.2zM463.0 204.8h1.2v1.2h-1.2zM464.4 207.4h1.2v1.2h-1.2zM462.3 208.7h1.2v1.2h-1.2zM463.5 203.3h1.2v1.2h-1.2zM464.0 207.8h1.2v1.2h-1.2zM464.2 207.5h1.2v1.2h-1.2zM463.2 198.6h1.2v1.2h-1.2zM464.8 201.4h1.2v1.2h-1.2zM463.7 211.3h1.2v1.2h-1.2zM463.7 211.5h1.2v1.2h-1.2zM464.2 211.3h1.2v1.2h-1.2zM461.8 195.8h1.2v1.2h-1.2zM464.6 201.8h1.2v1.2h-1.2zM462.5 207.6h1.2v1.2h-1.2zM463.0 207.2h1.2v1.2h-1.2zM463.1 199.0h1.2v1.2h-1.2zM463.6 208.0h1.2v1.2h-1.2zM466.0 213.3h1.2v1.2h-1.2zM463.0 205.5h1.2v1.2h-1.2zM463.1 202.1h1.2v1.2h-1.2zM463.8 199.1h1.2v1.2h-1.2zM464.3 192.9h1.2v1.2h-1.2zM464.0 213.0h1.2v1.2h-1.2zM463.9 213.5h1.2v1.2h-1.2zM465.0 203.2h1.2v1.2h-1.2zM464.1 209.1h1.2v1.2h-1.2zM462.9 207.6h1.2v1.2h-1.2zM464.4 197.1h1.2v1.2h-1.2zM464.4 204.4h1.2v1.2h-1.2zM464.2 213.2h1.2v1.2h-1.2zM463.0 198.5h1.2v1.2h-1.2zM463.9 213.6h1.2v1.2h-1.2zM463.8 214.1h1.2v1.2h-1.2zM464.2 201.3h1.2v1.2h-1.2zM464.1 203.6h1.2v1.2h-1.2zM465.5 215.7h1.2v1.2h-1.2zM462.2 196.1h1.2v1.2h-1.2zM466.0 192.9h1.2v1.2h-1.2zM463.9 212.8h1.2v1.2h-1.2zM464.0 198.4h1.2v1.2h-1.2zM464.0 213.9h1.2v1.2h-1.2zM463.3 203.3h1.2v1.2h-1.2zM463.4 205.5h1.2v1.2h-1.2zM464.6 191.7h1.2v1.2h-1.2zM463.7 211.1h1.2v1.2h-1.2zM465.3 202.2h1.2v1.2h-1.2zM463.3 192.2h1.2v1.2h-1.2zM463.7 199.0h1.2v1.2h-1.2zM461.4 200.2h1.2v1.2h-1.2zM462.5 213.8h1.2v1.2h-1.2zM463.2 191.1h1.2v1.2h-1.2zM464.2 192.8h1.2v1.2h-1.2zM463.2 203.6h1.2v1.2h-1.2zM461.7 214.2h1.2v1.2h-1.2zM465.5 192.9h1.2v1.2h-1.2zM463.4 196.9h1.2v1.2h-1.2zM462.5 213.3h1.2v1.2h-1.2zM464.5 192.1h1.2v1.2h-1.2zM464.0 200.9h1.2v1.2h-1.2zM463.0 210.2h1.2v1.2h-1.2zM462.4 208.4h1.2v1.2h-1.2zM464.5 204.2h1.2v1.2h-1.2zM465.6 196.4h1.2v1.2h-1.2zM462.7 194.4h1.2v1.2h-1.2zM463.5 200.7h1.2v1.2h-1.2zM465.0 192.2h1.2v1.2h-1.2zM465.3 199.7h1.2v1.2h-1.2zM464.0 202.5h1.2v1.2h-1.2zM462.3 196.1h1.2v1.2h-1.2zM463.9 205.1h1.2v1.2h-1.2zM463.3 193.0h1.2v1.2h-1.2zM462.8 200.6h1.2v1.2h-1.2zM464.3 193.7h1.2v1.2h-1.2zM463.0 204.3h1.2v1.2h-1.2zM465.4 213.1h1.2v1.2h-1.2zM463.2 204.1h1.2v1.2h-1.2zM475.7 208.5h1.2v1.2h-1.2zM474.5 212.2h1.2v1.2h-1.2zM473.7 193.7h1.2v1.2h-1.2zM473.2 208.5h1.2v1.2h-1.2zM473.5 194.9h1.2v1.2h-1.2zM474.0 216.1h1.2v1.2h-1.2zM474.3 200.2h1.2v1.2h-1.2zM474.6 196.2h1.2v1.2h-1.2zM473.8 195.9h1.2v1.2h-1.2zM475.1 202.3h1.2v1.2h-1.2zM474.0 192.3h1.2v1.2h-1.2zM473.2 214.2h1.2v1.2h-1.2zM474.7 197.0h1.2v1.2h-1.2zM474.0 200.8h1.2v1.2h-1.2zM473.5 192.3h1.2v1.2h-1.2zM472.6 202.4h1.2v1.2h-1.2zM474.9 191.7h1.2v1.2h-1.2zM473.9 211.0h1.2v1.2h-1.2zM474.5 213.0h1.2v1.2h-1.2zM474.5 191.5h1.2v1.2h-1.2zM473.8 213.1h1.2v1.2h-1.2zM474.7 198.8h1.2v1.2h-1.2zM473.2 200.5h1.2v1.2h-1.2zM474.5 208.1h1.2v1.2h-1.2zM473.9 213.0h1.2v1.2h-1.2zM473.6 202.7h1.2v1.2h-1.2zM473.4 197.9h1.2v1.2h-1.2zM473.6 202.1h1.2v1.2h-1.2zM472.8 196.9h1.2v1.2h-1.2zM473.9 209.4h1.2v1.2h-1.2zM474.5 208.5h1.2v1.2h-1.2zM473.6 197.7h1.2v1.2h-1.2zM475.8 196.0h1.2v1.2h-1.2zM473.9 200.0h1.2v1.2h-1.2zM472.7 211.3h1.2v1.2h-1.2zM473.4 211.2h1.2v1.2h-1.2zM473.9 215.2h1.2v1.2h-1.2zM473.9 201.9h1.2v1.2h-1.2zM474.7 190.9h1.2v1.2h-1.2zM474.8 197.1h1.2v1.2h-1.2zM474.7 215.7h1.2v1.2h-1.2zM473.5 210.0h1.2v1.2h-1.2zM474.1 191.3h1.2v1.2h-1.2zM473.2 196.2h1.2v1.2h-1.2zM473.3 200.2h1.2v1.2h-1.2zM474.1 206.6h1.2v1.2h-1.2zM473.9 193.4h1.2v1.2h-1.2zM473.1 200.4h1.2v1.2h-1.2zM473.2 191.3h1.2v1.2h-1.2zM473.0 209.2h1.2v1.2h-1.2zM474.1 214.7h1.2v1.2h-1.2zM473.0 196.0h1.2v1.2h-1.2zM473.6 198.1h1.2v1.2h-1.2zM473.5 193.5h1.2v1.2h-1.2zM473.2 210.4h1.2v1.2h-1.2zM474.8 201.2h1.2v1.2h-1.2zM473.9 210.4h1.2v1.2h-1.2zM473.9 214.6h1.2v1.2h-1.2zM473.9 191.5h1.2v1.2h-1.2zM472.6 215.6h1.2v1.2h-1.2zM473.7 197.9h1.2v1.2h-1.2zM474.9 195.8h1.2v1.2h-1.2zM473.2 198.5h1.2v1.2h-1.2zM487.4 170.4h1.2v1.2h-1.2zM485.9 169.7h1.2v1.2h-1.2zM485.3 170.2h1.2v1.2h-1.2zM487.3 171.1h1.2v1.2h-1.2zM485.4 170.9h1.2v1.2h-1.2zM483.9 170.8h1.2v1.2h-1.2zM483.4 171.9h1.2v1.2h-1.2zM485.4 168.1h1.2v1.2h-1.2zM473.2 185.9h1.2v1.2h-1.2zM473.6 186.4h1.2v1.2h-1.2zM477.9 185.9h1.2v1.2h-1.2zM478.3 186.4h1.2v1.2h-1.2zM484.2 200.3h1.2v1.2h-1.2zM494.5 199.4h1.2v1.2h-1.2zM489.0 201.1h1.2v1.2h-1.2zM478.0 198.2h1.2v1.2h-1.2zM493.0 201.4h1.2v1.2h-1.2zM492.7 200.4h1.2v1.2h-1.2zM479.9 197.4h1.2v1.2h-1.2zM484.5 199.8h1.2v1.2h-1.2zM492.3 200.8h1.2v1.2h-1.2zM479.2 201.6h1.2v1.2h-1.2zM486.8 200.7h1.2v1.2h-1.2z" fill="#3aa6d4" opacity="0.92"/>
<path d="M463.2 166.6h1.2v1.2h-1.2zM463.5 170.6h1.2v1.2h-1.2zM464.2 170.2h1.2v1.2h-1.2zM464.9 171.1h1.2v1.2h-1.2zM463.9 165.9h1.2v1.2h-1.2zM462.7 168.2h1.2v1.2h-1.2zM463.6 165.6h1.2v1.2h-1.2zM464.4 168.6h1.2v1.2h-1.2zM463.8 167.3h1.2v1.2h-1.2zM463.2 168.3h1.2v1.2h-1.2zM464.4 165.0h1.2v1.2h-1.2zM463.7 170.9h1.2v1.2h-1.2zM463.1 166.3h1.2v1.2h-1.2zM463.5 170.4h1.2v1.2h-1.2zM464.2 164.7h1.2v1.2h-1.2zM464.0 171.4h1.2v1.2h-1.2zM463.2 168.7h1.2v1.2h-1.2zM464.3 164.7h1.2v1.2h-1.2zM471.9 170.0h1.2v1.2h-1.2zM473.9 172.5h1.2v1.2h-1.2zM472.5 172.0h1.2v1.2h-1.2zM473.9 166.9h1.2v1.2h-1.2zM473.7 173.1h1.2v1.2h-1.2zM471.9 166.2h1.2v1.2h-1.2zM472.7 168.2h1.2v1.2h-1.2zM472.6 168.2h1.2v1.2h-1.2zM474.5 166.0h1.2v1.2h-1.2zM472.5 168.4h1.2v1.2h-1.2zM473.6 167.8h1.2v1.2h-1.2zM474.3 171.7h1.2v1.2h-1.2zM474.4 172.5h1.2v1.2h-1.2zM472.5 171.8h1.2v1.2h-1.2zM473.3 168.8h1.2v1.2h-1.2zM473.9 168.4h1.2v1.2h-1.2zM473.0 171.9h1.2v1.2h-1.2zM472.5 171.2h1.2v1.2h-1.2zM472.1 166.6h1.2v1.2h-1.2zM472.5 164.9h1.2v1.2h-1.2zM489.1 168.2h1.2v1.2h-1.2zM484.4 173.2h1.2v1.2h-1.2zM485.3 174.7h1.2v1.2h-1.2zM490.0 165.8h1.2v1.2h-1.2zM487.1 174.4h1.2v1.2h-1.2zM485.6 168.9h1.2v1.2h-1.2zM480.1 173.8h1.2v1.2h-1.2zM477.6 173.4h1.2v1.2h-1.2zM484.9 173.3h1.2v1.2h-1.2zM480.1 166.4h1.2v1.2h-1.2zM485.9 168.9h1.2v1.2h-1.2zM482.7 169.1h1.2v1.2h-1.2zM485.4 165.9h1.2v1.2h-1.2zM485.7 173.8h1.2v1.2h-1.2zM486.2 171.6h1.2v1.2h-1.2zM483.0 165.2h1.2v1.2h-1.2zM485.9 165.2h1.2v1.2h-1.2zM487.2 168.6h1.2v1.2h-1.2zM479.9 164.4h1.2v1.2h-1.2zM485.0 169.8h1.2v1.2h-1.2zM488.1 167.3h1.2v1.2h-1.2zM485.0 169.3h1.2v1.2h-1.2zM483.3 168.0h1.2v1.2h-1.2zM490.4 172.8h1.2v1.2h-1.2zM488.7 169.9h1.2v1.2h-1.2zM483.0 165.5h1.2v1.2h-1.2zM478.6 170.7h1.2v1.2h-1.2zM484.1 165.2h1.2v1.2h-1.2zM486.7 169.2h1.2v1.2h-1.2zM479.4 174.4h1.2v1.2h-1.2zM485.1 173.5h1.2v1.2h-1.2zM488.9 173.2h1.2v1.2h-1.2zM487.7 170.2h1.2v1.2h-1.2zM477.3 164.3h1.2v1.2h-1.2zM491.4 185.9h1.2v1.2h-1.2zM491.8 186.4h1.2v1.2h-1.2zM495.0 185.9h1.2v1.2h-1.2zM495.4 186.4h1.2v1.2h-1.2zM485.4 200.2h1.2v1.2h-1.2zM485.8 201.8h1.2v1.2h-1.2zM491.7 199.0h1.2v1.2h-1.2zM480.0 200.7h1.2v1.2h-1.2zM475.7 199.9h1.2v1.2h-1.2zM477.1 200.8h1.2v1.2h-1.2zM495.1 198.7h1.2v1.2h-1.2zM487.6 202.2h1.2v1.2h-1.2zM479.1 200.1h1.2v1.2h-1.2zM481.4 200.6h1.2v1.2h-1.2zM479.0 201.8h1.2v1.2h-1.2zM486.9 198.6h1.2v1.2h-1.2zM486.0 199.6h1.2v1.2h-1.2zM484.7 199.0h1.2v1.2h-1.2zM488.9 200.2h1.2v1.2h-1.2zM488.0 200.5h1.2v1.2h-1.2zM487.8 198.5h1.2v1.2h-1.2zM487.7 198.2h1.2v1.2h-1.2zM487.4 200.2h1.2v1.2h-1.2zM477.6 201.7h1.2v1.2h-1.2zM487.4 199.1h1.2v1.2h-1.2zM476.4 198.6h1.2v1.2h-1.2zM477.2 202.3h1.2v1.2h-1.2zM482.5 200.9h1.2v1.2h-1.2zM476.2 199.8h1.2v1.2h-1.2zM494.0 200.5h1.2v1.2h-1.2zM478.1 201.2h1.2v1.2h-1.2zM487.9 199.0h1.2v1.2h-1.2zM491.2 200.2h1.2v1.2h-1.2z" fill="#e4559e" opacity="0.92"/>
<path d="M463.2 180.9h1.2v1.2h-1.2zM463.6 180.4h1.2v1.2h-1.2zM472.8 180.9h1.2v1.2h-1.2zM473.2 180.4h1.2v1.2h-1.2zM477.9 180.9h1.2v1.2h-1.2zM478.3 180.4h1.2v1.2h-1.2zM482.7 180.9h1.2v1.2h-1.2zM483.1 180.4h1.2v1.2h-1.2zM462.8 185.9h1.2v1.2h-1.2zM463.2 186.4h1.2v1.2h-1.2zM489.4 200.9h1.2v1.2h-1.2zM485.1 199.9h1.2v1.2h-1.2zM483.3 199.6h1.2v1.2h-1.2zM487.2 200.0h1.2v1.2h-1.2zM493.1 199.3h1.2v1.2h-1.2zM487.8 199.0h1.2v1.2h-1.2zM485.7 198.3h1.2v1.2h-1.2zM492.9 199.2h1.2v1.2h-1.2zM486.4 200.1h1.2v1.2h-1.2zM493.2 199.8h1.2v1.2h-1.2zM488.0 199.2h1.2v1.2h-1.2zM486.5 200.4h1.2v1.2h-1.2zM479.7 200.5h1.2v1.2h-1.2zM481.9 199.2h1.2v1.2h-1.2zM482.0 200.8h1.2v1.2h-1.2zM486.4 199.3h1.2v1.2h-1.2zM487.1 201.4h1.2v1.2h-1.2zM492.3 200.5h1.2v1.2h-1.2zM482.1 199.9h1.2v1.2h-1.2zM488.6 199.1h1.2v1.2h-1.2zM489.4 200.4h1.2v1.2h-1.2zM489.0 200.9h1.2v1.2h-1.2zM486.0 201.2h1.2v1.2h-1.2zM479.5 200.1h1.2v1.2h-1.2zM477.8 201.9h1.2v1.2h-1.2zM475.8 201.2h1.2v1.2h-1.2zM486.8 200.9h1.2v1.2h-1.2zM489.1 199.9h1.2v1.2h-1.2zM493.2 200.0h1.2v1.2h-1.2zM486.2 199.5h1.2v1.2h-1.2zM476.9 200.5h1.2v1.2h-1.2zM476.2 199.9h1.2v1.2h-1.2zM493.7 199.5h1.2v1.2h-1.2zM464.6 195.4h1.2v1.2h-1.2zM462.1 196.8h1.2v1.2h-1.2zM463.2 205.5h1.2v1.2h-1.2zM464.4 196.9h1.2v1.2h-1.2zM464.1 207.2h1.2v1.2h-1.2zM465.0 209.8h1.2v1.2h-1.2zM463.9 206.5h1.2v1.2h-1.2z" fill="#a23864" opacity="0.92"/>
<path d="M487.5 180.9h1.2v1.2h-1.2zM487.9 180.4h1.2v1.2h-1.2zM482.3 185.9h1.2v1.2h-1.2zM482.7 186.4h1.2v1.2h-1.2zM478.0 198.1h1.2v1.2h-1.2zM478.5 201.2h1.2v1.2h-1.2zM495.2 200.0h1.2v1.2h-1.2zM493.6 200.8h1.2v1.2h-1.2zM482.1 200.9h1.2v1.2h-1.2zM482.3 201.3h1.2v1.2h-1.2zM480.4 199.8h1.2v1.2h-1.2zM476.4 199.4h1.2v1.2h-1.2zM485.1 199.7h1.2v1.2h-1.2zM490.7 200.1h1.2v1.2h-1.2zM479.1 198.7h1.2v1.2h-1.2zM491.2 200.4h1.2v1.2h-1.2zM491.8 202.5h1.2v1.2h-1.2zM483.2 199.1h1.2v1.2h-1.2zM481.3 200.2h1.2v1.2h-1.2zM479.8 198.6h1.2v1.2h-1.2zM483.2 201.1h1.2v1.2h-1.2zM462.8 201.8h1.2v1.2h-1.2zM461.9 201.4h1.2v1.2h-1.2zM463.5 200.2h1.2v1.2h-1.2z" fill="#4f8f5c" opacity="0.92"/>
<ellipse cx="477" cy="170" rx="17" ry="4.8" fill="url(#gI2)"/>
<ellipse cx="486" cy="171" rx="10" ry="6.5" fill="url(#gI1)"/>
<line x1="459.9" y1="160.5" x2="459.9" y2="217.2" stroke="#000" stroke-width="1.3"/>
<line x1="459.29999999999995" y1="216.7" x2="497.5" y2="216.7" stroke="#000" stroke-width="1.3"/>
<line x1="467.59999999999997" y1="216.7" x2="467.59999999999997" y2="219.2" stroke="#000" stroke-width="0.8"/>
<text x="467.59999999999997" y="228.2" font-size="7.2" fill="#111" stroke="#111" stroke-width="0.14" text-anchor="middle" font-weight="normal" font-style="normal">0</text>
<line x1="475.54999999999995" y1="216.7" x2="475.54999999999995" y2="219.2" stroke="#000" stroke-width="0.8"/>
<text x="475.54999999999995" y="228.2" font-size="7.2" fill="#111" stroke="#111" stroke-width="0.14" text-anchor="middle" font-weight="normal" font-style="normal">1</text>
<line x1="483.49999999999994" y1="216.7" x2="483.49999999999994" y2="219.2" stroke="#000" stroke-width="0.8"/>
<text x="483.49999999999994" y="228.2" font-size="7.2" fill="#111" stroke="#111" stroke-width="0.14" text-anchor="middle" font-weight="normal" font-style="normal">2</text>
<line x1="491.45" y1="216.7" x2="491.45" y2="219.2" stroke="#000" stroke-width="0.8"/>
<text x="491.45" y="228.2" font-size="7.2" fill="#111" stroke="#111" stroke-width="0.14" text-anchor="middle" font-weight="normal" font-style="normal">3</text>
<path d="M469.4 149.20000000000002 L472.59999999999997 152.4 L469.4 155.6 L466.2 152.4 Z" fill="#e97bb2"/>
<text x="475.79999999999995" y="155.0" font-size="7.4" fill="#eb98c4" stroke="#eb98c4" stroke-width="0.14" text-anchor="start" font-weight="normal" font-style="normal" textLength="8.5" lengthAdjust="spacingAndGlyphs">IAC</text>
<text x="317.9" y="264.9" font-size="11.5" fill="#000" stroke="#000" stroke-width="0.45" text-anchor="start" font-weight="bold" font-style="normal" textLength="6.6" lengthAdjust="spacingAndGlyphs">E</text>
<path d="M385 274.5h1M340 275.5h1M344 275.5h1M381 275.5h1M325 276.5h1M346 276.5h1M334 278.5h1M384 278.5h1M350 279.5h1M351 281.5h1M331 284.5h1M385 285.5h1M342 286.5h1M380 286.5h1M385 286.5h2M354 287.5h1M368 288.5h1M323 289.5h1M352 289.5h1M364 290.5h2M364 291.5h2M368 292.5h1M343 293.5h1M343 294.5h1M382 294.5h1M324 296.5h1M328 296.5h1M323 297.5h1M351 297.5h1M338 300.5h2M357 300.5h1M327 301.5h1M338 301.5h1M381 301.5h1M327 302.5h2M348 303.5h1M336 304.5h1M348 304.5h1M347 305.5h2M355 305.5h1M347 306.5h1M344 307.5h1M351 307.5h2M331 309.5h1M380 311.5h1M332 313.5h3M321 314.5h1M323 316.5h1M334 316.5h1M332 318.5h1M355 318.5h1M382 319.5h1M332 320.5h1M355 321.5h1M322 324.5h1M331 324.5h1M381 325.5h1M380 326.5h3M353 335.5h1M327 337.5h2M347 338.5h1M324 339.5h1M325 340.5h1M365 341.5h1M348 342.5h1M363 342.5h1M323 343.5h1" stroke="#3b78bb" stroke-width="1"/>
<path d="M332 274.5h1M353 274.5h1M384 274.5h1M331 275.5h2M341 275.5h1M366 275.5h2M385 275.5h2M340 276.5h1M347 276.5h1M381 276.5h1M339 277.5h1M347 277.5h1M384 277.5h2M343 278.5h2M347 278.5h1M357 278.5h1M385 278.5h1M331 279.5h1M334 279.5h1M343 279.5h1M349 279.5h1M335 280.5h1M351 280.5h1M367 280.5h1M330 281.5h1M333 281.5h1M337 281.5h1M367 281.5h1M336 282.5h2M380 282.5h1M336 283.5h1M349 283.5h1M355 283.5h1M362 283.5h1M380 283.5h2M332 284.5h1M337 284.5h2M345 284.5h1M355 284.5h1M378 284.5h1M338 285.5h1M342 285.5h3M380 285.5h1M386 285.5h1M341 286.5h1M354 286.5h1M364 286.5h1M379 286.5h1M381 286.5h1M333 287.5h1M342 287.5h1M357 287.5h1M380 287.5h1M338 288.5h2M345 288.5h1M349 288.5h1M352 288.5h4M357 288.5h1M339 289.5h1M349 289.5h1M353 289.5h2M323 290.5h1M352 290.5h1M363 290.5h1M379 290.5h1M322 291.5h1M326 291.5h1M329 291.5h1M336 291.5h2M381 291.5h1M386 291.5h1M367 292.5h1M386 292.5h1M322 293.5h1M332 293.5h1M367 293.5h2M380 293.5h1M382 293.5h1M342 294.5h1M368 294.5h1M381 294.5h1M383 294.5h1M325 295.5h1M380 295.5h2M323 296.5h1M327 296.5h1M346 296.5h2M350 296.5h2M379 296.5h1M324 297.5h1M327 297.5h2M350 297.5h1M357 297.5h2M379 297.5h1M384 297.5h1M325 298.5h1M329 298.5h1M331 298.5h1M359 298.5h1M337 299.5h1M356 299.5h1M323 300.5h1M326 300.5h1M333 300.5h1M349 300.5h1M365 300.5h1M323 301.5h2M328 301.5h1M341 301.5h1M351 301.5h1M357 301.5h1M362 301.5h1M365 301.5h1M324 302.5h1M326 302.5h1M333 302.5h1M383 302.5h1M329 303.5h1M354 303.5h1M346 304.5h2M354 304.5h1M358 304.5h1M322 305.5h1M345 305.5h2M349 305.5h1M384 305.5h1M321 306.5h1M345 306.5h2M351 306.5h2M385 306.5h1M326 307.5h1M340 307.5h1M347 307.5h1M385 307.5h1M325 308.5h3M336 308.5h1M350 308.5h1M355 308.5h1M357 308.5h2M361 308.5h2M385 308.5h2M326 309.5h2M332 309.5h1M335 309.5h1M348 309.5h1M355 309.5h1M357 309.5h1M361 309.5h2M326 310.5h1M329 310.5h1M331 310.5h1M347 310.5h2M328 311.5h1M349 311.5h1M379 311.5h1M382 311.5h1M332 312.5h2M383 312.5h1M329 313.5h2M363 313.5h1M330 314.5h3M334 314.5h1M363 314.5h1M335 315.5h1M379 315.5h1M381 315.5h1M385 315.5h1M324 316.5h1M336 316.5h2M350 316.5h1M364 316.5h1M379 316.5h1M385 316.5h2M334 318.5h1M342 318.5h1M356 318.5h1M362 318.5h1M382 318.5h1M333 319.5h2M342 319.5h3M356 319.5h1M361 319.5h1M381 319.5h1M343 320.5h1M355 320.5h3M363 320.5h1M365 320.5h1M327 321.5h1M332 321.5h1M338 321.5h1M351 321.5h1M356 321.5h1M358 321.5h1M380 321.5h1M321 322.5h2M353 322.5h1M355 322.5h2M380 322.5h1M386 322.5h1M321 323.5h3M350 323.5h1M360 323.5h2M380 323.5h3M386 323.5h1M323 324.5h1M332 324.5h1M338 324.5h1M381 324.5h1M353 325.5h1M382 325.5h1M373 326.5h1M369 327.5h1M382 327.5h1M386 328.5h1M375 329.5h1M380 329.5h1M373 330.5h1M358 334.5h1M381 334.5h1M352 335.5h1M359 335.5h1M363 335.5h1M323 336.5h2M330 336.5h1M334 336.5h2M348 336.5h1M352 336.5h2M358 336.5h1M372 336.5h1M378 336.5h2M326 337.5h1M330 337.5h1M333 337.5h1M336 337.5h1M338 337.5h1M347 337.5h1M349 337.5h1M355 337.5h2M362 337.5h1M371 337.5h1M383 337.5h1M324 338.5h2M328 338.5h1M346 338.5h1M348 338.5h2M372 338.5h1M383 338.5h1M345 339.5h1M347 339.5h1M367 339.5h1M369 339.5h1M372 339.5h1M378 339.5h1M385 339.5h1M327 340.5h2M345 340.5h2M353 340.5h3M371 340.5h1M381 340.5h1M386 340.5h1M333 341.5h2M349 341.5h1M354 341.5h2M366 341.5h1M377 341.5h1M335 342.5h1M368 342.5h1M371 342.5h1M335 343.5h1M337 343.5h2M348 343.5h1" stroke="#4a84c3" stroke-width="1"/>
<path d="M325 274.5h1M329 274.5h1M331 274.5h1M334 274.5h1M339 274.5h3M352 274.5h1M354 274.5h3M359 274.5h3M365 274.5h4M380 274.5h1M382 274.5h2M386 274.5h1M325 275.5h1M329 275.5h1M339 275.5h1M343 275.5h1M345 275.5h1M349 275.5h1M354 275.5h1M360 275.5h1M364 275.5h2M368 275.5h1M380 275.5h1M384 275.5h1M324 276.5h1M331 276.5h1M341 276.5h1M363 276.5h1M366 276.5h3M380 276.5h1M386 276.5h1M325 277.5h3M332 277.5h2M335 277.5h1M340 277.5h1M344 277.5h3M351 277.5h2M356 277.5h2M363 277.5h1M381 277.5h3M327 278.5h2M331 278.5h1M333 278.5h1M335 278.5h1M339 278.5h1M349 278.5h2M352 278.5h1M358 278.5h1M360 278.5h1M363 278.5h1M383 278.5h1M329 279.5h2M335 279.5h1M339 279.5h2M344 279.5h1M354 279.5h1M357 279.5h2M360 279.5h2M367 279.5h2M378 279.5h1M381 279.5h1M328 280.5h5M338 280.5h2M346 280.5h2M350 280.5h1M352 280.5h1M358 280.5h1M360 280.5h2M366 280.5h1M378 280.5h1M381 280.5h1M329 281.5h1M332 281.5h1M334 281.5h2M340 281.5h1M346 281.5h1M350 281.5h1M352 281.5h1M358 281.5h1M361 281.5h2M366 281.5h1M378 281.5h3M384 281.5h2M330 282.5h1M344 282.5h1M349 282.5h1M354 282.5h1M357 282.5h2M360 282.5h2M365 282.5h3M378 282.5h2M331 283.5h1M334 283.5h2M337 283.5h1M344 283.5h1M346 283.5h2M356 283.5h1M378 283.5h2M324 284.5h1M335 284.5h2M339 284.5h1M341 284.5h2M344 284.5h1M348 284.5h3M357 284.5h2M362 284.5h2M379 284.5h1M381 284.5h1M385 284.5h2M328 285.5h3M339 285.5h3M345 285.5h1M350 285.5h1M357 285.5h1M359 285.5h1M365 285.5h4M378 285.5h2M381 285.5h1M384 285.5h1M327 286.5h3M336 286.5h1M339 286.5h1M343 286.5h1M350 286.5h1M357 286.5h2M367 286.5h2M382 286.5h1M384 286.5h1M323 287.5h1M325 287.5h2M331 287.5h1M337 287.5h3M341 287.5h1M349 287.5h1M353 287.5h1M355 287.5h1M364 287.5h2M367 287.5h2M379 287.5h1M386 287.5h1M322 288.5h1M331 288.5h1M336 288.5h2M340 288.5h1M346 288.5h1M348 288.5h1M356 288.5h1M364 288.5h4M379 288.5h1M383 288.5h1M385 288.5h1M324 289.5h1M335 289.5h2M340 289.5h1M351 289.5h1M355 289.5h1M363 289.5h6M322 290.5h1M330 290.5h1M336 290.5h2M344 290.5h1M354 290.5h1M360 290.5h1M366 290.5h1M378 290.5h1M380 290.5h1M382 290.5h1M328 291.5h1M330 291.5h2M338 291.5h1M341 291.5h1M351 291.5h2M356 291.5h1M363 291.5h1M368 291.5h1M380 291.5h1M321 292.5h1M328 292.5h1M332 292.5h2M335 292.5h4M343 292.5h1M346 292.5h1M361 292.5h1M363 292.5h4M380 292.5h1M385 292.5h1M321 293.5h1M326 293.5h1M333 293.5h3M337 293.5h4M344 293.5h2M358 293.5h4M366 293.5h1M381 293.5h1M386 293.5h1M332 294.5h1M334 294.5h2M339 294.5h1M344 294.5h1M351 294.5h1M359 294.5h1M366 294.5h2M324 295.5h1M328 295.5h1M333 295.5h1M337 295.5h1M342 295.5h1M345 295.5h3M364 295.5h2M368 295.5h1M382 295.5h1M384 295.5h1M325 296.5h1M329 296.5h2M339 296.5h1M343 296.5h1M345 296.5h1M354 296.5h4M361 296.5h1M364 296.5h1M366 296.5h1M380 296.5h2M383 296.5h2M330 297.5h1M334 297.5h1M338 297.5h1M345 297.5h1M355 297.5h1M359 297.5h3M363 297.5h1M378 297.5h1M324 298.5h1M327 298.5h2M337 298.5h2M345 298.5h1M354 298.5h2M357 298.5h2M360 298.5h1M363 298.5h2M378 298.5h1M385 298.5h1M324 299.5h2M329 299.5h1M332 299.5h1M338 299.5h2M344 299.5h1M354 299.5h2M363 299.5h1M385 299.5h1M324 300.5h2M337 300.5h1M341 300.5h1M350 300.5h1M354 300.5h3M362 300.5h1M366 300.5h1M374 300.5h1M381 300.5h1M321 301.5h2M325 301.5h2M332 301.5h2M339 301.5h1M347 301.5h2M352 301.5h1M361 301.5h1M364 301.5h1M382 301.5h3M323 302.5h1M332 302.5h1M335 302.5h1M341 302.5h1M344 302.5h1M347 302.5h2M350 302.5h1M352 302.5h2M358 302.5h1M362 302.5h1M365 302.5h1M367 302.5h1M381 302.5h2M324 303.5h5M332 303.5h2M337 303.5h1M342 303.5h1M346 303.5h2M349 303.5h1M353 303.5h1M366 303.5h3M383 303.5h1M322 304.5h3M335 304.5h1M342 304.5h1M345 304.5h1M349 304.5h1M357 304.5h1M359 304.5h6M383 304.5h1M321 305.5h1M335 305.5h2M344 305.5h1M350 305.5h2M357 305.5h3M362 305.5h5M368 305.5h1M382 305.5h1M344 306.5h1M348 306.5h1M353 306.5h1M355 306.5h2M365 306.5h1M384 306.5h1M327 307.5h1M339 307.5h1M345 307.5h2M349 307.5h1M353 307.5h2M362 307.5h1M365 307.5h1M380 307.5h1M383 307.5h2M386 307.5h1M323 308.5h1M331 308.5h1M333 308.5h1M335 308.5h1M337 308.5h1M349 308.5h1M351 308.5h2M354 308.5h1M356 308.5h1M372 308.5h1M379 308.5h1M383 308.5h1M323 309.5h3M334 309.5h1M336 309.5h1M356 309.5h1M378 309.5h1M382 309.5h1M385 309.5h1M327 310.5h2M330 310.5h1M337 310.5h2M361 310.5h2M364 310.5h1M382 310.5h1M385 310.5h2M321 311.5h1M329 311.5h2M336 311.5h3M340 311.5h1M348 311.5h1M350 311.5h1M352 311.5h1M356 311.5h3M363 311.5h1M381 311.5h1M383 311.5h1M321 312.5h3M327 312.5h2M334 312.5h1M342 312.5h1M346 312.5h1M350 312.5h1M352 312.5h1M357 312.5h1M363 312.5h1M380 312.5h3M321 313.5h1M323 313.5h2M327 313.5h1M331 313.5h1M340 313.5h1M342 313.5h2M347 313.5h1M350 313.5h1M358 313.5h1M362 313.5h1M364 313.5h1M380 313.5h2M383 313.5h1M385 313.5h2M322 314.5h1M325 314.5h1M333 314.5h1M340 314.5h1M343 314.5h1M359 314.5h1M364 314.5h2M380 314.5h1M382 314.5h3M386 314.5h1M321 315.5h2M324 315.5h3M334 315.5h1M336 315.5h1M340 315.5h3M346 315.5h1M350 315.5h1M363 315.5h1M365 315.5h1M378 315.5h1M380 315.5h1M382 315.5h1M384 315.5h1M386 315.5h1M321 316.5h2M325 316.5h1M330 316.5h2M335 316.5h1M338 316.5h3M351 316.5h1M361 316.5h2M380 316.5h3M321 317.5h2M337 317.5h1M342 317.5h1M344 317.5h1M348 317.5h1M353 317.5h1M359 317.5h1M362 317.5h2M385 317.5h1M331 318.5h1M336 318.5h1M343 318.5h2M348 318.5h1M354 318.5h1M361 318.5h1M378 318.5h1M383 318.5h1M386 318.5h1M321 319.5h1M332 319.5h1M335 319.5h1M337 319.5h1M339 319.5h1M345 319.5h1M353 319.5h1M355 319.5h1M357 319.5h1M363 319.5h1M365 319.5h1M374 319.5h3M328 320.5h1M334 320.5h6M342 320.5h1M344 320.5h1M350 320.5h2M366 320.5h1M378 320.5h4M323 321.5h1M331 321.5h1M335 321.5h3M350 321.5h1M352 321.5h3M357 321.5h1M363 321.5h1M365 321.5h3M379 321.5h1M323 322.5h1M330 322.5h2M334 322.5h2M347 322.5h1M349 322.5h3M354 322.5h1M360 322.5h2M381 322.5h2M327 323.5h1M329 323.5h5M335 323.5h1M341 323.5h2M357 323.5h2M362 323.5h1M364 323.5h2M325 324.5h2M329 324.5h1M337 324.5h1M342 324.5h1M351 324.5h3M360 324.5h5M380 324.5h1M386 324.5h1M373 325.5h1M380 325.5h1M383 325.5h2M369 326.5h1M377 326.5h1M383 326.5h3M365 327.5h1M370 327.5h1M380 327.5h2M386 327.5h1M369 328.5h2M381 328.5h1M385 328.5h1M351 329.5h1M384 329.5h1M370 330.5h1M374 330.5h1M376 330.5h1M380 330.5h1M357 331.5h1M373 331.5h1M379 331.5h2M372 332.5h3M379 332.5h1M383 332.5h1M378 333.5h1M322 334.5h2M326 334.5h1M328 334.5h1M337 334.5h2M348 334.5h1M351 334.5h1M353 334.5h1M359 334.5h1M363 334.5h1M366 334.5h2M321 335.5h3M325 335.5h2M329 335.5h1M334 335.5h1M347 335.5h2M354 335.5h2M358 335.5h1M367 335.5h1M371 335.5h1M378 335.5h2M321 336.5h2M325 336.5h1M329 336.5h1M333 336.5h1M336 336.5h4M349 336.5h2M354 336.5h2M357 336.5h1M359 336.5h1M362 336.5h2M371 336.5h1M377 336.5h1M380 336.5h1M325 337.5h1M329 337.5h1M331 337.5h1M335 337.5h1M337 337.5h1M348 337.5h1M352 337.5h1M354 337.5h1M357 337.5h2M363 337.5h1M366 337.5h1M372 337.5h1M377 337.5h1M382 337.5h1M385 337.5h1M321 338.5h1M327 338.5h1M329 338.5h2M336 338.5h1M338 338.5h1M343 338.5h1M345 338.5h1M352 338.5h1M359 338.5h1M364 338.5h1M371 338.5h1M375 338.5h1M377 338.5h1M382 338.5h1M384 338.5h1M386 338.5h1M322 339.5h2M325 339.5h1M327 339.5h2M333 339.5h1M336 339.5h1M341 339.5h1M344 339.5h1M346 339.5h1M348 339.5h1M352 339.5h3M359 339.5h2M365 339.5h2M381 339.5h2M384 339.5h1M386 339.5h1M324 340.5h1M326 340.5h1M330 340.5h1M333 340.5h3M341 340.5h1M344 340.5h1M347 340.5h4M352 340.5h1M359 340.5h1M361 340.5h2M366 340.5h3M370 340.5h1M372 340.5h1M374 340.5h1M382 340.5h1M384 340.5h1M324 341.5h5M330 341.5h1M332 341.5h1M343 341.5h2M347 341.5h2M350 341.5h1M353 341.5h1M361 341.5h1M364 341.5h1M367 341.5h2M371 341.5h2M374 341.5h3M380 341.5h2M323 342.5h1M325 342.5h1M329 342.5h2M334 342.5h1M338 342.5h3M343 342.5h1M349 342.5h3M354 342.5h1M364 342.5h4M370 342.5h1M372 342.5h1M376 342.5h1M384 342.5h1M324 343.5h1M329 343.5h1M336 343.5h1M339 343.5h1M341 343.5h3M345 343.5h1M353 343.5h1M365 343.5h2M386 343.5h1" stroke="#5890ca" stroke-width="1"/>
<path d="M322 274.5h3M326 274.5h1M330 274.5h1M333 274.5h1M335 274.5h1M338 274.5h1M343 274.5h1M345 274.5h1M350 274.5h2M357 274.5h2M381 274.5h1M321 275.5h1M323 275.5h1M328 275.5h1M330 275.5h1M333 275.5h1M337 275.5h2M346 275.5h3M350 275.5h1M352 275.5h2M355 275.5h2M358 275.5h1M361 275.5h3M382 275.5h2M321 276.5h2M326 276.5h5M332 276.5h2M337 276.5h1M339 276.5h1M342 276.5h4M348 276.5h1M351 276.5h2M354 276.5h3M362 276.5h1M364 276.5h1M383 276.5h1M385 276.5h1M330 277.5h1M334 277.5h1M336 277.5h1M338 277.5h1M343 277.5h1M350 277.5h1M364 277.5h2M367 277.5h1M386 277.5h1M321 278.5h1M329 278.5h2M332 278.5h1M340 278.5h1M345 278.5h2M348 278.5h1M351 278.5h1M353 278.5h1M355 278.5h1M361 278.5h2M364 278.5h2M381 278.5h2M386 278.5h1M321 279.5h1M328 279.5h1M332 279.5h2M336 279.5h1M338 279.5h1M346 279.5h3M351 279.5h2M359 279.5h1M362 279.5h2M366 279.5h1M380 279.5h1M383 279.5h3M325 280.5h3M333 280.5h2M336 280.5h2M340 280.5h2M343 280.5h3M353 280.5h2M357 280.5h1M362 280.5h2M368 280.5h1M379 280.5h2M383 280.5h1M386 280.5h1M326 281.5h3M331 281.5h1M336 281.5h1M338 281.5h1M341 281.5h1M343 281.5h1M347 281.5h1M349 281.5h1M354 281.5h1M357 281.5h1M360 281.5h1M363 281.5h1M368 281.5h1M381 281.5h3M321 282.5h1M327 282.5h2M331 282.5h4M338 282.5h2M341 282.5h1M343 282.5h1M346 282.5h3M350 282.5h4M356 282.5h1M359 282.5h1M362 282.5h1M381 282.5h2M384 282.5h2M324 283.5h1M327 283.5h1M332 283.5h1M338 283.5h4M343 283.5h1M345 283.5h1M348 283.5h1M350 283.5h1M352 283.5h1M354 283.5h1M357 283.5h3M361 283.5h1M363 283.5h1M366 283.5h1M368 283.5h1M384 283.5h1M325 284.5h1M328 284.5h3M340 284.5h1M343 284.5h1M347 284.5h1M352 284.5h1M354 284.5h1M356 284.5h1M359 284.5h1M367 284.5h2M380 284.5h1M382 284.5h2M323 285.5h1M331 285.5h2M335 285.5h3M346 285.5h1M348 285.5h2M351 285.5h1M354 285.5h3M358 285.5h1M363 285.5h2M382 285.5h2M323 286.5h1M325 286.5h2M331 286.5h1M333 286.5h3M337 286.5h1M344 286.5h3M351 286.5h1M353 286.5h1M355 286.5h1M359 286.5h2M365 286.5h1M378 286.5h1M383 286.5h1M321 287.5h2M328 287.5h2M332 287.5h1M336 287.5h1M343 287.5h3M347 287.5h2M350 287.5h2M356 287.5h1M358 287.5h1M360 287.5h1M366 287.5h1M378 287.5h1M381 287.5h1M384 287.5h2M323 288.5h3M330 288.5h1M332 288.5h1M335 288.5h1M341 288.5h4M347 288.5h1M350 288.5h2M358 288.5h3M362 288.5h2M378 288.5h1M380 288.5h1M384 288.5h1M386 288.5h1M321 289.5h2M330 289.5h5M337 289.5h2M341 289.5h2M344 289.5h2M350 289.5h1M356 289.5h4M361 289.5h2M378 289.5h4M383 289.5h1M321 290.5h1M324 290.5h1M326 290.5h4M331 290.5h1M333 290.5h3M339 290.5h5M345 290.5h1M351 290.5h1M355 290.5h1M368 290.5h1M381 290.5h1M321 291.5h1M327 291.5h1M340 291.5h1M342 291.5h2M345 291.5h1M347 291.5h1M349 291.5h2M355 291.5h1M358 291.5h1M362 291.5h1M367 291.5h1M378 291.5h2M382 291.5h2M322 292.5h1M325 292.5h3M329 292.5h1M331 292.5h1M334 292.5h1M339 292.5h4M349 292.5h5M355 292.5h3M359 292.5h2M362 292.5h1M382 292.5h2M324 293.5h1M336 293.5h1M342 293.5h1M349 293.5h4M362 293.5h4M383 293.5h1M385 293.5h1M321 294.5h5M327 294.5h1M333 294.5h1M338 294.5h1M345 294.5h4M352 294.5h1M356 294.5h1M360 294.5h2M365 294.5h1M373 294.5h2M380 294.5h1M384 294.5h2M327 295.5h1M330 295.5h1M339 295.5h2M348 295.5h1M351 295.5h1M353 295.5h3M358 295.5h3M366 295.5h2M370 295.5h1M322 296.5h1M326 296.5h1M335 296.5h1M337 296.5h2M344 296.5h1M353 296.5h1M358 296.5h1M360 296.5h1M363 296.5h1M365 296.5h1M368 296.5h1M378 296.5h1M322 297.5h1M325 297.5h2M329 297.5h1M331 297.5h1M335 297.5h1M337 297.5h1M339 297.5h1M341 297.5h4M346 297.5h3M352 297.5h1M354 297.5h1M362 297.5h1M368 297.5h1M380 297.5h1M383 297.5h1M386 297.5h1M322 298.5h2M326 298.5h1M332 298.5h2M335 298.5h2M339 298.5h2M342 298.5h3M346 298.5h1M350 298.5h4M356 298.5h1M361 298.5h1M368 298.5h1M379 298.5h1M383 298.5h1M386 298.5h1M321 299.5h1M323 299.5h1M327 299.5h2M330 299.5h2M333 299.5h1M335 299.5h2M340 299.5h1M343 299.5h1M345 299.5h2M349 299.5h2M352 299.5h2M357 299.5h1M362 299.5h1M364 299.5h3M374 299.5h2M382 299.5h1M386 299.5h1M321 300.5h2M327 300.5h2M331 300.5h2M334 300.5h1M336 300.5h1M340 300.5h1M345 300.5h1M347 300.5h1M351 300.5h1M375 300.5h1M377 300.5h1M382 300.5h1M384 300.5h1M386 300.5h1M331 301.5h1M334 301.5h4M340 301.5h1M342 301.5h1M345 301.5h2M349 301.5h2M353 301.5h2M366 301.5h3M371 301.5h1M374 301.5h1M380 301.5h1M385 301.5h1M321 302.5h2M329 302.5h1M331 302.5h1M334 302.5h1M337 302.5h4M342 302.5h2M346 302.5h1M349 302.5h1M351 302.5h1M354 302.5h1M357 302.5h1M359 302.5h1M363 302.5h2M366 302.5h1M368 302.5h1M378 302.5h1M380 302.5h1M384 302.5h1M321 303.5h3M330 303.5h2M334 303.5h1M336 303.5h1M338 303.5h1M340 303.5h2M344 303.5h2M352 303.5h1M358 303.5h1M361 303.5h5M382 303.5h1M321 304.5h1M325 304.5h1M327 304.5h1M329 304.5h6M340 304.5h1M351 304.5h2M365 304.5h4M378 304.5h1M382 304.5h1M323 305.5h1M327 305.5h2M330 305.5h5M341 305.5h1M352 305.5h1M354 305.5h1M356 305.5h1M360 305.5h2M367 305.5h1M378 305.5h2M383 305.5h1M322 306.5h2M326 306.5h2M334 306.5h3M343 306.5h1M349 306.5h2M354 306.5h1M363 306.5h1M366 306.5h1M372 306.5h1M379 306.5h2M383 306.5h1M386 306.5h1M321 307.5h2M325 307.5h1M330 307.5h2M333 307.5h6M343 307.5h1M348 307.5h1M350 307.5h1M361 307.5h1M363 307.5h2M366 307.5h1M372 307.5h2M379 307.5h1M322 308.5h1M324 308.5h1M330 308.5h1M332 308.5h1M338 308.5h4M343 308.5h3M347 308.5h2M353 308.5h1M359 308.5h2M363 308.5h1M368 308.5h1M371 308.5h1M373 308.5h1M381 308.5h1M384 308.5h1M321 309.5h2M328 309.5h3M333 309.5h1M337 309.5h1M339 309.5h1M347 309.5h1M349 309.5h1M351 309.5h1M354 309.5h1M358 309.5h1M371 309.5h1M379 309.5h1M384 309.5h1M386 309.5h1M322 310.5h2M332 310.5h1M335 310.5h2M339 310.5h4M349 310.5h1M355 310.5h5M363 310.5h1M365 310.5h1M379 310.5h1M381 310.5h1M383 310.5h1M322 311.5h2M326 311.5h1M333 311.5h2M339 311.5h1M341 311.5h1M347 311.5h1M351 311.5h1M353 311.5h1M359 311.5h1M362 311.5h1M364 311.5h1M366 311.5h1M384 311.5h3M324 312.5h1M326 312.5h1M329 312.5h3M338 312.5h4M345 312.5h1M349 312.5h1M351 312.5h1M353 312.5h1M358 312.5h1M362 312.5h1M364 312.5h1M367 312.5h1M374 312.5h1M378 312.5h1M384 312.5h3M322 313.5h1M325 313.5h2M328 313.5h1M339 313.5h1M344 313.5h3M359 313.5h1M366 313.5h3M378 313.5h2M382 313.5h1M384 313.5h1M326 314.5h1M335 314.5h2M339 314.5h1M342 314.5h1M344 314.5h1M346 314.5h1M350 314.5h1M354 314.5h1M358 314.5h1M366 314.5h2M373 314.5h1M379 314.5h1M381 314.5h1M385 314.5h1M323 315.5h1M330 315.5h2M337 315.5h1M339 315.5h1M343 315.5h1M347 315.5h3M359 315.5h4M364 315.5h1M383 315.5h1M326 316.5h1M341 316.5h2M345 316.5h3M349 316.5h1M363 316.5h1M372 316.5h2M378 316.5h1M383 316.5h2M323 317.5h4M330 317.5h5M336 317.5h1M338 317.5h2M343 317.5h1M350 317.5h2M354 317.5h3M361 317.5h1M367 317.5h3M372 317.5h1M378 317.5h1M380 317.5h5M386 317.5h1M321 318.5h1M330 318.5h1M333 318.5h1M338 318.5h3M347 318.5h1M349 318.5h1M351 318.5h3M359 318.5h1M363 318.5h1M366 318.5h2M375 318.5h2M379 318.5h1M381 318.5h1M329 319.5h1M338 319.5h1M340 319.5h2M347 319.5h2M350 319.5h3M354 319.5h1M360 319.5h1M362 319.5h1M364 319.5h1M366 319.5h1M378 319.5h1M380 319.5h1M323 320.5h1M327 320.5h1M329 320.5h1M331 320.5h1M333 320.5h1M341 320.5h1M345 320.5h1M347 320.5h1M354 320.5h1M358 320.5h2M361 320.5h2M364 320.5h1M382 320.5h2M328 321.5h1M333 321.5h1M339 321.5h1M343 321.5h1M345 321.5h1M347 321.5h2M360 321.5h2M364 321.5h1M378 321.5h1M381 321.5h1M385 321.5h2M324 322.5h1M327 322.5h1M329 322.5h1M332 322.5h2M336 322.5h1M340 322.5h3M344 322.5h1M348 322.5h1M352 322.5h1M357 322.5h2M362 322.5h4M367 322.5h1M378 322.5h2M383 322.5h1M385 322.5h1M326 323.5h1M328 323.5h1M334 323.5h1M336 323.5h1M338 323.5h1M340 323.5h1M344 323.5h4M351 323.5h1M353 323.5h1M356 323.5h1M359 323.5h1M363 323.5h1M366 323.5h2M379 323.5h1M385 323.5h1M321 324.5h1M324 324.5h1M327 324.5h2M330 324.5h1M334 324.5h1M339 324.5h1M341 324.5h1M345 324.5h1M347 324.5h1M349 324.5h1M354 324.5h3M358 324.5h2M367 324.5h1M371 324.5h1M382 324.5h4M331 325.5h1M351 325.5h2M386 325.5h1M350 326.5h1M352 326.5h1M355 326.5h1M361 326.5h1M365 326.5h3M375 326.5h2M378 326.5h2M386 326.5h1M352 327.5h2M360 327.5h2M364 327.5h1M366 327.5h1M372 327.5h2M377 327.5h1M379 327.5h1M383 327.5h3M360 328.5h1M373 328.5h1M376 328.5h1M380 328.5h1M383 328.5h2M352 329.5h1M369 329.5h4M374 329.5h1M377 329.5h1M379 329.5h1M381 329.5h1M383 329.5h1M385 329.5h2M337 330.5h1M348 330.5h1M352 330.5h1M356 330.5h1M358 330.5h2M361 330.5h1M366 330.5h4M371 330.5h2M375 330.5h1M377 330.5h1M379 330.5h1M381 330.5h1M384 330.5h2M348 331.5h1M356 331.5h1M370 331.5h3M374 331.5h1M384 331.5h3M348 332.5h1M370 332.5h2M375 332.5h1M378 332.5h1M380 332.5h3M384 332.5h3M349 333.5h2M381 333.5h1M384 333.5h1M324 334.5h2M330 334.5h7M339 334.5h1M342 334.5h4M349 334.5h1M352 334.5h1M354 334.5h3M360 334.5h1M364 334.5h2M370 334.5h1M374 334.5h1M376 334.5h2M380 334.5h1M384 334.5h1M324 335.5h1M327 335.5h1M333 335.5h1M335 335.5h6M342 335.5h2M349 335.5h3M356 335.5h2M360 335.5h1M364 335.5h1M370 335.5h1M373 335.5h4M380 335.5h1M382 335.5h5M326 336.5h3M331 336.5h2M347 336.5h1M351 336.5h1M356 336.5h1M360 336.5h2M364 336.5h2M383 336.5h2M386 336.5h1M321 337.5h4M332 337.5h1M334 337.5h1M341 337.5h1M343 337.5h1M345 337.5h2M351 337.5h1M353 337.5h1M359 337.5h1M361 337.5h1M365 337.5h1M370 337.5h1M375 337.5h2M378 337.5h1M384 337.5h1M386 337.5h1M322 338.5h1M326 338.5h1M335 338.5h1M337 338.5h1M340 338.5h1M342 338.5h1M344 338.5h1M353 338.5h4M360 338.5h1M365 338.5h3M369 338.5h2M374 338.5h1M378 338.5h2M385 338.5h1M321 339.5h1M326 339.5h1M329 339.5h1M334 339.5h2M338 339.5h1M340 339.5h1M343 339.5h1M349 339.5h3M361 339.5h1M363 339.5h2M368 339.5h1M370 339.5h2M373 339.5h3M377 339.5h1M383 339.5h1M321 340.5h2M329 340.5h1M336 340.5h3M340 340.5h1M351 340.5h1M357 340.5h1M360 340.5h1M365 340.5h1M369 340.5h1M373 340.5h1M375 340.5h1M385 340.5h1M321 341.5h1M329 341.5h1M335 341.5h2M339 341.5h1M342 341.5h1M345 341.5h2M356 341.5h2M362 341.5h1M369 341.5h2M373 341.5h1M379 341.5h1M382 341.5h1M384 341.5h1M386 341.5h1M322 342.5h1M324 342.5h1M326 342.5h1M332 342.5h2M336 342.5h1M342 342.5h1M344 342.5h1M352 342.5h2M355 342.5h1M362 342.5h1M369 342.5h1M373 342.5h1M380 342.5h4M386 342.5h1M322 343.5h1M325 343.5h1M331 343.5h4M340 343.5h1M346 343.5h1M349 343.5h1M354 343.5h1M356 343.5h2M360 343.5h1M362 343.5h2M367 343.5h2M371 343.5h3M376 343.5h1M381 343.5h3M385 343.5h1" stroke="#669bd1" stroke-width="1"/>
<path d="M321 274.5h1M327 274.5h2M336 274.5h2M344 274.5h1M346 274.5h1M348 274.5h2M362 274.5h3M369 274.5h1M376 274.5h1M378 274.5h2M322 275.5h1M324 275.5h1M326 275.5h2M334 275.5h1M336 275.5h1M342 275.5h1M351 275.5h1M357 275.5h1M359 275.5h1M378 275.5h2M323 276.5h1M334 276.5h1M336 276.5h1M338 276.5h1M349 276.5h2M353 276.5h1M359 276.5h1M365 276.5h1M370 276.5h1M382 276.5h1M384 276.5h1M321 277.5h2M324 277.5h1M328 277.5h2M331 277.5h1M341 277.5h2M349 277.5h1M354 277.5h2M358 277.5h2M361 277.5h2M366 277.5h1M368 277.5h1M378 277.5h1M380 277.5h1M322 278.5h2M326 278.5h1M336 278.5h1M341 278.5h2M354 278.5h1M356 278.5h1M359 278.5h1M366 278.5h3M377 278.5h2M380 278.5h1M322 279.5h3M326 279.5h2M341 279.5h2M345 279.5h1M353 279.5h1M355 279.5h1M364 279.5h2M369 279.5h2M379 279.5h1M323 280.5h1M342 280.5h1M348 280.5h2M355 280.5h2M359 280.5h1M365 280.5h1M370 280.5h1M382 280.5h1M384 280.5h1M321 281.5h3M325 281.5h1M339 281.5h1M342 281.5h1M345 281.5h1M348 281.5h1M353 281.5h1M355 281.5h2M364 281.5h1M386 281.5h1M322 282.5h5M329 282.5h1M335 282.5h1M340 282.5h1M342 282.5h1M345 282.5h1M355 282.5h1M364 282.5h1M368 282.5h1M383 282.5h1M323 283.5h1M325 283.5h1M328 283.5h1M330 283.5h1M342 283.5h1M351 283.5h1M353 283.5h1M360 283.5h1M364 283.5h2M367 283.5h1M382 283.5h2M385 283.5h2M323 284.5h1M334 284.5h1M346 284.5h1M351 284.5h1M353 284.5h1M360 284.5h1M364 284.5h1M366 284.5h1M376 284.5h2M384 284.5h1M321 285.5h1M324 285.5h4M347 285.5h1M352 285.5h2M362 285.5h1M321 286.5h1M324 286.5h1M330 286.5h1M338 286.5h1M340 286.5h1M348 286.5h2M352 286.5h1M361 286.5h1M363 286.5h1M366 286.5h1M371 286.5h1M324 287.5h1M327 287.5h1M330 287.5h1M334 287.5h2M346 287.5h1M352 287.5h1M359 287.5h1M363 287.5h1M371 287.5h1M382 287.5h2M326 288.5h1M329 288.5h1M333 288.5h2M361 288.5h1M372 288.5h2M382 288.5h1M327 289.5h3M343 289.5h1M346 289.5h3M360 289.5h1M369 289.5h1M372 289.5h1M382 289.5h1M384 289.5h3M349 290.5h2M353 290.5h1M359 290.5h1M362 290.5h1M369 290.5h1M383 290.5h2M386 290.5h1M325 291.5h1M332 291.5h1M334 291.5h2M339 291.5h1M344 291.5h1M346 291.5h1M348 291.5h1M353 291.5h2M357 291.5h1M360 291.5h2M366 291.5h1M371 291.5h1M377 291.5h1M384 291.5h2M323 292.5h2M344 292.5h2M347 292.5h1M354 292.5h1M358 292.5h1M369 292.5h1M373 292.5h1M376 292.5h1M378 292.5h2M381 292.5h1M384 292.5h1M323 293.5h1M325 293.5h1M327 293.5h2M341 293.5h1M346 293.5h2M353 293.5h1M355 293.5h1M373 293.5h2M378 293.5h1M384 293.5h1M326 294.5h1M328 294.5h1M331 294.5h1M336 294.5h1M340 294.5h2M349 294.5h2M353 294.5h1M357 294.5h2M362 294.5h1M364 294.5h1M371 294.5h1M375 294.5h1M379 294.5h1M386 294.5h1M323 295.5h1M326 295.5h1M329 295.5h1M331 295.5h2M334 295.5h3M338 295.5h1M341 295.5h1M343 295.5h1M349 295.5h2M352 295.5h1M356 295.5h2M361 295.5h1M363 295.5h1M369 295.5h1M372 295.5h1M375 295.5h1M379 295.5h1M383 295.5h1M386 295.5h1M331 296.5h1M336 296.5h1M340 296.5h1M342 296.5h1M349 296.5h1M352 296.5h1M359 296.5h1M362 296.5h1M367 296.5h1M371 296.5h1M376 296.5h2M332 297.5h1M340 297.5h1M349 297.5h1M353 297.5h1M356 297.5h1M364 297.5h1M366 297.5h2M371 297.5h2M381 297.5h2M330 298.5h1M334 298.5h1M341 298.5h1M347 298.5h3M362 298.5h1M365 298.5h1M367 298.5h1M373 298.5h2M377 298.5h1M384 298.5h1M322 299.5h1M326 299.5h1M334 299.5h1M341 299.5h2M348 299.5h1M351 299.5h1M358 299.5h4M367 299.5h3M373 299.5h1M376 299.5h3M381 299.5h1M330 300.5h1M335 300.5h1M343 300.5h1M346 300.5h1M348 300.5h1M352 300.5h2M359 300.5h1M361 300.5h1M363 300.5h2M367 300.5h3M372 300.5h2M376 300.5h1M378 300.5h1M383 300.5h1M385 300.5h1M329 301.5h1M344 301.5h1M355 301.5h2M358 301.5h3M363 301.5h1M369 301.5h1M372 301.5h2M375 301.5h1M378 301.5h2M386 301.5h1M325 302.5h1M330 302.5h1M336 302.5h1M345 302.5h1M360 302.5h2M370 302.5h3M374 302.5h1M379 302.5h1M385 302.5h1M335 303.5h1M339 303.5h1M343 303.5h1M350 303.5h2M355 303.5h1M357 303.5h1M359 303.5h2M374 303.5h1M378 303.5h1M380 303.5h2M384 303.5h1M326 304.5h1M328 304.5h1M337 304.5h2M341 304.5h1M343 304.5h2M350 304.5h1M353 304.5h1M355 304.5h1M371 304.5h5M379 304.5h1M381 304.5h1M384 304.5h1M324 305.5h3M337 305.5h3M342 305.5h2M353 305.5h1M370 305.5h2M380 305.5h2M385 305.5h2M325 306.5h1M328 306.5h1M331 306.5h3M338 306.5h2M341 306.5h1M357 306.5h1M362 306.5h1M364 306.5h1M367 306.5h2M370 306.5h2M373 306.5h1M378 306.5h1M381 306.5h2M324 307.5h1M332 307.5h1M341 307.5h1M355 307.5h4M360 307.5h1M368 307.5h1M371 307.5h1M375 307.5h1M382 307.5h1M329 308.5h1M334 308.5h1M346 308.5h1M364 308.5h3M374 308.5h1M377 308.5h2M380 308.5h1M382 308.5h1M338 309.5h1M340 309.5h2M343 309.5h1M350 309.5h1M352 309.5h2M359 309.5h2M363 309.5h1M366 309.5h1M368 309.5h2M372 309.5h1M374 309.5h1M377 309.5h1M381 309.5h1M383 309.5h1M321 310.5h1M324 310.5h2M333 310.5h2M346 310.5h1M350 310.5h5M360 310.5h1M367 310.5h1M378 310.5h1M380 310.5h1M325 311.5h1M327 311.5h1M331 311.5h2M335 311.5h1M342 311.5h2M346 311.5h1M354 311.5h1M360 311.5h1M365 311.5h1M368 311.5h1M370 311.5h2M374 311.5h1M325 312.5h1M335 312.5h3M343 312.5h2M347 312.5h2M354 312.5h1M356 312.5h1M359 312.5h1M365 312.5h2M368 312.5h1M371 312.5h1M375 312.5h1M379 312.5h1M335 313.5h1M337 313.5h2M348 313.5h1M351 313.5h1M353 313.5h1M360 313.5h1M365 313.5h1M369 313.5h1M372 313.5h2M323 314.5h2M327 314.5h1M329 314.5h1M337 314.5h1M341 314.5h1M345 314.5h1M347 314.5h1M349 314.5h1M353 314.5h1M356 314.5h2M362 314.5h1M368 314.5h1M370 314.5h1M372 314.5h1M327 315.5h1M332 315.5h2M338 315.5h1M345 315.5h1M353 315.5h2M356 315.5h1M358 315.5h1M366 315.5h1M371 315.5h3M333 316.5h1M343 316.5h1M348 316.5h1M352 316.5h4M359 316.5h2M365 316.5h1M368 316.5h1M371 316.5h1M327 317.5h1M335 317.5h1M340 317.5h1M346 317.5h2M349 317.5h1M352 317.5h1M358 317.5h1M360 317.5h1M364 317.5h1M366 317.5h1M371 317.5h1M373 317.5h1M379 317.5h1M322 318.5h2M325 318.5h2M328 318.5h2M335 318.5h1M337 318.5h1M341 318.5h1M345 318.5h1M350 318.5h1M358 318.5h1M360 318.5h1M368 318.5h1M372 318.5h3M377 318.5h1M380 318.5h1M384 318.5h1M322 319.5h2M325 319.5h1M330 319.5h2M336 319.5h1M349 319.5h1M358 319.5h2M367 319.5h7M377 319.5h1M379 319.5h1M383 319.5h2M321 320.5h2M324 320.5h1M326 320.5h1M330 320.5h1M340 320.5h1M346 320.5h1M348 320.5h2M352 320.5h2M360 320.5h1M367 320.5h5M373 320.5h1M376 320.5h2M384 320.5h1M386 320.5h1M321 321.5h2M324 321.5h1M329 321.5h2M334 321.5h1M340 321.5h3M344 321.5h1M346 321.5h1M349 321.5h1M359 321.5h1M362 321.5h1M368 321.5h1M372 321.5h1M377 321.5h1M383 321.5h2M325 322.5h1M328 322.5h1M339 322.5h1M343 322.5h1M345 322.5h2M359 322.5h1M366 322.5h1M377 322.5h1M384 322.5h1M324 323.5h2M337 323.5h1M339 323.5h1M352 323.5h1M354 323.5h2M370 323.5h3M377 323.5h2M333 324.5h1M335 324.5h2M340 324.5h1M344 324.5h1M346 324.5h1M348 324.5h1M350 324.5h1M357 324.5h1M365 324.5h2M372 324.5h2M379 324.5h1M325 325.5h1M329 325.5h2M337 325.5h2M354 325.5h2M360 325.5h4M365 325.5h1M368 325.5h1M375 325.5h1M379 325.5h1M385 325.5h1M339 326.5h1M349 326.5h1M351 326.5h1M353 326.5h1M358 326.5h1M360 326.5h1M362 326.5h1M364 326.5h1M368 326.5h1M370 326.5h1M372 326.5h1M374 326.5h1M348 327.5h1M351 327.5h1M354 327.5h2M367 327.5h2M371 327.5h1M374 327.5h3M378 327.5h1M350 328.5h5M361 328.5h1M364 328.5h1M366 328.5h2M371 328.5h2M374 328.5h2M377 328.5h3M382 328.5h1M321 329.5h1M349 329.5h2M355 329.5h1M360 329.5h2M366 329.5h1M368 329.5h1M373 329.5h1M376 329.5h1M378 329.5h1M338 330.5h1M345 330.5h1M349 330.5h1M355 330.5h1M357 330.5h1M364 330.5h2M378 330.5h1M382 330.5h2M386 330.5h1M330 331.5h2M342 331.5h1M349 331.5h1M351 331.5h2M358 331.5h2M362 331.5h1M364 331.5h4M369 331.5h1M376 331.5h3M383 331.5h1M330 332.5h1M335 332.5h1M349 332.5h1M351 332.5h1M356 332.5h2M359 332.5h1M361 332.5h1M366 332.5h2M369 332.5h1M321 333.5h1M328 333.5h1M339 333.5h1M344 333.5h1M348 333.5h1M351 333.5h2M358 333.5h2M366 333.5h2M371 333.5h7M379 333.5h2M382 333.5h2M385 333.5h2M321 334.5h1M327 334.5h1M329 334.5h1M340 334.5h1M347 334.5h1M350 334.5h1M357 334.5h1M362 334.5h1M368 334.5h2M371 334.5h1M373 334.5h1M375 334.5h1M378 334.5h2M382 334.5h2M385 334.5h2M328 335.5h1M341 335.5h1M344 335.5h1M361 335.5h2M365 335.5h2M368 335.5h2M372 335.5h1M377 335.5h1M381 335.5h1M340 336.5h7M367 336.5h2M370 336.5h1M373 336.5h4M385 336.5h1M339 337.5h2M342 337.5h1M344 337.5h1M350 337.5h1M360 337.5h1M364 337.5h1M367 337.5h1M374 337.5h1M379 337.5h2M323 338.5h1M331 338.5h4M339 338.5h1M350 338.5h2M357 338.5h2M361 338.5h3M373 338.5h1M376 338.5h1M381 338.5h1M330 339.5h1M332 339.5h1M337 339.5h1M339 339.5h1M342 339.5h1M358 339.5h1M362 339.5h1M376 339.5h1M379 339.5h2M323 340.5h1M331 340.5h2M339 340.5h1M342 340.5h2M356 340.5h1M358 340.5h1M377 340.5h4M383 340.5h1M322 341.5h2M331 341.5h1M337 341.5h2M340 341.5h2M351 341.5h2M358 341.5h1M360 341.5h1M363 341.5h1M378 341.5h1M383 341.5h1M385 341.5h1M327 342.5h2M331 342.5h1M337 342.5h1M341 342.5h1M345 342.5h3M356 342.5h3M361 342.5h1M374 342.5h2M377 342.5h3M385 342.5h1M326 343.5h1M328 343.5h1M330 343.5h1M344 343.5h1M347 343.5h1M350 343.5h3M355 343.5h1M359 343.5h1M370 343.5h1M374 343.5h1M377 343.5h1M384 343.5h1" stroke="#75a6d7" stroke-width="1"/>
<path d="M342 274.5h1M347 274.5h1M370 274.5h1M375 274.5h1M335 275.5h1M369 275.5h1M374 275.5h2M335 276.5h1M357 276.5h2M360 276.5h2M371 276.5h1M374 276.5h1M376 276.5h1M378 276.5h2M323 277.5h1M337 277.5h1M348 277.5h1M353 277.5h1M377 277.5h1M324 278.5h2M338 278.5h1M370 278.5h2M375 278.5h2M337 279.5h1M356 279.5h1M371 279.5h2M377 279.5h1M382 279.5h1M386 279.5h1M322 280.5h1M324 280.5h1M364 280.5h1M369 280.5h1M371 280.5h1M373 280.5h2M377 280.5h1M385 280.5h1M324 281.5h1M344 281.5h1M359 281.5h1M365 281.5h1M373 281.5h1M363 282.5h1M326 283.5h1M329 283.5h1M333 283.5h1M369 283.5h1M375 283.5h3M322 284.5h1M326 284.5h2M333 284.5h1M361 284.5h1M365 284.5h1M369 284.5h2M375 284.5h1M322 285.5h1M333 285.5h2M360 285.5h2M369 285.5h3M375 285.5h1M377 285.5h1M322 286.5h1M332 286.5h1M347 286.5h1M356 286.5h1M362 286.5h1M370 286.5h1M372 286.5h1M375 286.5h1M340 287.5h1M361 287.5h2M372 287.5h1M321 288.5h1M327 288.5h2M370 288.5h2M381 288.5h1M325 289.5h2M370 289.5h1M325 290.5h1M332 290.5h1M338 290.5h1M347 290.5h2M356 290.5h1M358 290.5h1M361 290.5h1M367 290.5h1M370 290.5h2M376 290.5h2M385 290.5h1M323 291.5h2M333 291.5h1M359 291.5h1M369 291.5h2M372 291.5h1M376 291.5h1M330 292.5h1M348 292.5h1M372 292.5h1M374 292.5h1M329 293.5h1M331 293.5h1M348 293.5h1M354 293.5h1M356 293.5h2M369 293.5h1M371 293.5h2M375 293.5h2M329 294.5h2M337 294.5h1M354 294.5h2M363 294.5h1M369 294.5h2M372 294.5h1M321 295.5h2M344 295.5h1M362 295.5h1M373 295.5h2M376 295.5h1M378 295.5h1M385 295.5h1M321 296.5h1M332 296.5h1M334 296.5h1M341 296.5h1M348 296.5h1M372 296.5h2M375 296.5h1M382 296.5h1M385 296.5h2M321 297.5h1M333 297.5h1M336 297.5h1M365 297.5h1M373 297.5h1M376 297.5h1M385 297.5h1M321 298.5h1M366 298.5h1M371 298.5h2M375 298.5h1M380 298.5h3M347 299.5h1M370 299.5h3M379 299.5h2M383 299.5h2M329 300.5h1M342 300.5h1M344 300.5h1M358 300.5h1M360 300.5h1M370 300.5h1M380 300.5h1M330 301.5h1M343 301.5h1M370 301.5h1M376 301.5h2M355 302.5h1M369 302.5h1M373 302.5h1M375 302.5h3M386 302.5h1M369 303.5h2M372 303.5h2M376 303.5h1M379 303.5h1M385 303.5h2M339 304.5h1M356 304.5h1M369 304.5h1M376 304.5h2M380 304.5h1M385 304.5h2M329 305.5h1M340 305.5h1M369 305.5h1M372 305.5h3M329 306.5h2M337 306.5h1M340 306.5h1M342 306.5h1M358 306.5h1M360 306.5h2M369 306.5h1M374 306.5h4M323 307.5h1M328 307.5h2M359 307.5h1M367 307.5h1M369 307.5h1M374 307.5h1M376 307.5h3M381 307.5h1M321 308.5h1M328 308.5h1M342 308.5h1M367 308.5h1M369 308.5h2M375 308.5h1M342 309.5h1M345 309.5h2M364 309.5h2M367 309.5h1M370 309.5h1M373 309.5h1M375 309.5h1M380 309.5h1M343 310.5h1M345 310.5h1M366 310.5h1M368 310.5h1M370 310.5h5M384 310.5h1M324 311.5h1M345 311.5h1M355 311.5h1M361 311.5h1M367 311.5h1M372 311.5h1M375 311.5h1M378 311.5h1M355 312.5h1M360 312.5h2M369 312.5h2M373 312.5h1M376 312.5h2M336 313.5h1M341 313.5h1M349 313.5h1M352 313.5h1M354 313.5h4M361 313.5h1M370 313.5h1M374 313.5h4M328 314.5h1M338 314.5h1M348 314.5h1M351 314.5h2M360 314.5h2M371 314.5h1M378 314.5h1M329 315.5h1M344 315.5h1M351 315.5h2M355 315.5h1M368 315.5h1M370 315.5h1M377 315.5h1M327 316.5h1M329 316.5h1M332 316.5h1M344 316.5h1M356 316.5h3M366 316.5h1M369 316.5h1M328 317.5h1M341 317.5h1M345 317.5h1M365 317.5h1M374 317.5h1M377 317.5h1M324 318.5h1M327 318.5h1M346 318.5h1M357 318.5h1M364 318.5h2M369 318.5h3M385 318.5h1M324 319.5h1M326 319.5h1M328 319.5h1M346 319.5h1M386 319.5h1M325 320.5h1M372 320.5h1M374 320.5h2M385 320.5h1M325 321.5h2M369 321.5h3M373 321.5h1M376 321.5h1M382 321.5h1M326 322.5h1M337 322.5h2M372 322.5h1M374 322.5h1M376 322.5h1M343 323.5h1M348 323.5h1M368 323.5h1M373 323.5h1M375 323.5h1M383 323.5h2M343 324.5h1M370 324.5h1M374 324.5h2M322 325.5h1M324 325.5h1M326 325.5h1M332 325.5h1M339 325.5h2M342 325.5h1M349 325.5h2M356 325.5h1M358 325.5h2M364 325.5h1M366 325.5h2M372 325.5h1M374 325.5h1M377 325.5h2M324 326.5h3M328 326.5h1M330 326.5h3M334 326.5h1M337 326.5h2M340 326.5h1M343 326.5h1M345 326.5h2M348 326.5h1M354 326.5h1M356 326.5h1M359 326.5h1M363 326.5h1M371 326.5h1M321 327.5h4M335 327.5h1M345 327.5h1M350 327.5h1M356 327.5h1M359 327.5h1M362 327.5h2M321 328.5h3M331 328.5h1M339 328.5h1M346 328.5h1M348 328.5h1M355 328.5h1M359 328.5h1M365 328.5h1M368 328.5h1M322 329.5h2M330 329.5h1M332 329.5h1M336 329.5h2M343 329.5h6M354 329.5h1M367 329.5h1M382 329.5h1M321 330.5h1M326 330.5h1M329 330.5h2M332 330.5h1M336 330.5h1M344 330.5h1M346 330.5h2M351 330.5h1M353 330.5h1M360 330.5h1M362 330.5h2M327 331.5h1M329 331.5h1M337 331.5h1M339 331.5h1M343 331.5h1M345 331.5h2M350 331.5h1M353 331.5h1M355 331.5h1M360 331.5h2M363 331.5h1M381 331.5h1M321 332.5h2M327 332.5h3M331 332.5h1M345 332.5h1M350 332.5h1M352 332.5h2M355 332.5h1M358 332.5h1M360 332.5h1M364 332.5h2M368 332.5h1M376 332.5h2M326 333.5h1M329 333.5h2M342 333.5h2M353 333.5h1M356 333.5h2M360 333.5h1M363 333.5h1M365 333.5h1M369 333.5h2M341 334.5h1M346 334.5h1M361 334.5h1M372 334.5h1M330 335.5h3M346 335.5h1M366 336.5h1M369 336.5h1M381 336.5h2M369 337.5h1M373 337.5h1M381 337.5h1M341 338.5h1M368 338.5h1M380 338.5h1M331 339.5h1M355 339.5h3M363 340.5h2M376 340.5h1M321 342.5h1M360 342.5h1M321 343.5h1M327 343.5h1M358 343.5h1M364 343.5h1M369 343.5h1M375 343.5h1M379 343.5h2" stroke="#86b2dd" stroke-width="1"/>
<path d="M374 274.5h1M370 275.5h2M373 275.5h1M376 275.5h2M369 276.5h1M373 276.5h1M375 276.5h1M377 276.5h1M370 277.5h2M375 277.5h2M337 278.5h1M369 278.5h1M372 278.5h3M379 278.5h1M325 279.5h1M373 279.5h4M321 280.5h1M376 280.5h1M369 281.5h4M374 281.5h1M376 281.5h2M369 282.5h3M374 282.5h1M376 282.5h2M386 282.5h1M321 283.5h2M370 283.5h1M321 284.5h1M372 285.5h3M376 285.5h1M369 286.5h1M376 286.5h2M369 287.5h1M374 287.5h2M369 288.5h1M374 288.5h2M371 289.5h1M373 289.5h1M376 289.5h1M346 290.5h1M372 290.5h2M375 290.5h1M373 291.5h1M375 291.5h1M370 292.5h2M375 292.5h1M377 292.5h1M330 293.5h1M370 293.5h1M377 293.5h1M379 293.5h1M376 294.5h1M378 294.5h1M371 295.5h1M377 295.5h1M333 296.5h1M369 296.5h1M374 296.5h1M374 297.5h2M377 297.5h1M369 298.5h2M371 300.5h1M379 300.5h1M356 302.5h1M356 303.5h1M371 303.5h1M375 303.5h1M377 303.5h1M370 304.5h1M375 305.5h2M324 306.5h1M359 306.5h1M342 307.5h1M370 307.5h1M376 308.5h1M344 309.5h1M376 309.5h1M344 310.5h1M369 310.5h1M375 310.5h3M344 311.5h1M369 311.5h1M373 311.5h1M376 311.5h1M371 313.5h1M355 314.5h1M369 314.5h1M374 314.5h4M328 315.5h1M357 315.5h1M367 315.5h1M369 315.5h1M374 315.5h3M328 316.5h1M367 316.5h1M370 316.5h1M374 316.5h3M329 317.5h1M357 317.5h1M370 317.5h1M375 317.5h1M327 319.5h1M385 319.5h1M374 321.5h1M368 322.5h1M370 322.5h2M373 322.5h1M375 322.5h1M349 323.5h1M374 323.5h1M376 323.5h1M368 324.5h1M376 324.5h1M378 324.5h1M321 325.5h1M323 325.5h1M333 325.5h2M341 325.5h1M343 325.5h1M345 325.5h1M348 325.5h1M357 325.5h1M369 325.5h1M376 325.5h1M321 326.5h3M333 326.5h1M335 326.5h1M341 326.5h2M357 326.5h1M325 327.5h2M329 327.5h1M331 327.5h2M336 327.5h5M346 327.5h2M349 327.5h1M357 327.5h2M326 328.5h2M330 328.5h1M336 328.5h1M338 328.5h1M344 328.5h2M347 328.5h1M356 328.5h1M362 328.5h2M324 329.5h2M331 329.5h1M333 329.5h1M335 329.5h1M338 329.5h2M353 329.5h1M356 329.5h1M358 329.5h2M363 329.5h3M331 330.5h1M333 330.5h1M335 330.5h1M339 330.5h2M343 330.5h1M350 330.5h1M354 330.5h1M321 331.5h1M326 331.5h1M332 331.5h5M338 331.5h1M340 331.5h1M347 331.5h1M354 331.5h1M368 331.5h1M375 331.5h1M382 331.5h1M323 332.5h1M332 332.5h1M336 332.5h1M338 332.5h2M343 332.5h2M354 332.5h1M362 332.5h2M322 333.5h3M327 333.5h1M331 333.5h2M338 333.5h1M345 333.5h1M354 333.5h2M361 333.5h1M364 333.5h1M345 335.5h1M368 337.5h1M359 341.5h1M359 342.5h1M361 343.5h1M378 343.5h1" stroke="#99bfe4" stroke-width="1"/>
<path d="M371 274.5h3M377 274.5h1M360 277.5h1M369 277.5h1M372 277.5h3M379 277.5h1M372 280.5h1M375 280.5h1M375 281.5h1M372 282.5h2M371 283.5h1M371 284.5h2M374 284.5h1M373 286.5h1M370 287.5h1M373 287.5h1M376 287.5h1M377 288.5h1M374 289.5h2M377 289.5h1M357 290.5h1M377 294.5h1M370 296.5h1M369 297.5h2M376 298.5h1M377 305.5h1M377 311.5h1M372 312.5h1M377 316.5h1M376 317.5h1M375 321.5h1M369 322.5h1M369 323.5h1M369 324.5h1M377 324.5h1M327 325.5h2M335 325.5h2M344 325.5h1M346 325.5h1M370 325.5h2M327 326.5h1M329 326.5h1M344 326.5h1M327 327.5h2M330 327.5h1M333 327.5h2M341 327.5h2M344 327.5h1M324 328.5h2M332 328.5h4M340 328.5h2M343 328.5h1M349 328.5h1M357 328.5h2M326 329.5h1M329 329.5h1M340 329.5h1M357 329.5h1M362 329.5h1M322 330.5h1M324 330.5h2M327 330.5h2M342 330.5h1M322 331.5h1M325 331.5h1M328 331.5h1M341 331.5h1M344 331.5h1M325 332.5h2M334 332.5h1M337 332.5h1M340 332.5h1M342 332.5h1M346 332.5h2M325 333.5h1M334 333.5h4M340 333.5h1M362 333.5h1M368 333.5h1" stroke="#aecdeb" stroke-width="1"/>
<path d="M372 275.5h1M375 282.5h1M372 283.5h1M374 283.5h1M373 284.5h1M374 286.5h1M377 287.5h1M376 288.5h1M374 290.5h1M374 291.5h1M347 325.5h1M336 326.5h1M347 326.5h1M343 327.5h1M328 328.5h2M337 328.5h1M342 328.5h1M327 329.5h2M334 329.5h1M341 329.5h2M323 330.5h1M334 330.5h1M341 330.5h1M323 331.5h1M324 332.5h1M341 332.5h1M333 333.5h1M341 333.5h1" stroke="#c4dbf2" stroke-width="1"/>
<path d="M372 276.5h1M373 283.5h1M324 331.5h1M333 332.5h1M346 333.5h2" stroke="#dae8f6" stroke-width="1"/>
<line x1="321.5" y1="274.5" x2="370.5" y2="326.8" stroke="#d6e2ee" stroke-width="0.9"/>
<path d="M343 274 V269.2 H376.9 V273.2" stroke="#666" stroke-width="0.6" fill="none"/>
<path d="M372.5 273.8 V271.6 H381 V273.8 M376.9 271.6 V270.2" stroke="#666" stroke-width="0.5" fill="none"/>
<path d="M321 296.5 H316.2 V332.3 H321" stroke="#666" stroke-width="0.6" fill="none"/>
<path d="M321 329 H318.5 V339 H321 M318.5 334 H316.2" stroke="#666" stroke-width="0.5" fill="none"/>
<path d="M321.5 274 v-2.0M322.5 274 v-1.0M323.5 274 v-0.6M324.5 274 v-0.8M325.5 274 v-2.0M326.5 274 v-2.0M327.5 274 v-1.4M328.5 274 v-1.4M329.5 274 v-1.0M330.5 274 v-0.8M331.5 274 v-2.0M332.5 274 v-0.6M333.5 274 v-2.0M334.5 274 v-1.0M335.5 274 v-1.0M336.5 274 v-0.8M337.5 274 v-2.0M338.5 274 v-0.6M339.5 274 v-0.6M340.5 274 v-1.0M341.5 274 v-0.8M342.5 274 v-1.0M343.5 274 v-1.0M344.5 274 v-1.4M345.5 274 v-0.6M346.5 274 v-1.0M347.5 274 v-1.0M348.5 274 v-0.8M349.5 274 v-1.0M350.5 274 v-2.0M351.5 274 v-0.6M352.5 274 v-1.4M353.5 274 v-1.4M354.5 274 v-0.6M355.5 274 v-1.4M356.5 274 v-1.0M357.5 274 v-0.8M358.5 274 v-1.4M359.5 274 v-1.4M360.5 274 v-0.8M361.5 274 v-2.0M362.5 274 v-2.0M363.5 274 v-1.4M364.5 274 v-1.4M365.5 274 v-1.0M366.5 274 v-1.4M367.5 274 v-0.8M368.5 274 v-0.8M369.5 274 v-2.0M370.5 274 v-1.4M371.5 274 v-2.0M372.5 274 v-0.6M373.5 274 v-2.0M374.5 274 v-1.4M375.5 274 v-1.0M376.5 274 v-0.8M377.5 274 v-1.0M378.5 274 v-1.4M379.5 274 v-2.0M380.5 274 v-1.4M381.5 274 v-0.6M382.5 274 v-0.6M383.5 274 v-2.0M384.5 274 v-2.0M385.5 274 v-2.0M386.5 274 v-2.0M321 274.5 h-1.0M321 275.5 h-2.0M321 276.5 h-1.0M321 277.5 h-0.6M321 278.5 h-0.8M321 279.5 h-2.0M321 280.5 h-2.0M321 281.5 h-0.8M321 282.5 h-2.0M321 283.5 h-1.0M321 284.5 h-1.0M321 285.5 h-1.4M321 286.5 h-1.0M321 287.5 h-0.8M321 288.5 h-2.0M321 289.5 h-0.6M321 290.5 h-1.4M321 291.5 h-0.6M321 292.5 h-0.8M321 293.5 h-1.0M321 294.5 h-0.6M321 295.5 h-2.0M321 296.5 h-0.6M321 297.5 h-0.6M321 298.5 h-0.8M321 299.5 h-2.0M321 300.5 h-0.8M321 301.5 h-0.8M321 302.5 h-1.0M321 303.5 h-1.4M321 304.5 h-2.0M321 305.5 h-2.0M321 306.5 h-1.0M321 307.5 h-2.0M321 308.5 h-1.4M321 309.5 h-1.0M321 310.5 h-1.0M321 311.5 h-2.0M321 312.5 h-0.8M321 313.5 h-0.6M321 314.5 h-0.8M321 315.5 h-2.0M321 316.5 h-0.6M321 317.5 h-2.0M321 318.5 h-0.8M321 319.5 h-1.0M321 320.5 h-2.0M321 321.5 h-1.4M321 322.5 h-1.4M321 323.5 h-0.6M321 324.5 h-0.8M321 325.5 h-0.8M321 326.5 h-1.0M321 327.5 h-0.6M321 328.5 h-0.6M321 329.5 h-1.0M321 330.5 h-0.6M321 331.5 h-0.8M321 332.5 h-2.0M321 333.5 h-1.0M321 334.5 h-1.0M321 335.5 h-1.0M321 336.5 h-1.4M321 337.5 h-1.4M321 338.5 h-1.0M321 339.5 h-1.4M321 340.5 h-0.6M321 341.5 h-1.0M321 342.5 h-2.0M321 343.5 h-2.0" stroke="#555" stroke-width="0.6" opacity="0.75"/>
<rect x="370.60" y="326.80" width="1.09" height="1.13" fill="#d6d6da"/>
<rect x="371.61" y="326.80" width="1.09" height="1.13" fill="#e65a3a"/>
<rect x="372.62" y="326.80" width="1.09" height="1.13" fill="#d8322a"/>
<rect x="373.64" y="326.80" width="1.09" height="1.13" fill="#f7a263"/>
<rect x="374.65" y="326.80" width="1.09" height="1.13" fill="#fcc483"/>
<rect x="375.66" y="326.80" width="1.09" height="1.13" fill="#f6f6d2"/>
<rect x="376.68" y="326.80" width="1.09" height="1.13" fill="#ddeef8"/>
<rect x="377.69" y="326.80" width="1.09" height="1.13" fill="#edf4ea"/>
<rect x="378.70" y="326.80" width="1.09" height="1.13" fill="#edf4ea"/>
<rect x="379.71" y="326.80" width="1.09" height="1.13" fill="#edf4ea"/>
<rect x="380.73" y="326.80" width="1.09" height="1.13" fill="#ddeef8"/>
<rect x="381.74" y="326.80" width="1.09" height="1.13" fill="#fdf0b8"/>
<rect x="382.75" y="326.80" width="1.09" height="1.13" fill="#fde39e"/>
<rect x="383.76" y="326.80" width="1.09" height="1.13" fill="#fdf0b8"/>
<rect x="384.78" y="326.80" width="1.09" height="1.13" fill="#f6f6d2"/>
<rect x="385.79" y="326.80" width="1.09" height="1.13" fill="#edf4ea"/>
<rect x="370.60" y="327.85" width="1.09" height="1.13" fill="#e65a3a"/>
<rect x="371.61" y="327.85" width="1.09" height="1.13" fill="#d6d6da"/>
<rect x="372.62" y="327.85" width="1.09" height="1.13" fill="#d8322a"/>
<rect x="373.64" y="327.85" width="1.09" height="1.13" fill="#fde39e"/>
<rect x="374.65" y="327.85" width="1.09" height="1.13" fill="#fdf0b8"/>
<rect x="375.66" y="327.85" width="1.09" height="1.13" fill="#f6f6d2"/>
<rect x="376.68" y="327.85" width="1.09" height="1.13" fill="#ddeef8"/>
<rect x="377.69" y="327.85" width="1.09" height="1.13" fill="#edf4ea"/>
<rect x="378.70" y="327.85" width="1.09" height="1.13" fill="#edf4ea"/>
<rect x="379.71" y="327.85" width="1.09" height="1.13" fill="#ddeef8"/>
<rect x="380.73" y="327.85" width="1.09" height="1.13" fill="#c6e0f2"/>
<rect x="381.74" y="327.85" width="1.09" height="1.13" fill="#f6f6d2"/>
<rect x="382.75" y="327.85" width="1.09" height="1.13" fill="#edf4ea"/>
<rect x="383.76" y="327.85" width="1.09" height="1.13" fill="#edf4ea"/>
<rect x="384.78" y="327.85" width="1.09" height="1.13" fill="#edf4ea"/>
<rect x="385.79" y="327.85" width="1.09" height="1.13" fill="#edf4ea"/>
<rect x="370.60" y="328.90" width="1.09" height="1.13" fill="#d8322a"/>
<rect x="371.61" y="328.90" width="1.09" height="1.13" fill="#d8322a"/>
<rect x="372.62" y="328.90" width="1.09" height="1.13" fill="#d6d6da"/>
<rect x="373.64" y="328.90" width="1.09" height="1.13" fill="#fcc483"/>
<rect x="374.65" y="328.90" width="1.09" height="1.13" fill="#fde39e"/>
<rect x="375.66" y="328.90" width="1.09" height="1.13" fill="#edf4ea"/>
<rect x="376.68" y="328.90" width="1.09" height="1.13" fill="#ddeef8"/>
<rect x="377.69" y="328.90" width="1.09" height="1.13" fill="#edf4ea"/>
<rect x="378.70" y="328.90" width="1.09" height="1.13" fill="#f6f6d2"/>
<rect x="379.71" y="328.90" width="1.09" height="1.13" fill="#edf4ea"/>
<rect x="380.73" y="328.90" width="1.09" height="1.13" fill="#ddeef8"/>
<rect x="381.74" y="328.90" width="1.09" height="1.13" fill="#fdf0b8"/>
<rect x="382.75" y="328.90" width="1.09" height="1.13" fill="#fde39e"/>
<rect x="383.76" y="328.90" width="1.09" height="1.13" fill="#fde39e"/>
<rect x="384.78" y="328.90" width="1.09" height="1.13" fill="#f6f6d2"/>
<rect x="385.79" y="328.90" width="1.09" height="1.13" fill="#edf4ea"/>
<rect x="370.60" y="329.95" width="1.09" height="1.13" fill="#f7a263"/>
<rect x="371.61" y="329.95" width="1.09" height="1.13" fill="#fde39e"/>
<rect x="372.62" y="329.95" width="1.09" height="1.13" fill="#fcc483"/>
<rect x="373.64" y="329.95" width="1.09" height="1.13" fill="#d6d6da"/>
<rect x="374.65" y="329.95" width="1.09" height="1.13" fill="#fde39e"/>
<rect x="375.66" y="329.95" width="1.09" height="1.13" fill="#ddeef8"/>
<rect x="376.68" y="329.95" width="1.09" height="1.13" fill="#97c1e0"/>
<rect x="377.69" y="329.95" width="1.09" height="1.13" fill="#ddeef8"/>
<rect x="378.70" y="329.95" width="1.09" height="1.13" fill="#ddeef8"/>
<rect x="379.71" y="329.95" width="1.09" height="1.13" fill="#ddeef8"/>
<rect x="380.73" y="329.95" width="1.09" height="1.13" fill="#ddeef8"/>
<rect x="381.74" y="329.95" width="1.09" height="1.13" fill="#f6f6d2"/>
<rect x="382.75" y="329.95" width="1.09" height="1.13" fill="#edf4ea"/>
<rect x="383.76" y="329.95" width="1.09" height="1.13" fill="#edf4ea"/>
<rect x="384.78" y="329.95" width="1.09" height="1.13" fill="#ddeef8"/>
<rect x="385.79" y="329.95" width="1.09" height="1.13" fill="#c6e0f2"/>
<rect x="370.60" y="331.00" width="1.09" height="1.13" fill="#fcc483"/>
<rect x="371.61" y="331.00" width="1.09" height="1.13" fill="#fdf0b8"/>
<rect x="372.62" y="331.00" width="1.09" height="1.13" fill="#fde39e"/>
<rect x="373.64" y="331.00" width="1.09" height="1.13" fill="#fde39e"/>
<rect x="374.65" y="331.00" width="1.09" height="1.13" fill="#d6d6da"/>
<rect x="375.66" y="331.00" width="1.09" height="1.13" fill="#edf4ea"/>
<rect x="376.68" y="331.00" width="1.09" height="1.13" fill="#ddeef8"/>
<rect x="377.69" y="331.00" width="1.09" height="1.13" fill="#edf4ea"/>
<rect x="378.70" y="331.00" width="1.09" height="1.13" fill="#ddeef8"/>
<rect x="379.71" y="331.00" width="1.09" height="1.13" fill="#c6e0f2"/>
<rect x="380.73" y="331.00" width="1.09" height="1.13" fill="#ddeef8"/>
<rect x="381.74" y="331.00" width="1.09" height="1.13" fill="#fdf0b8"/>
<rect x="382.75" y="331.00" width="1.09" height="1.13" fill="#fde39e"/>
<rect x="383.76" y="331.00" width="1.09" height="1.13" fill="#f6f6d2"/>
<rect x="384.78" y="331.00" width="1.09" height="1.13" fill="#edf4ea"/>
<rect x="385.79" y="331.00" width="1.09" height="1.13" fill="#afd1ea"/>
<rect x="370.60" y="332.05" width="1.09" height="1.13" fill="#f6f6d2"/>
<rect x="371.61" y="332.05" width="1.09" height="1.13" fill="#edf4ea"/>
<rect x="372.62" y="332.05" width="1.09" height="1.13" fill="#edf4ea"/>
<rect x="373.64" y="332.05" width="1.09" height="1.13" fill="#ddeef8"/>
<rect x="374.65" y="332.05" width="1.09" height="1.13" fill="#edf4ea"/>
<rect x="375.66" y="332.05" width="1.09" height="1.13" fill="#d6d6da"/>
<rect x="376.68" y="332.05" width="1.09" height="1.13" fill="#fdd274"/>
<rect x="377.69" y="332.05" width="1.09" height="1.13" fill="#afd1ea"/>
<rect x="378.70" y="332.05" width="1.09" height="1.13" fill="#ddeef8"/>
<rect x="379.71" y="332.05" width="1.09" height="1.13" fill="#afd1ea"/>
<rect x="380.73" y="332.05" width="1.09" height="1.13" fill="#edf4ea"/>
<rect x="381.74" y="332.05" width="1.09" height="1.13" fill="#edf4ea"/>
<rect x="382.75" y="332.05" width="1.09" height="1.13" fill="#edf4ea"/>
<rect x="383.76" y="332.05" width="1.09" height="1.13" fill="#edf4ea"/>
<rect x="384.78" y="332.05" width="1.09" height="1.13" fill="#afd1ea"/>
<rect x="385.79" y="332.05" width="1.09" height="1.13" fill="#afd1ea"/>
<rect x="370.60" y="333.10" width="1.09" height="1.13" fill="#ddeef8"/>
<rect x="371.61" y="333.10" width="1.09" height="1.13" fill="#ddeef8"/>
<rect x="372.62" y="333.10" width="1.09" height="1.13" fill="#ddeef8"/>
<rect x="373.64" y="333.10" width="1.09" height="1.13" fill="#97c1e0"/>
<rect x="374.65" y="333.10" width="1.09" height="1.13" fill="#ddeef8"/>
<rect x="375.66" y="333.10" width="1.09" height="1.13" fill="#fdd274"/>
<rect x="376.68" y="333.10" width="1.09" height="1.13" fill="#d6d6da"/>
<rect x="377.69" y="333.10" width="1.09" height="1.13" fill="#afd1ea"/>
<rect x="378.70" y="333.10" width="1.09" height="1.13" fill="#ddeef8"/>
<rect x="379.71" y="333.10" width="1.09" height="1.13" fill="#97c1e0"/>
<rect x="380.73" y="333.10" width="1.09" height="1.13" fill="#afd1ea"/>
<rect x="381.74" y="333.10" width="1.09" height="1.13" fill="#afd1ea"/>
<rect x="382.75" y="333.10" width="1.09" height="1.13" fill="#afd1ea"/>
<rect x="383.76" y="333.10" width="1.09" height="1.13" fill="#afd1ea"/>
<rect x="384.78" y="333.10" width="1.09" height="1.13" fill="#afd1ea"/>
<rect x="385.79" y="333.10" width="1.09" height="1.13" fill="#97c1e0"/>
<rect x="370.60" y="334.15" width="1.09" height="1.13" fill="#edf4ea"/>
<rect x="371.61" y="334.15" width="1.09" height="1.13" fill="#edf4ea"/>
<rect x="372.62" y="334.15" width="1.09" height="1.13" fill="#edf4ea"/>
<rect x="373.64" y="334.15" width="1.09" height="1.13" fill="#ddeef8"/>
<rect x="374.65" y="334.15" width="1.09" height="1.13" fill="#edf4ea"/>
<rect x="375.66" y="334.15" width="1.09" height="1.13" fill="#afd1ea"/>
<rect x="376.68" y="334.15" width="1.09" height="1.13" fill="#afd1ea"/>
<rect x="377.69" y="334.15" width="1.09" height="1.13" fill="#d6d6da"/>
<rect x="378.70" y="334.15" width="1.09" height="1.13" fill="#ddeef8"/>
<rect x="379.71" y="334.15" width="1.09" height="1.13" fill="#afd1ea"/>
<rect x="380.73" y="334.15" width="1.09" height="1.13" fill="#97c1e0"/>
<rect x="381.74" y="334.15" width="1.09" height="1.13" fill="#ddeef8"/>
<rect x="382.75" y="334.15" width="1.09" height="1.13" fill="#afd1ea"/>
<rect x="383.76" y="334.15" width="1.09" height="1.13" fill="#ddeef8"/>
<rect x="384.78" y="334.15" width="1.09" height="1.13" fill="#afd1ea"/>
<rect x="385.79" y="334.15" width="1.09" height="1.13" fill="#afd1ea"/>
<rect x="370.60" y="335.20" width="1.09" height="1.13" fill="#edf4ea"/>
<rect x="371.61" y="335.20" width="1.09" height="1.13" fill="#edf4ea"/>
<rect x="372.62" y="335.20" width="1.09" height="1.13" fill="#f6f6d2"/>
<rect x="373.64" y="335.20" width="1.09" height="1.13" fill="#ddeef8"/>
<rect x="374.65" y="335.20" width="1.09" height="1.13" fill="#ddeef8"/>
<rect x="375.66" y="335.20" width="1.09" height="1.13" fill="#ddeef8"/>
<rect x="376.68" y="335.20" width="1.09" height="1.13" fill="#ddeef8"/>
<rect x="377.69" y="335.20" width="1.09" height="1.13" fill="#ddeef8"/>
<rect x="378.70" y="335.20" width="1.09" height="1.13" fill="#d6d6da"/>
<rect x="379.71" y="335.20" width="1.09" height="1.13" fill="#c6e0f2"/>
<rect x="380.73" y="335.20" width="1.09" height="1.13" fill="#afd1ea"/>
<rect x="381.74" y="335.20" width="1.09" height="1.13" fill="#ddeef8"/>
<rect x="382.75" y="335.20" width="1.09" height="1.13" fill="#ddeef8"/>
<rect x="383.76" y="335.20" width="1.09" height="1.13" fill="#ddeef8"/>
<rect x="384.78" y="335.20" width="1.09" height="1.13" fill="#edf4ea"/>
<rect x="385.79" y="335.20" width="1.09" height="1.13" fill="#97c1e0"/>
<rect x="370.60" y="336.25" width="1.09" height="1.13" fill="#edf4ea"/>
<rect x="371.61" y="336.25" width="1.09" height="1.13" fill="#ddeef8"/>
<rect x="372.62" y="336.25" width="1.09" height="1.13" fill="#edf4ea"/>
<rect x="373.64" y="336.25" width="1.09" height="1.13" fill="#ddeef8"/>
<rect x="374.65" y="336.25" width="1.09" height="1.13" fill="#c6e0f2"/>
<rect x="375.66" y="336.25" width="1.09" height="1.13" fill="#afd1ea"/>
<rect x="376.68" y="336.25" width="1.09" height="1.13" fill="#97c1e0"/>
<rect x="377.69" y="336.25" width="1.09" height="1.13" fill="#afd1ea"/>
<rect x="378.70" y="336.25" width="1.09" height="1.13" fill="#c6e0f2"/>
<rect x="379.71" y="336.25" width="1.09" height="1.13" fill="#d6d6da"/>
<rect x="380.73" y="336.25" width="1.09" height="1.13" fill="#97c1e0"/>
<rect x="381.74" y="336.25" width="1.09" height="1.13" fill="#ddeef8"/>
<rect x="382.75" y="336.25" width="1.09" height="1.13" fill="#ddeef8"/>
<rect x="383.76" y="336.25" width="1.09" height="1.13" fill="#ddeef8"/>
<rect x="384.78" y="336.25" width="1.09" height="1.13" fill="#ddeef8"/>
<rect x="385.79" y="336.25" width="1.09" height="1.13" fill="#afd1ea"/>
<rect x="370.60" y="337.30" width="1.09" height="1.13" fill="#ddeef8"/>
<rect x="371.61" y="337.30" width="1.09" height="1.13" fill="#c6e0f2"/>
<rect x="372.62" y="337.30" width="1.09" height="1.13" fill="#ddeef8"/>
<rect x="373.64" y="337.30" width="1.09" height="1.13" fill="#ddeef8"/>
<rect x="374.65" y="337.30" width="1.09" height="1.13" fill="#ddeef8"/>
<rect x="375.66" y="337.30" width="1.09" height="1.13" fill="#edf4ea"/>
<rect x="376.68" y="337.30" width="1.09" height="1.13" fill="#afd1ea"/>
<rect x="377.69" y="337.30" width="1.09" height="1.13" fill="#97c1e0"/>
<rect x="378.70" y="337.30" width="1.09" height="1.13" fill="#afd1ea"/>
<rect x="379.71" y="337.30" width="1.09" height="1.13" fill="#97c1e0"/>
<rect x="380.73" y="337.30" width="1.09" height="1.13" fill="#d6d6da"/>
<rect x="381.74" y="337.30" width="1.09" height="1.13" fill="#ddeef8"/>
<rect x="382.75" y="337.30" width="1.09" height="1.13" fill="#ddeef8"/>
<rect x="383.76" y="337.30" width="1.09" height="1.13" fill="#ddeef8"/>
<rect x="384.78" y="337.30" width="1.09" height="1.13" fill="#ddeef8"/>
<rect x="385.79" y="337.30" width="1.09" height="1.13" fill="#afd1ea"/>
<rect x="370.60" y="338.35" width="1.09" height="1.13" fill="#fdf0b8"/>
<rect x="371.61" y="338.35" width="1.09" height="1.13" fill="#f6f6d2"/>
<rect x="372.62" y="338.35" width="1.09" height="1.13" fill="#fdf0b8"/>
<rect x="373.64" y="338.35" width="1.09" height="1.13" fill="#f6f6d2"/>
<rect x="374.65" y="338.35" width="1.09" height="1.13" fill="#fdf0b8"/>
<rect x="375.66" y="338.35" width="1.09" height="1.13" fill="#edf4ea"/>
<rect x="376.68" y="338.35" width="1.09" height="1.13" fill="#afd1ea"/>
<rect x="377.69" y="338.35" width="1.09" height="1.13" fill="#ddeef8"/>
<rect x="378.70" y="338.35" width="1.09" height="1.13" fill="#ddeef8"/>
<rect x="379.71" y="338.35" width="1.09" height="1.13" fill="#ddeef8"/>
<rect x="380.73" y="338.35" width="1.09" height="1.13" fill="#ddeef8"/>
<rect x="381.74" y="338.35" width="1.09" height="1.13" fill="#d6d6da"/>
<rect x="382.75" y="338.35" width="1.09" height="1.13" fill="#f6f6d2"/>
<rect x="383.76" y="338.35" width="1.09" height="1.13" fill="#f6f6d2"/>
<rect x="384.78" y="338.35" width="1.09" height="1.13" fill="#ddeef8"/>
<rect x="385.79" y="338.35" width="1.09" height="1.13" fill="#ddeef8"/>
<rect x="370.60" y="339.40" width="1.09" height="1.13" fill="#fde39e"/>
<rect x="371.61" y="339.40" width="1.09" height="1.13" fill="#edf4ea"/>
<rect x="372.62" y="339.40" width="1.09" height="1.13" fill="#fde39e"/>
<rect x="373.64" y="339.40" width="1.09" height="1.13" fill="#edf4ea"/>
<rect x="374.65" y="339.40" width="1.09" height="1.13" fill="#fde39e"/>
<rect x="375.66" y="339.40" width="1.09" height="1.13" fill="#edf4ea"/>
<rect x="376.68" y="339.40" width="1.09" height="1.13" fill="#afd1ea"/>
<rect x="377.69" y="339.40" width="1.09" height="1.13" fill="#afd1ea"/>
<rect x="378.70" y="339.40" width="1.09" height="1.13" fill="#ddeef8"/>
<rect x="379.71" y="339.40" width="1.09" height="1.13" fill="#ddeef8"/>
<rect x="380.73" y="339.40" width="1.09" height="1.13" fill="#ddeef8"/>
<rect x="381.74" y="339.40" width="1.09" height="1.13" fill="#f6f6d2"/>
<rect x="382.75" y="339.40" width="1.09" height="1.13" fill="#d6d6da"/>
<rect x="383.76" y="339.40" width="1.09" height="1.13" fill="#f6f6d2"/>
<rect x="384.78" y="339.40" width="1.09" height="1.13" fill="#ddeef8"/>
<rect x="385.79" y="339.40" width="1.09" height="1.13" fill="#ddeef8"/>
<rect x="370.60" y="340.45" width="1.09" height="1.13" fill="#fdf0b8"/>
<rect x="371.61" y="340.45" width="1.09" height="1.13" fill="#edf4ea"/>
<rect x="372.62" y="340.45" width="1.09" height="1.13" fill="#fde39e"/>
<rect x="373.64" y="340.45" width="1.09" height="1.13" fill="#edf4ea"/>
<rect x="374.65" y="340.45" width="1.09" height="1.13" fill="#f6f6d2"/>
<rect x="375.66" y="340.45" width="1.09" height="1.13" fill="#edf4ea"/>
<rect x="376.68" y="340.45" width="1.09" height="1.13" fill="#afd1ea"/>
<rect x="377.69" y="340.45" width="1.09" height="1.13" fill="#ddeef8"/>
<rect x="378.70" y="340.45" width="1.09" height="1.13" fill="#ddeef8"/>
<rect x="379.71" y="340.45" width="1.09" height="1.13" fill="#ddeef8"/>
<rect x="380.73" y="340.45" width="1.09" height="1.13" fill="#ddeef8"/>
<rect x="381.74" y="340.45" width="1.09" height="1.13" fill="#f6f6d2"/>
<rect x="382.75" y="340.45" width="1.09" height="1.13" fill="#f6f6d2"/>
<rect x="383.76" y="340.45" width="1.09" height="1.13" fill="#d6d6da"/>
<rect x="384.78" y="340.45" width="1.09" height="1.13" fill="#f6f6d2"/>
<rect x="385.79" y="340.45" width="1.09" height="1.13" fill="#ddeef8"/>
<rect x="370.60" y="341.50" width="1.09" height="1.13" fill="#f6f6d2"/>
<rect x="371.61" y="341.50" width="1.09" height="1.13" fill="#edf4ea"/>
<rect x="372.62" y="341.50" width="1.09" height="1.13" fill="#f6f6d2"/>
<rect x="373.64" y="341.50" width="1.09" height="1.13" fill="#ddeef8"/>
<rect x="374.65" y="341.50" width="1.09" height="1.13" fill="#edf4ea"/>
<rect x="375.66" y="341.50" width="1.09" height="1.13" fill="#afd1ea"/>
<rect x="376.68" y="341.50" width="1.09" height="1.13" fill="#afd1ea"/>
<rect x="377.69" y="341.50" width="1.09" height="1.13" fill="#afd1ea"/>
<rect x="378.70" y="341.50" width="1.09" height="1.13" fill="#edf4ea"/>
<rect x="379.71" y="341.50" width="1.09" height="1.13" fill="#ddeef8"/>
<rect x="380.73" y="341.50" width="1.09" height="1.13" fill="#ddeef8"/>
<rect x="381.74" y="341.50" width="1.09" height="1.13" fill="#ddeef8"/>
<rect x="382.75" y="341.50" width="1.09" height="1.13" fill="#ddeef8"/>
<rect x="383.76" y="341.50" width="1.09" height="1.13" fill="#f6f6d2"/>
<rect x="384.78" y="341.50" width="1.09" height="1.13" fill="#d6d6da"/>
<rect x="385.79" y="341.50" width="1.09" height="1.13" fill="#f6f6d2"/>
<rect x="370.60" y="342.55" width="1.09" height="1.13" fill="#edf4ea"/>
<rect x="371.61" y="342.55" width="1.09" height="1.13" fill="#edf4ea"/>
<rect x="372.62" y="342.55" width="1.09" height="1.13" fill="#edf4ea"/>
<rect x="373.64" y="342.55" width="1.09" height="1.13" fill="#c6e0f2"/>
<rect x="374.65" y="342.55" width="1.09" height="1.13" fill="#afd1ea"/>
<rect x="375.66" y="342.55" width="1.09" height="1.13" fill="#afd1ea"/>
<rect x="376.68" y="342.55" width="1.09" height="1.13" fill="#97c1e0"/>
<rect x="377.69" y="342.55" width="1.09" height="1.13" fill="#afd1ea"/>
<rect x="378.70" y="342.55" width="1.09" height="1.13" fill="#97c1e0"/>
<rect x="379.71" y="342.55" width="1.09" height="1.13" fill="#afd1ea"/>
<rect x="380.73" y="342.55" width="1.09" height="1.13" fill="#afd1ea"/>
<rect x="381.74" y="342.55" width="1.09" height="1.13" fill="#ddeef8"/>
<rect x="382.75" y="342.55" width="1.09" height="1.13" fill="#ddeef8"/>
<rect x="383.76" y="342.55" width="1.09" height="1.13" fill="#ddeef8"/>
<rect x="384.78" y="342.55" width="1.09" height="1.13" fill="#f6f6d2"/>
<rect x="385.79" y="342.55" width="1.09" height="1.13" fill="#d6d6da"/>
<rect x="370.6" y="326.8" width="16.2" height="16.8" fill="#fff8c8" opacity="0.35"/>
<line x1="371" y1="327.2" x2="386.6" y2="343.2" stroke="#c8c8c8" stroke-width="0.6"/>
<rect x="370.6" y="326.8" width="16.2" height="16.8" fill="none" stroke="#444" stroke-width="0.7"/>
<line x1="386.8" y1="326.8" x2="401.3" y2="275.6" stroke="#777" stroke-width="0.6"/>
<line x1="386.8" y1="343.6" x2="401.3" y2="350.6" stroke="#777" stroke-width="0.6"/>
<rect x="401.30" y="275.60" width="4.64" height="4.77" fill="#d6d6da"/>
<rect x="405.86" y="275.60" width="4.64" height="4.77" fill="#e65a3a"/>
<rect x="410.41" y="275.60" width="4.64" height="4.77" fill="#d8322a"/>
<rect x="414.97" y="275.60" width="4.64" height="4.77" fill="#f7a263"/>
<rect x="419.53" y="275.60" width="4.64" height="4.77" fill="#fcc483"/>
<rect x="424.08" y="275.60" width="4.64" height="4.77" fill="#f6f6d2"/>
<rect x="428.64" y="275.60" width="4.64" height="4.77" fill="#ddeef8"/>
<rect x="433.19" y="275.60" width="4.64" height="4.77" fill="#edf4ea"/>
<rect x="437.75" y="275.60" width="4.64" height="4.77" fill="#edf4ea"/>
<rect x="442.31" y="275.60" width="4.64" height="4.77" fill="#edf4ea"/>
<rect x="446.86" y="275.60" width="4.64" height="4.77" fill="#ddeef8"/>
<rect x="451.42" y="275.60" width="4.64" height="4.77" fill="#fdf0b8"/>
<rect x="455.98" y="275.60" width="4.64" height="4.77" fill="#fde39e"/>
<rect x="460.53" y="275.60" width="4.64" height="4.77" fill="#fdf0b8"/>
<rect x="465.09" y="275.60" width="4.64" height="4.77" fill="#f6f6d2"/>
<rect x="469.64" y="275.60" width="4.64" height="4.77" fill="#edf4ea"/>
<rect x="401.30" y="280.29" width="4.64" height="4.77" fill="#e65a3a"/>
<rect x="405.86" y="280.29" width="4.64" height="4.77" fill="#d6d6da"/>
<rect x="410.41" y="280.29" width="4.64" height="4.77" fill="#d8322a"/>
<rect x="414.97" y="280.29" width="4.64" height="4.77" fill="#fde39e"/>
<rect x="419.53" y="280.29" width="4.64" height="4.77" fill="#fdf0b8"/>
<rect x="424.08" y="280.29" width="4.64" height="4.77" fill="#f6f6d2"/>
<rect x="428.64" y="280.29" width="4.64" height="4.77" fill="#ddeef8"/>
<rect x="433.19" y="280.29" width="4.64" height="4.77" fill="#edf4ea"/>
<rect x="437.75" y="280.29" width="4.64" height="4.77" fill="#edf4ea"/>
<rect x="442.31" y="280.29" width="4.64" height="4.77" fill="#ddeef8"/>
<rect x="446.86" y="280.29" width="4.64" height="4.77" fill="#c6e0f2"/>
<rect x="451.42" y="280.29" width="4.64" height="4.77" fill="#f6f6d2"/>
<rect x="455.98" y="280.29" width="4.64" height="4.77" fill="#edf4ea"/>
<rect x="460.53" y="280.29" width="4.64" height="4.77" fill="#edf4ea"/>
<rect x="465.09" y="280.29" width="4.64" height="4.77" fill="#edf4ea"/>
<rect x="469.64" y="280.29" width="4.64" height="4.77" fill="#edf4ea"/>
<rect x="401.30" y="284.98" width="4.64" height="4.77" fill="#d8322a"/>
<rect x="405.86" y="284.98" width="4.64" height="4.77" fill="#d8322a"/>
<rect x="410.41" y="284.98" width="4.64" height="4.77" fill="#d6d6da"/>
<rect x="414.97" y="284.98" width="4.64" height="4.77" fill="#fcc483"/>
<rect x="419.53" y="284.98" width="4.64" height="4.77" fill="#fde39e"/>
<rect x="424.08" y="284.98" width="4.64" height="4.77" fill="#edf4ea"/>
<rect x="428.64" y="284.98" width="4.64" height="4.77" fill="#ddeef8"/>
<rect x="433.19" y="284.98" width="4.64" height="4.77" fill="#edf4ea"/>
<rect x="437.75" y="284.98" width="4.64" height="4.77" fill="#f6f6d2"/>
<rect x="442.31" y="284.98" width="4.64" height="4.77" fill="#edf4ea"/>
<rect x="446.86" y="284.98" width="4.64" height="4.77" fill="#ddeef8"/>
<rect x="451.42" y="284.98" width="4.64" height="4.77" fill="#fdf0b8"/>
<rect x="455.98" y="284.98" width="4.64" height="4.77" fill="#fde39e"/>
<rect x="460.53" y="284.98" width="4.64" height="4.77" fill="#fde39e"/>
<rect x="465.09" y="284.98" width="4.64" height="4.77" fill="#f6f6d2"/>
<rect x="469.64" y="284.98" width="4.64" height="4.77" fill="#edf4ea"/>
<rect x="401.30" y="289.66" width="4.64" height="4.77" fill="#f7a263"/>
<rect x="405.86" y="289.66" width="4.64" height="4.77" fill="#fde39e"/>
<rect x="410.41" y="289.66" width="4.64" height="4.77" fill="#fcc483"/>
<rect x="414.97" y="289.66" width="4.64" height="4.77" fill="#d6d6da"/>
<rect x="419.53" y="289.66" width="4.64" height="4.77" fill="#fde39e"/>
<rect x="424.08" y="289.66" width="4.64" height="4.77" fill="#ddeef8"/>
<rect x="428.64" y="289.66" width="4.64" height="4.77" fill="#97c1e0"/>
<rect x="433.19" y="289.66" width="4.64" height="4.77" fill="#ddeef8"/>
<rect x="437.75" y="289.66" width="4.64" height="4.77" fill="#ddeef8"/>
<rect x="442.31" y="289.66" width="4.64" height="4.77" fill="#ddeef8"/>
<rect x="446.86" y="289.66" width="4.64" height="4.77" fill="#ddeef8"/>
<rect x="451.42" y="289.66" width="4.64" height="4.77" fill="#f6f6d2"/>
<rect x="455.98" y="289.66" width="4.64" height="4.77" fill="#edf4ea"/>
<rect x="460.53" y="289.66" width="4.64" height="4.77" fill="#edf4ea"/>
<rect x="465.09" y="289.66" width="4.64" height="4.77" fill="#ddeef8"/>
<rect x="469.64" y="289.66" width="4.64" height="4.77" fill="#c6e0f2"/>
<rect x="401.30" y="294.35" width="4.64" height="4.77" fill="#fcc483"/>
<rect x="405.86" y="294.35" width="4.64" height="4.77" fill="#fdf0b8"/>
<rect x="410.41" y="294.35" width="4.64" height="4.77" fill="#fde39e"/>
<rect x="414.97" y="294.35" width="4.64" height="4.77" fill="#fde39e"/>
<rect x="419.53" y="294.35" width="4.64" height="4.77" fill="#d6d6da"/>
<rect x="424.08" y="294.35" width="4.64" height="4.77" fill="#edf4ea"/>
<rect x="428.64" y="294.35" width="4.64" height="4.77" fill="#ddeef8"/>
<rect x="433.19" y="294.35" width="4.64" height="4.77" fill="#edf4ea"/>
<rect x="437.75" y="294.35" width="4.64" height="4.77" fill="#ddeef8"/>
<rect x="442.31" y="294.35" width="4.64" height="4.77" fill="#c6e0f2"/>
<rect x="446.86" y="294.35" width="4.64" height="4.77" fill="#ddeef8"/>
<rect x="451.42" y="294.35" width="4.64" height="4.77" fill="#fdf0b8"/>
<rect x="455.98" y="294.35" width="4.64" height="4.77" fill="#fde39e"/>
<rect x="460.53" y="294.35" width="4.64" height="4.77" fill="#f6f6d2"/>
<rect x="465.09" y="294.35" width="4.64" height="4.77" fill="#edf4ea"/>
<rect x="469.64" y="294.35" width="4.64" height="4.77" fill="#afd1ea"/>
<rect x="401.30" y="299.04" width="4.64" height="4.77" fill="#f6f6d2"/>
<rect x="405.86" y="299.04" width="4.64" height="4.77" fill="#edf4ea"/>
<rect x="410.41" y="299.04" width="4.64" height="4.77" fill="#edf4ea"/>
<rect x="414.97" y="299.04" width="4.64" height="4.77" fill="#ddeef8"/>
<rect x="419.53" y="299.04" width="4.64" height="4.77" fill="#edf4ea"/>
<rect x="424.08" y="299.04" width="4.64" height="4.77" fill="#d6d6da"/>
<rect x="428.64" y="299.04" width="4.64" height="4.77" fill="#fdd274"/>
<rect x="433.19" y="299.04" width="4.64" height="4.77" fill="#afd1ea"/>
<rect x="437.75" y="299.04" width="4.64" height="4.77" fill="#ddeef8"/>
<rect x="442.31" y="299.04" width="4.64" height="4.77" fill="#afd1ea"/>
<rect x="446.86" y="299.04" width="4.64" height="4.77" fill="#edf4ea"/>
<rect x="451.42" y="299.04" width="4.64" height="4.77" fill="#edf4ea"/>
<rect x="455.98" y="299.04" width="4.64" height="4.77" fill="#edf4ea"/>
<rect x="460.53" y="299.04" width="4.64" height="4.77" fill="#edf4ea"/>
<rect x="465.09" y="299.04" width="4.64" height="4.77" fill="#afd1ea"/>
<rect x="469.64" y="299.04" width="4.64" height="4.77" fill="#afd1ea"/>
<rect x="401.30" y="303.73" width="4.64" height="4.77" fill="#ddeef8"/>
<rect x="405.86" y="303.73" width="4.64" height="4.77" fill="#ddeef8"/>
<rect x="410.41" y="303.73" width="4.64" height="4.77" fill="#ddeef8"/>
<rect x="414.97" y="303.73" width="4.64" height="4.77" fill="#97c1e0"/>
<rect x="419.53" y="303.73" width="4.64" height="4.77" fill="#ddeef8"/>
<rect x="424.08" y="303.73" width="4.64" height="4.77" fill="#fdd274"/>
<rect x="428.64" y="303.73" width="4.64" height="4.77" fill="#d6d6da"/>
<rect x="433.19" y="303.73" width="4.64" height="4.77" fill="#afd1ea"/>
<rect x="437.75" y="303.73" width="4.64" height="4.77" fill="#ddeef8"/>
<rect x="442.31" y="303.73" width="4.64" height="4.77" fill="#97c1e0"/>
<rect x="446.86" y="303.73" width="4.64" height="4.77" fill="#afd1ea"/>
<rect x="451.42" y="303.73" width="4.64" height="4.77" fill="#afd1ea"/>
<rect x="455.98" y="303.73" width="4.64" height="4.77" fill="#afd1ea"/>
<rect x="460.53" y="303.73" width="4.64" height="4.77" fill="#afd1ea"/>
<rect x="465.09" y="303.73" width="4.64" height="4.77" fill="#afd1ea"/>
<rect x="469.64" y="303.73" width="4.64" height="4.77" fill="#97c1e0"/>
<rect x="401.30" y="308.41" width="4.64" height="4.77" fill="#edf4ea"/>
<rect x="405.86" y="308.41" width="4.64" height="4.77" fill="#edf4ea"/>
<rect x="410.41" y="308.41" width="4.64" height="4.77" fill="#edf4ea"/>
<rect x="414.97" y="308.41" width="4.64" height="4.77" fill="#ddeef8"/>
<rect x="419.53" y="308.41" width="4.64" height="4.77" fill="#edf4ea"/>
<rect x="424.08" y="308.41" width="4.64" height="4.77" fill="#afd1ea"/>
<rect x="428.64" y="308.41" width="4.64" height="4.77" fill="#afd1ea"/>
<rect x="433.19" y="308.41" width="4.64" height="4.77" fill="#d6d6da"/>
<rect x="437.75" y="308.41" width="4.64" height="4.77" fill="#ddeef8"/>
<rect x="442.31" y="308.41" width="4.64" height="4.77" fill="#afd1ea"/>
<rect x="446.86" y="308.41" width="4.64" height="4.77" fill="#97c1e0"/>
<rect x="451.42" y="308.41" width="4.64" height="4.77" fill="#ddeef8"/>
<rect x="455.98" y="308.41" width="4.64" height="4.77" fill="#afd1ea"/>
<rect x="460.53" y="308.41" width="4.64" height="4.77" fill="#ddeef8"/>
<rect x="465.09" y="308.41" width="4.64" height="4.77" fill="#afd1ea"/>
<rect x="469.64" y="308.41" width="4.64" height="4.77" fill="#afd1ea"/>
<rect x="401.30" y="313.10" width="4.64" height="4.77" fill="#edf4ea"/>
<rect x="405.86" y="313.10" width="4.64" height="4.77" fill="#edf4ea"/>
<rect x="410.41" y="313.10" width="4.64" height="4.77" fill="#f6f6d2"/>
<rect x="414.97" y="313.10" width="4.64" height="4.77" fill="#ddeef8"/>
<rect x="419.53" y="313.10" width="4.64" height="4.77" fill="#ddeef8"/>
<rect x="424.08" y="313.10" width="4.64" height="4.77" fill="#ddeef8"/>
<rect x="428.64" y="313.10" width="4.64" height="4.77" fill="#ddeef8"/>
<rect x="433.19" y="313.10" width="4.64" height="4.77" fill="#ddeef8"/>
<rect x="437.75" y="313.10" width="4.64" height="4.77" fill="#d6d6da"/>
<rect x="442.31" y="313.10" width="4.64" height="4.77" fill="#c6e0f2"/>
<rect x="446.86" y="313.10" width="4.64" height="4.77" fill="#afd1ea"/>
<rect x="451.42" y="313.10" width="4.64" height="4.77" fill="#ddeef8"/>
<rect x="455.98" y="313.10" width="4.64" height="4.77" fill="#ddeef8"/>
<rect x="460.53" y="313.10" width="4.64" height="4.77" fill="#ddeef8"/>
<rect x="465.09" y="313.10" width="4.64" height="4.77" fill="#edf4ea"/>
<rect x="469.64" y="313.10" width="4.64" height="4.77" fill="#97c1e0"/>
<rect x="401.30" y="317.79" width="4.64" height="4.77" fill="#edf4ea"/>
<rect x="405.86" y="317.79" width="4.64" height="4.77" fill="#ddeef8"/>
<rect x="410.41" y="317.79" width="4.64" height="4.77" fill="#edf4ea"/>
<rect x="414.97" y="317.79" width="4.64" height="4.77" fill="#ddeef8"/>
<rect x="419.53" y="317.79" width="4.64" height="4.77" fill="#c6e0f2"/>
<rect x="424.08" y="317.79" width="4.64" height="4.77" fill="#afd1ea"/>
<rect x="428.64" y="317.79" width="4.64" height="4.77" fill="#97c1e0"/>
<rect x="433.19" y="317.79" width="4.64" height="4.77" fill="#afd1ea"/>
<rect x="437.75" y="317.79" width="4.64" height="4.77" fill="#c6e0f2"/>
<rect x="442.31" y="317.79" width="4.64" height="4.77" fill="#d6d6da"/>
<rect x="446.86" y="317.79" width="4.64" height="4.77" fill="#97c1e0"/>
<rect x="451.42" y="317.79" width="4.64" height="4.77" fill="#ddeef8"/>
<rect x="455.98" y="317.79" width="4.64" height="4.77" fill="#ddeef8"/>
<rect x="460.53" y="317.79" width="4.64" height="4.77" fill="#ddeef8"/>
<rect x="465.09" y="317.79" width="4.64" height="4.77" fill="#ddeef8"/>
<rect x="469.64" y="317.79" width="4.64" height="4.77" fill="#afd1ea"/>
<rect x="401.30" y="322.48" width="4.64" height="4.77" fill="#ddeef8"/>
<rect x="405.86" y="322.48" width="4.64" height="4.77" fill="#c6e0f2"/>
<rect x="410.41" y="322.48" width="4.64" height="4.77" fill="#ddeef8"/>
<rect x="414.97" y="322.48" width="4.64" height="4.77" fill="#ddeef8"/>
<rect x="419.53" y="322.48" width="4.64" height="4.77" fill="#ddeef8"/>
<rect x="424.08" y="322.48" width="4.64" height="4.77" fill="#edf4ea"/>
<rect x="428.64" y="322.48" width="4.64" height="4.77" fill="#afd1ea"/>
<rect x="433.19" y="322.48" width="4.64" height="4.77" fill="#97c1e0"/>
<rect x="437.75" y="322.48" width="4.64" height="4.77" fill="#afd1ea"/>
<rect x="442.31" y="322.48" width="4.64" height="4.77" fill="#97c1e0"/>
<rect x="446.86" y="322.48" width="4.64" height="4.77" fill="#d6d6da"/>
<rect x="451.42" y="322.48" width="4.64" height="4.77" fill="#ddeef8"/>
<rect x="455.98" y="322.48" width="4.64" height="4.77" fill="#ddeef8"/>
<rect x="460.53" y="322.48" width="4.64" height="4.77" fill="#ddeef8"/>
<rect x="465.09" y="322.48" width="4.64" height="4.77" fill="#ddeef8"/>
<rect x="469.64" y="322.48" width="4.64" height="4.77" fill="#afd1ea"/>
<rect x="401.30" y="327.16" width="4.64" height="4.77" fill="#fdf0b8"/>
<rect x="405.86" y="327.16" width="4.64" height="4.77" fill="#f6f6d2"/>
<rect x="410.41" y="327.16" width="4.64" height="4.77" fill="#fdf0b8"/>
<rect x="414.97" y="327.16" width="4.64" height="4.77" fill="#f6f6d2"/>
<rect x="419.53" y="327.16" width="4.64" height="4.77" fill="#fdf0b8"/>
<rect x="424.08" y="327.16" width="4.64" height="4.77" fill="#edf4ea"/>
<rect x="428.64" y="327.16" width="4.64" height="4.77" fill="#afd1ea"/>
<rect x="433.19" y="327.16" width="4.64" height="4.77" fill="#ddeef8"/>
<rect x="437.75" y="327.16" width="4.64" height="4.77" fill="#ddeef8"/>
<rect x="442.31" y="327.16" width="4.64" height="4.77" fill="#ddeef8"/>
<rect x="446.86" y="327.16" width="4.64" height="4.77" fill="#ddeef8"/>
<rect x="451.42" y="327.16" width="4.64" height="4.77" fill="#d6d6da"/>
<rect x="455.98" y="327.16" width="4.64" height="4.77" fill="#f6f6d2"/>
<rect x="460.53" y="327.16" width="4.64" height="4.77" fill="#f6f6d2"/>
<rect x="465.09" y="327.16" width="4.64" height="4.77" fill="#ddeef8"/>
<rect x="469.64" y="327.16" width="4.64" height="4.77" fill="#ddeef8"/>
<rect x="401.30" y="331.85" width="4.64" height="4.77" fill="#fde39e"/>
<rect x="405.86" y="331.85" width="4.64" height="4.77" fill="#edf4ea"/>
<rect x="410.41" y="331.85" width="4.64" height="4.77" fill="#fde39e"/>
<rect x="414.97" y="331.85" width="4.64" height="4.77" fill="#edf4ea"/>
<rect x="419.53" y="331.85" width="4.64" height="4.77" fill="#fde39e"/>
<rect x="424.08" y="331.85" width="4.64" height="4.77" fill="#edf4ea"/>
<rect x="428.64" y="331.85" width="4.64" height="4.77" fill="#afd1ea"/>
<rect x="433.19" y="331.85" width="4.64" height="4.77" fill="#afd1ea"/>
<rect x="437.75" y="331.85" width="4.64" height="4.77" fill="#ddeef8"/>
<rect x="442.31" y="331.85" width="4.64" height="4.77" fill="#ddeef8"/>
<rect x="446.86" y="331.85" width="4.64" height="4.77" fill="#ddeef8"/>
<rect x="451.42" y="331.85" width="4.64" height="4.77" fill="#f6f6d2"/>
<rect x="455.98" y="331.85" width="4.64" height="4.77" fill="#d6d6da"/>
<rect x="460.53" y="331.85" width="4.64" height="4.77" fill="#f6f6d2"/>
<rect x="465.09" y="331.85" width="4.64" height="4.77" fill="#ddeef8"/>
<rect x="469.64" y="331.85" width="4.64" height="4.77" fill="#ddeef8"/>
<rect x="401.30" y="336.54" width="4.64" height="4.77" fill="#fdf0b8"/>
<rect x="405.86" y="336.54" width="4.64" height="4.77" fill="#edf4ea"/>
<rect x="410.41" y="336.54" width="4.64" height="4.77" fill="#fde39e"/>
<rect x="414.97" y="336.54" width="4.64" height="4.77" fill="#edf4ea"/>
<rect x="419.53" y="336.54" width="4.64" height="4.77" fill="#f6f6d2"/>
<rect x="424.08" y="336.54" width="4.64" height="4.77" fill="#edf4ea"/>
<rect x="428.64" y="336.54" width="4.64" height="4.77" fill="#afd1ea"/>
<rect x="433.19" y="336.54" width="4.64" height="4.77" fill="#ddeef8"/>
<rect x="437.75" y="336.54" width="4.64" height="4.77" fill="#ddeef8"/>
<rect x="442.31" y="336.54" width="4.64" height="4.77" fill="#ddeef8"/>
<rect x="446.86" y="336.54" width="4.64" height="4.77" fill="#ddeef8"/>
<rect x="451.42" y="336.54" width="4.64" height="4.77" fill="#f6f6d2"/>
<rect x="455.98" y="336.54" width="4.64" height="4.77" fill="#f6f6d2"/>
<rect x="460.53" y="336.54" width="4.64" height="4.77" fill="#d6d6da"/>
<rect x="465.09" y="336.54" width="4.64" height="4.77" fill="#f6f6d2"/>
<rect x="469.64" y="336.54" width="4.64" height="4.77" fill="#ddeef8"/>
<rect x="401.30" y="341.23" width="4.64" height="4.77" fill="#f6f6d2"/>
<rect x="405.86" y="341.23" width="4.64" height="4.77" fill="#edf4ea"/>
<rect x="410.41" y="341.23" width="4.64" height="4.77" fill="#f6f6d2"/>
<rect x="414.97" y="341.23" width="4.64" height="4.77" fill="#ddeef8"/>
<rect x="419.53" y="341.23" width="4.64" height="4.77" fill="#edf4ea"/>
<rect x="424.08" y="341.23" width="4.64" height="4.77" fill="#afd1ea"/>
<rect x="428.64" y="341.23" width="4.64" height="4.77" fill="#afd1ea"/>
<rect x="433.19" y="341.23" width="4.64" height="4.77" fill="#afd1ea"/>
<rect x="437.75" y="341.23" width="4.64" height="4.77" fill="#edf4ea"/>
<rect x="442.31" y="341.23" width="4.64" height="4.77" fill="#ddeef8"/>
<rect x="446.86" y="341.23" width="4.64" height="4.77" fill="#ddeef8"/>
<rect x="451.42" y="341.23" width="4.64" height="4.77" fill="#ddeef8"/>
<rect x="455.98" y="341.23" width="4.64" height="4.77" fill="#ddeef8"/>
<rect x="460.53" y="341.23" width="4.64" height="4.77" fill="#f6f6d2"/>
<rect x="465.09" y="341.23" width="4.64" height="4.77" fill="#d6d6da"/>
<rect x="469.64" y="341.23" width="4.64" height="4.77" fill="#f6f6d2"/>
<rect x="401.30" y="345.91" width="4.64" height="4.77" fill="#edf4ea"/>
<rect x="405.86" y="345.91" width="4.64" height="4.77" fill="#edf4ea"/>
<rect x="410.41" y="345.91" width="4.64" height="4.77" fill="#edf4ea"/>
<rect x="414.97" y="345.91" width="4.64" height="4.77" fill="#c6e0f2"/>
<rect x="419.53" y="345.91" width="4.64" height="4.77" fill="#afd1ea"/>
<rect x="424.08" y="345.91" width="4.64" height="4.77" fill="#afd1ea"/>
<rect x="428.64" y="345.91" width="4.64" height="4.77" fill="#97c1e0"/>
<rect x="433.19" y="345.91" width="4.64" height="4.77" fill="#afd1ea"/>
<rect x="437.75" y="345.91" width="4.64" height="4.77" fill="#97c1e0"/>
<rect x="442.31" y="345.91" width="4.64" height="4.77" fill="#afd1ea"/>
<rect x="446.86" y="345.91" width="4.64" height="4.77" fill="#afd1ea"/>
<rect x="451.42" y="345.91" width="4.64" height="4.77" fill="#ddeef8"/>
<rect x="455.98" y="345.91" width="4.64" height="4.77" fill="#ddeef8"/>
<rect x="460.53" y="345.91" width="4.64" height="4.77" fill="#ddeef8"/>
<rect x="465.09" y="345.91" width="4.64" height="4.77" fill="#f6f6d2"/>
<rect x="469.64" y="345.91" width="4.64" height="4.77" fill="#d6d6da"/>
<rect x="401.3" y="275.6" width="72.9" height="75.0" fill="none" stroke="#777" stroke-width="0.7"/>
<text x="475.7" y="279.79375000000005" font-size="5.3" fill="#111" stroke="#111" stroke-width="0.06" text-anchor="start" font-weight="normal" font-style="normal">Runx1</text>
<text x="0" y="0" font-size="5.3" fill="#111" stroke="#111" stroke-width="0.06" transform="translate(401.73 352.4) rotate(90)">Runx1</text>
<text x="475.7" y="284.48125000000005" font-size="5.3" fill="#111" stroke="#111" stroke-width="0.06" text-anchor="start" font-weight="normal" font-style="normal">Cebpb</text>
<text x="0" y="0" font-size="5.3" fill="#111" stroke="#111" stroke-width="0.06" transform="translate(406.28 352.4) rotate(90)">Cebpb</text>
<text x="475.7" y="289.16875000000005" font-size="5.3" fill="#111" stroke="#111" stroke-width="0.06" text-anchor="start" font-weight="normal" font-style="normal">Mycn</text>
<text x="0" y="0" font-size="5.3" fill="#111" stroke="#111" stroke-width="0.06" transform="translate(410.84 352.4) rotate(90)">Mycn</text>
<text x="475.7" y="293.85625000000005" font-size="5.3" fill="#111" stroke="#111" stroke-width="0.06" text-anchor="start" font-weight="normal" font-style="normal">Hoxa9</text>
<text x="0" y="0" font-size="5.3" fill="#111" stroke="#111" stroke-width="0.06" transform="translate(415.40 352.4) rotate(90)">Hoxa9</text>
<text x="475.7" y="298.54375000000005" font-size="5.3" fill="#111" stroke="#111" stroke-width="0.06" text-anchor="start" font-weight="normal" font-style="normal">Hmga2</text>
<text x="0" y="0" font-size="5.3" fill="#111" stroke="#111" stroke-width="0.06" transform="translate(419.95 352.4) rotate(90)">Hmga2</text>
<text x="475.7" y="303.23125000000005" font-size="5.3" fill="#111" stroke="#111" stroke-width="0.06" text-anchor="start" font-weight="normal" font-style="normal">Jun</text>
<text x="0" y="0" font-size="5.3" fill="#111" stroke="#111" stroke-width="0.06" transform="translate(424.51 352.4) rotate(90)">Jun</text>
<text x="475.7" y="307.91875000000005" font-size="5.3" fill="#111" stroke="#111" stroke-width="0.06" text-anchor="start" font-weight="normal" font-style="normal">Jund</text>
<text x="0" y="0" font-size="5.3" fill="#111" stroke="#111" stroke-width="0.06" transform="translate(429.07 352.4) rotate(90)">Jund</text>
<text x="475.7" y="312.60625000000005" font-size="5.3" fill="#111" stroke="#111" stroke-width="0.06" text-anchor="start" font-weight="normal" font-style="normal">Tal1</text>
<text x="0" y="0" font-size="5.3" fill="#111" stroke="#111" stroke-width="0.06" transform="translate(433.62 352.4) rotate(90)">Tal1</text>
<text x="475.7" y="317.29375000000005" font-size="5.3" fill="#111" stroke="#111" stroke-width="0.06" text-anchor="start" font-weight="normal" font-style="normal">Gata2</text>
<text x="0" y="0" font-size="5.3" fill="#111" stroke="#111" stroke-width="0.06" transform="translate(438.18 352.4) rotate(90)">Gata2</text>
<text x="475.7" y="321.98125000000005" font-size="5.3" fill="#111" stroke="#111" stroke-width="0.06" text-anchor="start" font-weight="normal" font-style="normal">Stat4</text>
<text x="0" y="0" font-size="5.3" fill="#111" stroke="#111" stroke-width="0.06" transform="translate(442.73 352.4) rotate(90)">Stat4</text>
<text x="475.7" y="326.66875000000005" font-size="5.3" fill="#111" stroke="#111" stroke-width="0.06" text-anchor="start" font-weight="normal" font-style="normal">Hhex</text>
<text x="0" y="0" font-size="5.3" fill="#111" stroke="#111" stroke-width="0.06" transform="translate(447.29 352.4) rotate(90)">Hhex</text>
<text x="475.7" y="331.35625000000005" font-size="5.3" fill="#111" stroke="#111" stroke-width="0.06" text-anchor="start" font-weight="normal" font-style="normal">Pbx1</text>
<text x="0" y="0" font-size="5.3" fill="#111" stroke="#111" stroke-width="0.06" transform="translate(451.85 352.4) rotate(90)">Pbx1</text>
<text x="475.7" y="336.04375000000005" font-size="5.3" fill="#111" stroke="#111" stroke-width="0.06" text-anchor="start" font-weight="normal" font-style="normal">Meis1</text>
<text x="0" y="0" font-size="5.3" fill="#111" stroke="#111" stroke-width="0.06" transform="translate(456.40 352.4) rotate(90)">Meis1</text>
<text x="475.7" y="340.73125000000005" font-size="5.3" fill="#111" stroke="#111" stroke-width="0.06" text-anchor="start" font-weight="normal" font-style="normal">Bcl11a</text>
<text x="0" y="0" font-size="5.3" fill="#111" stroke="#111" stroke-width="0.06" transform="translate(460.96 352.4) rotate(90)">Bcl11a</text>
<text x="475.7" y="345.41875000000005" font-size="5.3" fill="#111" stroke="#111" stroke-width="0.06" text-anchor="start" font-weight="normal" font-style="normal">Hlf</text>
<text x="0" y="0" font-size="5.3" fill="#111" stroke="#111" stroke-width="0.06" transform="translate(465.52 352.4) rotate(90)">Hlf</text>
<text x="475.7" y="350.10625000000005" font-size="5.3" fill="#111" stroke="#111" stroke-width="0.06" text-anchor="start" font-weight="normal" font-style="normal">Nfe2</text>
<text x="0" y="0" font-size="5.3" fill="#111" stroke="#111" stroke-width="0.06" transform="translate(470.07 352.4) rotate(90)">Nfe2</text>
<text x="436.8" y="267.0" font-size="6.6" fill="#222" stroke="#222" stroke-width="0.06" text-anchor="middle" font-weight="normal" font-style="normal" textLength="25.6" lengthAdjust="spacingAndGlyphs">Correlation</text>
<rect x="426.8" y="268.4" width="22.2" height="3.9" fill="url(#gCB)"/>
<text x="423.2" y="273.0" font-size="6.6" fill="#222" stroke="#222" stroke-width="0.06" text-anchor="middle" font-weight="normal" font-style="normal">0</text>
<text x="449.8" y="273.0" font-size="6.6" fill="#222" stroke="#222" stroke-width="0.06" text-anchor="start" font-weight="normal" font-style="normal" textLength="8.5" lengthAdjust="spacingAndGlyphs">0.5</text>
<rect x="0.5" y="0.5" width="519" height="376" fill="none" stroke="#000" stroke-width="1.4"/>
</svg></body></html>
